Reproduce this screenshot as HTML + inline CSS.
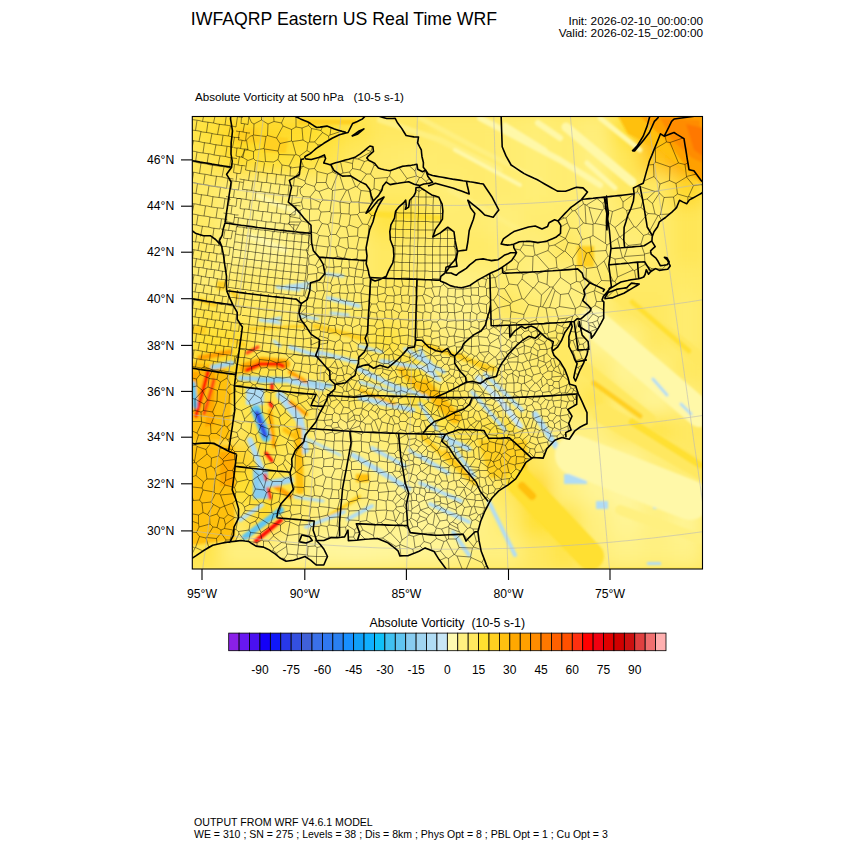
<!DOCTYPE html>
<html><head><meta charset="utf-8">
<style>
html,body{margin:0;padding:0;background:#fff;width:850px;height:850px;overflow:hidden}
svg{display:block}
text{font-family:"Liberation Sans",sans-serif;fill:#000}
</style></head><body>
<svg width="850" height="850" viewBox="0 0 850 850">
<defs><clipPath id="mc"><rect x="192.3" y="116.5" width="510.2" height="452.5"/></clipPath><filter id="blur" x="-5%" y="-5%" width="110%" height="110%"><feGaussianBlur stdDeviation="1.3"/></filter><filter id="gblur" x="0" y="0" width="100%" height="100%"><feGaussianBlur stdDeviation="9" edgeMode="duplicate"/></filter></defs>

<text x="190.8" y="25.3" font-size="17.7">IWFAQRP Eastern US Real Time WRF</text>
<text x="703" y="24.5" font-size="11.75" text-anchor="end">Init: 2026-02-10_00:00:00</text>
<text x="703" y="37.2" font-size="11.75" text-anchor="end">Valid: 2026-02-15_02:00:00</text>
<text x="195" y="101.2" font-size="11.65" xml:space="preserve">Absolute Vorticity at 500 hPa   (10-5 s-1)</text>
<text x="194" y="826" font-size="10.6">OUTPUT FROM WRF V4.6.1 MODEL</text>
<text x="194" y="837.5" font-size="10.52">WE = 310 ; SN = 275 ; Levels = 38 ; Dis = 8km ; Phys Opt = 8 ; PBL Opt = 1 ; Cu Opt = 3</text>

<g clip-path="url(#mc)">
<rect x="192.3" y="116.5" width="510.2" height="452.5" fill="#FFE860"/>
<g filter="url(#gblur)"><rect x="191" y="115" width="32" height="32" fill="#FFE23A"/><rect x="221" y="115" width="32" height="32" fill="#FFD828"/><rect x="251" y="115" width="32" height="32" fill="#FFD828"/><rect x="281" y="115" width="32" height="32" fill="#FFDB2B"/><rect x="311" y="115" width="32" height="32" fill="#FFE030"/><rect x="341" y="115" width="32" height="32" fill="#FFE448"/><rect x="371" y="115" width="32" height="32" fill="#FFE860"/><rect x="401" y="115" width="32" height="32" fill="#FFE860"/><rect x="431" y="115" width="32" height="32" fill="#FFEB6D"/><rect x="461" y="115" width="32" height="32" fill="#FFEB6D"/><rect x="491" y="115" width="32" height="32" fill="#FFEC70"/><rect x="521" y="115" width="32" height="32" fill="#FFEE76"/><rect x="551" y="115" width="32" height="32" fill="#FFEC70"/><rect x="581" y="115" width="32" height="32" fill="#FFEE7A"/><rect x="611" y="115" width="32" height="32" fill="#FFE030"/><rect x="641" y="115" width="32" height="32" fill="#FFA400"/><rect x="671" y="115" width="32" height="32" fill="#FF8C00"/><rect x="191" y="145" width="32" height="32" fill="#FFE652"/><rect x="221" y="145" width="32" height="32" fill="#FFDD2D"/><rect x="251" y="145" width="32" height="32" fill="#FFE030"/><rect x="281" y="145" width="32" height="32" fill="#FFE23A"/><rect x="311" y="145" width="32" height="32" fill="#FFE448"/><rect x="341" y="145" width="32" height="32" fill="#FFE860"/><rect x="371" y="145" width="32" height="32" fill="#FFEA6A"/><rect x="401" y="145" width="32" height="32" fill="#FFEC70"/><rect x="431" y="145" width="32" height="32" fill="#FFEB6D"/><rect x="461" y="145" width="32" height="32" fill="#FFEB6D"/><rect x="491" y="145" width="32" height="32" fill="#FFEC70"/><rect x="521" y="145" width="32" height="32" fill="#FFEE76"/><rect x="551" y="145" width="32" height="32" fill="#FFEC70"/><rect x="581" y="145" width="32" height="32" fill="#FFF080"/><rect x="611" y="145" width="32" height="32" fill="#FFE656"/><rect x="641" y="145" width="32" height="32" fill="#FFC818"/><rect x="671" y="145" width="32" height="32" fill="#FFA400"/><rect x="191" y="175" width="32" height="32" fill="#FFEA66"/><rect x="221" y="175" width="32" height="32" fill="#FFEE7A"/><rect x="251" y="175" width="32" height="32" fill="#FFF080"/><rect x="281" y="175" width="32" height="32" fill="#FFEE76"/><rect x="311" y="175" width="32" height="32" fill="#FFEE76"/><rect x="341" y="175" width="32" height="32" fill="#FFEC70"/><rect x="371" y="175" width="32" height="32" fill="#FFEA66"/><rect x="401" y="175" width="32" height="32" fill="#FFEA66"/><rect x="431" y="175" width="32" height="32" fill="#FFEE76"/><rect x="461" y="175" width="32" height="32" fill="#FFEB6D"/><rect x="491" y="175" width="32" height="32" fill="#FFEC70"/><rect x="521" y="175" width="32" height="32" fill="#FFEE76"/><rect x="551" y="175" width="32" height="32" fill="#FFEC70"/><rect x="581" y="175" width="32" height="32" fill="#FFF080"/><rect x="611" y="175" width="32" height="32" fill="#FFE860"/><rect x="641" y="175" width="32" height="32" fill="#FFEA66"/><rect x="671" y="175" width="32" height="32" fill="#FFD828"/><rect x="191" y="205" width="32" height="32" fill="#FFEA66"/><rect x="221" y="205" width="32" height="32" fill="#FFF080"/><rect x="251" y="205" width="32" height="32" fill="#FFF288"/><rect x="281" y="205" width="32" height="32" fill="#FFF080"/><rect x="311" y="205" width="32" height="32" fill="#FFEE76"/><rect x="341" y="205" width="32" height="32" fill="#FFEB6D"/><rect x="371" y="205" width="32" height="32" fill="#FFE343"/><rect x="401" y="205" width="32" height="32" fill="#FFE448"/><rect x="431" y="205" width="32" height="32" fill="#FFEC70"/><rect x="461" y="205" width="32" height="32" fill="#FFEC70"/><rect x="491" y="205" width="32" height="32" fill="#FFEE7A"/><rect x="521" y="205" width="32" height="32" fill="#FFEC70"/><rect x="551" y="205" width="32" height="32" fill="#FFEC70"/><rect x="581" y="205" width="32" height="32" fill="#FFF080"/><rect x="611" y="205" width="32" height="32" fill="#FFEC70"/><rect x="641" y="205" width="32" height="32" fill="#FFEC70"/><rect x="671" y="205" width="32" height="32" fill="#FFE656"/><rect x="191" y="235" width="32" height="32" fill="#FFEA66"/><rect x="221" y="235" width="32" height="32" fill="#FFF288"/><rect x="251" y="235" width="32" height="32" fill="#FFF494"/><rect x="281" y="235" width="32" height="32" fill="#FFF288"/><rect x="311" y="235" width="32" height="32" fill="#FFEE76"/><rect x="341" y="235" width="32" height="32" fill="#FFEC70"/><rect x="371" y="235" width="32" height="32" fill="#FFE860"/><rect x="401" y="235" width="32" height="32" fill="#FFEC70"/><rect x="431" y="235" width="32" height="32" fill="#FFEC70"/><rect x="461" y="235" width="32" height="32" fill="#FFEA66"/><rect x="491" y="235" width="32" height="32" fill="#FFEC70"/><rect x="521" y="235" width="32" height="32" fill="#FFEE7A"/><rect x="551" y="235" width="32" height="32" fill="#FFE860"/><rect x="581" y="235" width="32" height="32" fill="#FFEE7A"/><rect x="611" y="235" width="32" height="32" fill="#FFEE7A"/><rect x="641" y="235" width="32" height="32" fill="#FFEC70"/><rect x="671" y="235" width="32" height="32" fill="#FFE656"/><rect x="191" y="265" width="32" height="32" fill="#FFEE76"/><rect x="221" y="265" width="32" height="32" fill="#FFEC70"/><rect x="251" y="265" width="32" height="32" fill="#FFEC70"/><rect x="281" y="265" width="32" height="32" fill="#FFEE7A"/><rect x="311" y="265" width="32" height="32" fill="#FFEC70"/><rect x="341" y="265" width="32" height="32" fill="#FFEC70"/><rect x="371" y="265" width="32" height="32" fill="#FFE860"/><rect x="401" y="265" width="32" height="32" fill="#FFEA66"/><rect x="431" y="265" width="32" height="32" fill="#FFF288"/><rect x="461" y="265" width="32" height="32" fill="#FFF080"/><rect x="491" y="265" width="32" height="32" fill="#FFEC70"/><rect x="521" y="265" width="32" height="32" fill="#FFF080"/><rect x="551" y="265" width="32" height="32" fill="#FFF080"/><rect x="581" y="265" width="32" height="32" fill="#FFEC70"/><rect x="611" y="265" width="32" height="32" fill="#FFEA66"/><rect x="641" y="265" width="32" height="32" fill="#FFEA66"/><rect x="671" y="265" width="32" height="32" fill="#FFEA66"/><rect x="191" y="295" width="32" height="32" fill="#FFE448"/><rect x="221" y="295" width="32" height="32" fill="#FFE860"/><rect x="251" y="295" width="32" height="32" fill="#FFEA66"/><rect x="281" y="295" width="32" height="32" fill="#FFEC70"/><rect x="311" y="295" width="32" height="32" fill="#FFEA66"/><rect x="341" y="295" width="32" height="32" fill="#FFEA66"/><rect x="371" y="295" width="32" height="32" fill="#FFE860"/><rect x="401" y="295" width="32" height="32" fill="#FFEB6D"/><rect x="431" y="295" width="32" height="32" fill="#FFF288"/><rect x="461" y="295" width="32" height="32" fill="#FFF288"/><rect x="491" y="295" width="32" height="32" fill="#FFE860"/><rect x="521" y="295" width="32" height="32" fill="#FFEC70"/><rect x="551" y="295" width="32" height="32" fill="#FFF080"/><rect x="581" y="295" width="32" height="32" fill="#FFF080"/><rect x="611" y="295" width="32" height="32" fill="#FFE860"/><rect x="641" y="295" width="32" height="32" fill="#FFE860"/><rect x="671" y="295" width="32" height="32" fill="#FFEC70"/><rect x="191" y="325" width="32" height="32" fill="#FFE030"/><rect x="221" y="325" width="32" height="32" fill="#FFE030"/><rect x="251" y="325" width="32" height="32" fill="#FFE860"/><rect x="281" y="325" width="32" height="32" fill="#FFE860"/><rect x="311" y="325" width="32" height="32" fill="#FFE860"/><rect x="341" y="325" width="32" height="32" fill="#FFE860"/><rect x="371" y="325" width="32" height="32" fill="#FFE23A"/><rect x="401" y="325" width="32" height="32" fill="#FFE860"/><rect x="431" y="325" width="32" height="32" fill="#FFEE7A"/><rect x="461" y="325" width="32" height="32" fill="#FFF080"/><rect x="491" y="325" width="32" height="32" fill="#FFF288"/><rect x="521" y="325" width="32" height="32" fill="#FFEC70"/><rect x="551" y="325" width="32" height="32" fill="#FFE860"/><rect x="581" y="325" width="32" height="32" fill="#FFF494"/><rect x="611" y="325" width="32" height="32" fill="#FFF288"/><rect x="641" y="325" width="32" height="32" fill="#FFE860"/><rect x="671" y="325" width="32" height="32" fill="#FFEC70"/><rect x="191" y="355" width="32" height="32" fill="#FFD020"/><rect x="221" y="355" width="32" height="32" fill="#FFD828"/><rect x="251" y="355" width="32" height="32" fill="#FFE448"/><rect x="281" y="355" width="32" height="32" fill="#FFE860"/><rect x="311" y="355" width="32" height="32" fill="#FFE860"/><rect x="341" y="355" width="32" height="32" fill="#FFE860"/><rect x="371" y="355" width="32" height="32" fill="#FFE860"/><rect x="401" y="355" width="32" height="32" fill="#FFE030"/><rect x="431" y="355" width="32" height="32" fill="#FFEC70"/><rect x="461" y="355" width="32" height="32" fill="#FFEC70"/><rect x="491" y="355" width="32" height="32" fill="#FFEE7A"/><rect x="521" y="355" width="32" height="32" fill="#FFEC70"/><rect x="551" y="355" width="32" height="32" fill="#FFE860"/><rect x="581" y="355" width="32" height="32" fill="#FFEC70"/><rect x="611" y="355" width="32" height="32" fill="#FFF494"/><rect x="641" y="355" width="32" height="32" fill="#FFF080"/><rect x="671" y="355" width="32" height="32" fill="#FFE860"/><rect x="191" y="385" width="32" height="32" fill="#FFC818"/><rect x="221" y="385" width="32" height="32" fill="#FFE448"/><rect x="251" y="385" width="32" height="32" fill="#FFE448"/><rect x="281" y="385" width="32" height="32" fill="#FFE448"/><rect x="311" y="385" width="32" height="32" fill="#FFE860"/><rect x="341" y="385" width="32" height="32" fill="#FFE860"/><rect x="371" y="385" width="32" height="32" fill="#FFEA66"/><rect x="401" y="385" width="32" height="32" fill="#FFE23A"/><rect x="431" y="385" width="32" height="32" fill="#FFE448"/><rect x="461" y="385" width="32" height="32" fill="#FFEC70"/><rect x="491" y="385" width="32" height="32" fill="#FFEE7A"/><rect x="521" y="385" width="32" height="32" fill="#FFEE7A"/><rect x="551" y="385" width="32" height="32" fill="#FFEC70"/><rect x="581" y="385" width="32" height="32" fill="#FFE448"/><rect x="611" y="385" width="32" height="32" fill="#FFF080"/><rect x="641" y="385" width="32" height="32" fill="#FFF494"/><rect x="671" y="385" width="32" height="32" fill="#FFEE7A"/><rect x="191" y="415" width="32" height="32" fill="#FFC818"/><rect x="221" y="415" width="32" height="32" fill="#FFE860"/><rect x="251" y="415" width="32" height="32" fill="#FFE030"/><rect x="281" y="415" width="32" height="32" fill="#FFE448"/><rect x="311" y="415" width="32" height="32" fill="#FFF080"/><rect x="341" y="415" width="32" height="32" fill="#FFF080"/><rect x="371" y="415" width="32" height="32" fill="#FFEC70"/><rect x="401" y="415" width="32" height="32" fill="#FFEC70"/><rect x="431" y="415" width="32" height="32" fill="#FFE448"/><rect x="461" y="415" width="32" height="32" fill="#FFE448"/><rect x="491" y="415" width="32" height="32" fill="#FFE030"/><rect x="521" y="415" width="32" height="32" fill="#FFEC70"/><rect x="551" y="415" width="32" height="32" fill="#FFF080"/><rect x="581" y="415" width="32" height="32" fill="#FFF080"/><rect x="611" y="415" width="32" height="32" fill="#FFE860"/><rect x="641" y="415" width="32" height="32" fill="#FFE448"/><rect x="671" y="415" width="32" height="32" fill="#FFE860"/><rect x="191" y="445" width="32" height="32" fill="#FFC818"/><rect x="221" y="445" width="32" height="32" fill="#FFD020"/><rect x="251" y="445" width="32" height="32" fill="#FFE448"/><rect x="281" y="445" width="32" height="32" fill="#FFE860"/><rect x="311" y="445" width="32" height="32" fill="#FFF288"/><rect x="341" y="445" width="32" height="32" fill="#FFF080"/><rect x="371" y="445" width="32" height="32" fill="#FFF080"/><rect x="401" y="445" width="32" height="32" fill="#FFF080"/><rect x="431" y="445" width="32" height="32" fill="#FFEC70"/><rect x="461" y="445" width="32" height="32" fill="#FFE860"/><rect x="491" y="445" width="32" height="32" fill="#FFD828"/><rect x="521" y="445" width="32" height="32" fill="#FFE860"/><rect x="551" y="445" width="32" height="32" fill="#FFF288"/><rect x="581" y="445" width="32" height="32" fill="#FFF494"/><rect x="611" y="445" width="32" height="32" fill="#FFF494"/><rect x="641" y="445" width="32" height="32" fill="#FFEE7A"/><rect x="671" y="445" width="32" height="32" fill="#FFEA66"/><rect x="191" y="475" width="32" height="32" fill="#FFD020"/><rect x="221" y="475" width="32" height="32" fill="#FFE030"/><rect x="251" y="475" width="32" height="32" fill="#FFE030"/><rect x="281" y="475" width="32" height="32" fill="#FFE448"/><rect x="311" y="475" width="32" height="32" fill="#FFF288"/><rect x="341" y="475" width="32" height="32" fill="#FFEC70"/><rect x="371" y="475" width="32" height="32" fill="#FFF288"/><rect x="401" y="475" width="32" height="32" fill="#FFF494"/><rect x="431" y="475" width="32" height="32" fill="#FFF288"/><rect x="461" y="475" width="32" height="32" fill="#FFF080"/><rect x="491" y="475" width="32" height="32" fill="#FFE860"/><rect x="521" y="475" width="32" height="32" fill="#FFD828"/><rect x="551" y="475" width="32" height="32" fill="#FFF080"/><rect x="581" y="475" width="32" height="32" fill="#FFF494"/><rect x="611" y="475" width="32" height="32" fill="#FFF6A0"/><rect x="641" y="475" width="32" height="32" fill="#FFF288"/><rect x="671" y="475" width="32" height="32" fill="#FFF080"/><rect x="191" y="505" width="32" height="32" fill="#FFD828"/><rect x="221" y="505" width="32" height="32" fill="#FFE860"/><rect x="251" y="505" width="32" height="32" fill="#FFD828"/><rect x="281" y="505" width="32" height="32" fill="#FFEC70"/><rect x="311" y="505" width="32" height="32" fill="#FFF080"/><rect x="341" y="505" width="32" height="32" fill="#FFF288"/><rect x="371" y="505" width="32" height="32" fill="#FFF288"/><rect x="401" y="505" width="32" height="32" fill="#FFF494"/><rect x="431" y="505" width="32" height="32" fill="#FFF494"/><rect x="461" y="505" width="32" height="32" fill="#FFF288"/><rect x="491" y="505" width="32" height="32" fill="#FFEC70"/><rect x="521" y="505" width="32" height="32" fill="#FFE030"/><rect x="551" y="505" width="32" height="32" fill="#FFE448"/><rect x="581" y="505" width="32" height="32" fill="#FFF080"/><rect x="611" y="505" width="32" height="32" fill="#FFF494"/><rect x="641" y="505" width="32" height="32" fill="#FFF080"/><rect x="671" y="505" width="32" height="32" fill="#FFF494"/><rect x="191" y="535" width="32" height="32" fill="#FFE448"/><rect x="221" y="535" width="32" height="32" fill="#FFF080"/><rect x="251" y="535" width="32" height="32" fill="#FFF080"/><rect x="281" y="535" width="32" height="32" fill="#FFF494"/><rect x="311" y="535" width="32" height="32" fill="#FFF69C"/><rect x="341" y="535" width="32" height="32" fill="#FFF6A0"/><rect x="371" y="535" width="32" height="32" fill="#FFF69C"/><rect x="401" y="535" width="32" height="32" fill="#FFF494"/><rect x="431" y="535" width="32" height="32" fill="#FFF494"/><rect x="461" y="535" width="32" height="32" fill="#FFF080"/><rect x="491" y="535" width="32" height="32" fill="#FFF080"/><rect x="521" y="535" width="32" height="32" fill="#FFE860"/><rect x="551" y="535" width="32" height="32" fill="#FFE448"/><rect x="581" y="535" width="32" height="32" fill="#FFEE7A"/><rect x="611" y="535" width="32" height="32" fill="#FFF288"/><rect x="641" y="535" width="32" height="32" fill="#FFF080"/><rect x="671" y="535" width="32" height="32" fill="#FFF288"/></g>
<g filter="url(#blur)">
<polygon fill="#FFD020" points="236,129 258,129 260,143 236,143"/>
<polygon fill="#FFD020" points="262,135 288,138 286,153 264,152"/>
<polygon fill="#FFC010" points="618,116 703,116 703,185 684,170 660,150 628,134"/>
<polygon fill="#FFA000" points="640,116 703,116 703,182 690,172 666,140 650,126"/>
<polygon fill="#FF8C00" points="660,118 700,120 703,163 692,158 672,140"/>
<polygon fill="#FF7800" points="686,124 703,128 703,156 694,150"/>
<polygon fill="#FFD020" points="577,246 594,246 594,267 577,267"/>
<polygon fill="#FFC010" points="190,362 225,366 232,390 230,440 190,440"/>
<polygon fill="#FFA800" points="192,372 215,372 214,425 192,430"/>
<polygon fill="#FFC010" points="192,446 234,446 235,540 192,545"/>
<polygon fill="#FFA800" points="220,452 235,452 235,486 220,486"/>
<polygon fill="#FFD020" points="217,281 226,281 226,290 217,290"/>
<polygon fill="#FFD020" points="192,326 206,326 206,334 192,334"/>
<polygon fill="#B0DCF4" points="246,388 264,388 264,405 246,405"/>
<polygon fill="#88CCF0" points="253,469 268,469 268,499 253,499"/>
<polygon fill="#FFC010" points="356,474 369,474 369,482 356,482"/>
<polygon fill="#FFD020" points="478,440 527,440 527,478 490,478"/>
<polygon fill="#B0DCF4" points="564,474 587,474 587,484 564,484"/>
<polygon fill="#B0DCF4" points="596,501 608,501 608,509 596,509"/>
<polygon fill="#B0DCF4" points="653,505 657,505 657,509 653,509"/>
<polygon fill="#B0DCF4" points="615,345 623,345 623,349 615,349"/>
<polygon fill="#B0DCF4" points="647,562 661,562 661,565 647,565"/>
<polyline fill="none" stroke="#FFD020" stroke-width="5" stroke-linecap="round" stroke-linejoin="round" points="300,122 355,122"/>
<polyline fill="none" stroke="#FFF8A8" stroke-width="6" stroke-linecap="round" stroke-linejoin="round" points="250,236 285,250"/>
<polyline fill="none" stroke="#FFF8A8" stroke-width="5" stroke-linecap="round" stroke-linejoin="round" points="258,196 300,214"/>
<polyline fill="none" stroke="#FFF080" stroke-width="6" stroke-linecap="round" stroke-linejoin="round" points="380,120 440,140 500,170"/>
<polyline fill="none" stroke="#FFF080" stroke-width="5" stroke-linecap="round" stroke-linejoin="round" points="420,118 480,150 540,180"/>
<polyline fill="none" stroke="#FFF080" stroke-width="5" stroke-linecap="round" stroke-linejoin="round" points="450,190 520,230"/>
<polyline fill="none" stroke="#FFE030" stroke-width="6" stroke-linecap="round" stroke-linejoin="round" points="372,214 440,218"/>
<polyline fill="none" stroke="#FFF8A8" stroke-width="9" stroke-linecap="round" stroke-linejoin="round" points="566,127 632,182"/>
<polyline fill="none" stroke="#FFF8A8" stroke-width="6" stroke-linecap="round" stroke-linejoin="round" points="480,118 560,160 600,185"/>
<polyline fill="none" stroke="#FFF8A8" stroke-width="5" stroke-linecap="round" stroke-linejoin="round" points="600,118 640,150"/>
<polyline fill="none" stroke="#FFF8A8" stroke-width="4" stroke-linecap="round" stroke-linejoin="round" points="455,150 520,185"/>
<polyline fill="none" stroke="#FFF8A8" stroke-width="6" stroke-linecap="round" stroke-linejoin="round" points="538,123 560,138"/>
<polyline fill="none" stroke="#FFF8A8" stroke-width="5" stroke-linecap="round" stroke-linejoin="round" points="587,163 615,188"/>
<polyline fill="none" stroke="#FFF8A8" stroke-width="5" stroke-linecap="round" stroke-linejoin="round" points="505,125 545,150"/>
<polyline fill="none" stroke="#FFC010" stroke-width="14" stroke-linecap="round" stroke-linejoin="round" points="204,380 198,425"/>
<polyline fill="none" stroke="#FF0000" stroke-width="4" stroke-linecap="round" stroke-linejoin="round" points="208,372 196,416"/>
<polyline fill="none" stroke="#FF3010" stroke-width="3" stroke-linecap="round" stroke-linejoin="round" points="214,380 204,414"/>
<polyline fill="none" stroke="#60C4F0" stroke-width="5" stroke-linecap="round" stroke-linejoin="round" points="193,384 195,406"/>
<polyline fill="none" stroke="#FFA000" stroke-width="5" stroke-linecap="round" stroke-linejoin="round" points="200,358 230,352"/>
<polyline fill="none" stroke="#FFA800" stroke-width="10" stroke-linecap="round" stroke-linejoin="round" points="245,368 262,362 285,364"/>
<polyline fill="none" stroke="#FF0000" stroke-width="4" stroke-linecap="round" stroke-linejoin="round" points="247,370 260,364 279,364 283,366"/>
<polyline fill="none" stroke="#FF3010" stroke-width="3" stroke-linecap="round" stroke-linejoin="round" points="247,353 258,347"/>
<polyline fill="none" stroke="#A0D4F0" stroke-width="5" stroke-linecap="round" stroke-linejoin="round" points="213,367 232,363"/>
<polyline fill="none" stroke="#A0D4F0" stroke-width="5" stroke-linecap="round" stroke-linejoin="round" points="240,378 300,381 330,386"/>
<polyline fill="none" stroke="#B0DCF4" stroke-width="3" stroke-linecap="round" stroke-linejoin="round" points="260,320 280,323"/>
<polyline fill="none" stroke="#B0DCF4" stroke-width="3" stroke-linecap="round" stroke-linejoin="round" points="279,288 309,283"/>
<polyline fill="none" stroke="#FFD020" stroke-width="4" stroke-linecap="round" stroke-linejoin="round" points="232,292 238,298"/>
<polyline fill="none" stroke="#FFD020" stroke-width="3" stroke-linecap="round" stroke-linejoin="round" points="249,329 305,326"/>
<polyline fill="none" stroke="#B0DCF4" stroke-width="3" stroke-linecap="round" stroke-linejoin="round" points="268,321 280,318"/>
<polyline fill="none" stroke="#B0DCF4" stroke-width="3" stroke-linecap="round" stroke-linejoin="round" points="277,287 299,290"/>
<polyline fill="none" stroke="#B0DCF4" stroke-width="3" stroke-linecap="round" stroke-linejoin="round" points="274,341 280,346"/>
<polyline fill="none" stroke="#FFD020" stroke-width="4" stroke-linecap="round" stroke-linejoin="round" points="200,300 215,305"/>
<polyline fill="none" stroke="#FFD020" stroke-width="3" stroke-linecap="round" stroke-linejoin="round" points="230,340 245,345"/>
<polyline fill="none" stroke="#88CCF0" stroke-width="6" stroke-linecap="round" stroke-linejoin="round" points="260,380 281,380"/>
<polyline fill="none" stroke="#60C4F0" stroke-width="10" stroke-linecap="round" stroke-linejoin="round" points="256,410 266,437"/>
<polyline fill="none" stroke="#3050E5" stroke-width="5" stroke-linecap="round" stroke-linejoin="round" points="257,413 265,435"/>
<polyline fill="none" stroke="#B0DCF4" stroke-width="8" stroke-linecap="round" stroke-linejoin="round" points="280,395 300,420 305,450"/>
<polyline fill="none" stroke="#B0DCF4" stroke-width="6" stroke-linecap="round" stroke-linejoin="round" points="250,440 262,470"/>
<polyline fill="none" stroke="#FF0000" stroke-width="3" stroke-linecap="round" stroke-linejoin="round" points="272,384 272,389"/>
<polyline fill="none" stroke="#FF0000" stroke-width="3" stroke-linecap="round" stroke-linejoin="round" points="270,403 272,407"/>
<polyline fill="none" stroke="#FFA000" stroke-width="4" stroke-linecap="round" stroke-linejoin="round" points="290,402 306,414"/>
<polyline fill="none" stroke="#FFA800" stroke-width="4" stroke-linecap="round" stroke-linejoin="round" points="270,411 274,446"/>
<polyline fill="none" stroke="#FF0000" stroke-width="3" stroke-linecap="round" stroke-linejoin="round" points="266,453 272,461"/>
<polyline fill="none" stroke="#FFC010" stroke-width="5" stroke-linecap="round" stroke-linejoin="round" points="285,430 300,440"/>
<polyline fill="none" stroke="#FF0000" stroke-width="3" stroke-linecap="round" stroke-linejoin="round" points="265,475 270,498"/>
<polyline fill="none" stroke="#FFA000" stroke-width="5" stroke-linecap="round" stroke-linejoin="round" points="272,484 290,496"/>
<polyline fill="none" stroke="#A0D4F0" stroke-width="7" stroke-linecap="round" stroke-linejoin="round" points="262,485 290,480"/>
<polyline fill="none" stroke="#60C4F0" stroke-width="6" stroke-linecap="round" stroke-linejoin="round" points="245,537 281,510"/>
<polyline fill="none" stroke="#FF0000" stroke-width="4" stroke-linecap="round" stroke-linejoin="round" points="256,541 281,520"/>
<polyline fill="none" stroke="#B0DCF4" stroke-width="4" stroke-linecap="round" stroke-linejoin="round" points="240,520 262,505"/>
<polyline fill="none" stroke="#B0DCF4" stroke-width="4" stroke-linecap="round" stroke-linejoin="round" points="328,298 359,306"/>
<polyline fill="none" stroke="#B0DCF4" stroke-width="3" stroke-linecap="round" stroke-linejoin="round" points="290,286 310,288"/>
<polyline fill="none" stroke="#B0DCF4" stroke-width="3" stroke-linecap="round" stroke-linejoin="round" points="326,274 343,276"/>
<polyline fill="none" stroke="#B0DCF4" stroke-width="3" stroke-linecap="round" stroke-linejoin="round" points="300,316 318,319"/>
<polyline fill="none" stroke="#B0DCF4" stroke-width="3" stroke-linecap="round" stroke-linejoin="round" points="331,313 348,315"/>
<polyline fill="none" stroke="#B0DCF4" stroke-width="3" stroke-linecap="round" stroke-linejoin="round" points="333,331 348,336"/>
<polyline fill="none" stroke="#B0DCF4" stroke-width="4" stroke-linecap="round" stroke-linejoin="round" points="290,347 318,356"/>
<polyline fill="none" stroke="#B0DCF4" stroke-width="4" stroke-linecap="round" stroke-linejoin="round" points="318,352 356,362"/>
<polyline fill="none" stroke="#B0DCF4" stroke-width="3" stroke-linecap="round" stroke-linejoin="round" points="359,346 382,352"/>
<polyline fill="none" stroke="#FFD020" stroke-width="5" stroke-linecap="round" stroke-linejoin="round" points="315,326 364,339"/>
<polyline fill="none" stroke="#FFA000" stroke-width="4" stroke-linecap="round" stroke-linejoin="round" points="290,372 306,382"/>
<polyline fill="none" stroke="#B0DCF4" stroke-width="5" stroke-linecap="round" stroke-linejoin="round" points="359,369 405,392"/>
<polyline fill="none" stroke="#B0DCF4" stroke-width="4" stroke-linecap="round" stroke-linejoin="round" points="381,361 430,369"/>
<polyline fill="none" stroke="#B0DCF4" stroke-width="4" stroke-linecap="round" stroke-linejoin="round" points="405,349 430,362"/>
<polyline fill="none" stroke="#B0DCF4" stroke-width="4" stroke-linecap="round" stroke-linejoin="round" points="290,382 323,389"/>
<polyline fill="none" stroke="#B0DCF4" stroke-width="4" stroke-linecap="round" stroke-linejoin="round" points="389,384 430,398"/>
<polyline fill="none" stroke="#B0DCF4" stroke-width="4" stroke-linecap="round" stroke-linejoin="round" points="415,356 444,372"/>
<polyline fill="none" stroke="#C8E6F6" stroke-width="4" stroke-linecap="round" stroke-linejoin="round" points="420,366 440,380"/>
<polyline fill="none" stroke="#FFC010" stroke-width="7" stroke-linecap="round" stroke-linejoin="round" points="402,370 423,391"/>
<polyline fill="none" stroke="#FFA800" stroke-width="3" stroke-linecap="round" stroke-linejoin="round" points="409,375 420,386"/>
<polyline fill="none" stroke="#FFD020" stroke-width="4" stroke-linecap="round" stroke-linejoin="round" points="405,372 422,385"/>
<polyline fill="none" stroke="#B0DCF4" stroke-width="5" stroke-linecap="round" stroke-linejoin="round" points="360,398 413,410"/>
<polyline fill="none" stroke="#B0DCF4" stroke-width="3" stroke-linecap="round" stroke-linejoin="round" points="360,382 400,394"/>
<polyline fill="none" stroke="#FFC010" stroke-width="3" stroke-linecap="round" stroke-linejoin="round" points="360,390 395,404"/>
<polyline fill="none" stroke="#B0DCF4" stroke-width="4" stroke-linecap="round" stroke-linejoin="round" points="420,350 437,379"/>
<polyline fill="none" stroke="#B0DCF4" stroke-width="4" stroke-linecap="round" stroke-linejoin="round" points="420,404 437,429"/>
<polyline fill="none" stroke="#FFD020" stroke-width="5" stroke-linecap="round" stroke-linejoin="round" points="425,345 494,369"/>
<polyline fill="none" stroke="#C8E6F6" stroke-width="6" stroke-linecap="round" stroke-linejoin="round" points="478,378 500,400 520,426"/>
<polyline fill="none" stroke="#B0DCF4" stroke-width="4" stroke-linecap="round" stroke-linejoin="round" points="485,374 522,410"/>
<polyline fill="none" stroke="#B0DCF4" stroke-width="4" stroke-linecap="round" stroke-linejoin="round" points="472,392 505,430"/>
<polyline fill="none" stroke="#B0DCF4" stroke-width="6" stroke-linecap="round" stroke-linejoin="round" points="535,414 556,446"/>
<polyline fill="none" stroke="#FFC010" stroke-width="12" stroke-linecap="round" stroke-linejoin="round" points="425,385 455,418"/>
<polyline fill="none" stroke="#B0DCF4" stroke-width="5" stroke-linecap="round" stroke-linejoin="round" points="441,435 469,449"/>
<polyline fill="none" stroke="#FFD020" stroke-width="4" stroke-linecap="round" stroke-linejoin="round" points="460,355 487,370"/>
<polyline fill="none" stroke="#B0DCF4" stroke-width="5" stroke-linecap="round" stroke-linejoin="round" points="353,455 409,489"/>
<polyline fill="none" stroke="#B0DCF4" stroke-width="4" stroke-linecap="round" stroke-linejoin="round" points="372,448 405,466"/>
<polyline fill="none" stroke="#B0DCF4" stroke-width="3" stroke-linecap="round" stroke-linejoin="round" points="295,497 323,501"/>
<polyline fill="none" stroke="#B0DCF4" stroke-width="4" stroke-linecap="round" stroke-linejoin="round" points="348,519 372,506"/>
<polyline fill="none" stroke="#FFD020" stroke-width="4" stroke-linecap="round" stroke-linejoin="round" points="315,525 359,497"/>
<polyline fill="none" stroke="#B0DCF4" stroke-width="4" stroke-linecap="round" stroke-linejoin="round" points="306,527 344,512"/>
<polyline fill="none" stroke="#FFC010" stroke-width="8" stroke-linecap="round" stroke-linejoin="round" points="298,430 300,490"/>
<polyline fill="none" stroke="#B0DCF4" stroke-width="3" stroke-linecap="round" stroke-linejoin="round" points="309,440 340,455"/>
<polyline fill="none" stroke="#B0DCF4" stroke-width="3" stroke-linecap="round" stroke-linejoin="round" points="409,450 430,463"/>
<polyline fill="none" stroke="#FFD020" stroke-width="5" stroke-linecap="round" stroke-linejoin="round" points="423,437 474,483"/>
<polyline fill="none" stroke="#FFC010" stroke-width="3" stroke-linecap="round" stroke-linejoin="round" points="445,451 469,477"/>
<polyline fill="none" stroke="#B0DCF4" stroke-width="4" stroke-linecap="round" stroke-linejoin="round" points="450,443 474,476"/>
<polyline fill="none" stroke="#B0DCF4" stroke-width="4" stroke-linecap="round" stroke-linejoin="round" points="420,456 448,473"/>
<polyline fill="none" stroke="#B0DCF4" stroke-width="4" stroke-linecap="round" stroke-linejoin="round" points="420,483 461,501"/>
<polyline fill="none" stroke="#B0DCF4" stroke-width="4" stroke-linecap="round" stroke-linejoin="round" points="430,504 469,522"/>
<polyline fill="none" stroke="#B0DCF4" stroke-width="4" stroke-linecap="round" stroke-linejoin="round" points="453,532 469,555"/>
<polyline fill="none" stroke="#B0DCF4" stroke-width="4" stroke-linecap="round" stroke-linejoin="round" points="489,502 515,555"/>
<polyline fill="none" stroke="#FFE860" stroke-width="14" stroke-linecap="round" stroke-linejoin="round" points="615,292 704,362"/>
<polyline fill="none" stroke="#FFE030" stroke-width="5" stroke-linecap="round" stroke-linejoin="round" points="632,302 689,351"/>
<polyline fill="none" stroke="#FFF8A8" stroke-width="28" stroke-linecap="round" stroke-linejoin="round" points="593,322 700,413"/>
<polyline fill="none" stroke="#FFE860" stroke-width="14" stroke-linecap="round" stroke-linejoin="round" points="579,364 649,420"/>
<polyline fill="none" stroke="#FFD020" stroke-width="5" stroke-linecap="round" stroke-linejoin="round" points="594,383 640,416"/>
<polyline fill="none" stroke="#FFE860" stroke-width="20" stroke-linecap="round" stroke-linejoin="round" points="603,414 703,470"/>
<polyline fill="none" stroke="#FFE030" stroke-width="7" stroke-linecap="round" stroke-linejoin="round" points="632,422 700,465"/>
<polyline fill="none" stroke="#FFF8A8" stroke-width="40" stroke-linecap="round" stroke-linejoin="round" points="575,455 690,500"/>
<polyline fill="none" stroke="#FFE030" stroke-width="28" stroke-linecap="round" stroke-linejoin="round" points="520,482 590,556"/>
<polyline fill="none" stroke="#FFC010" stroke-width="8" stroke-linecap="round" stroke-linejoin="round" points="522,486 532,496"/>
<polyline fill="none" stroke="#FFF080" stroke-width="10" stroke-linecap="round" stroke-linejoin="round" points="620,510 703,540"/>
<polyline fill="none" stroke="#B0DCF4" stroke-width="3" stroke-linecap="round" stroke-linejoin="round" points="653,379 667,395"/>
<polyline fill="none" stroke="#B0DCF4" stroke-width="3" stroke-linecap="round" stroke-linejoin="round" points="681,404 691,414"/>
</g>
<path transform="scale(0.5)" d="M380 238l3 1M380 259l3 1 8 1M380 280l3 1 8 1 7 1M380 301l3 1M380 322l3 1 8 1M380 343l3 1 8 1 8 2M380 364l4 1M380 385l4 1 8 1M380 406l4 1 8 1 8 2M380 427l4 1M380 448l5 1 8 1M380 454l1 -6M380 482l1 0 5 1 5 1M380 498l0 1M380 515l5 1M380 532l5 1 5 1M380 548l3 -16M380 549l5 0 5 1 6 1M380 565l5 1M380 582l5 1 5 1M380 597l2 -15M380 599l5 0 5 1 6 1M380 615l5 1M380 632l5 1 5 1M380 647l2 -15M380 649l5 1 5 0 6 1M380 665l5 1M380 682l5 1 6 1M380 698l3 -16M380 699l5 1 6 0 5 1M380 715l6 1M380 732l6 1 5 1M380 736l11 0 7 5M393 758l-13 -3M394 772l-14 3M380 796l10 2M384 823l-4 -2M380 835l4 -12M403 843l-23 0M380 843l3 18M383 861l-3 -1M384 862l-4 5M380 891l11 -1M380 912l9 11M380 928l9 -3M380 954l3 0M380 977l5 -3M387 1001l-7 -19M384 1003l-4 -1M384 1003l-4 16M397 1030l-17 -3M380 1041l17 6M393 1065l-13 -1M380 1091l10 5M380 1110l3 0M380 499l6 0 5 1 5 1M380 499l3 -17M384 862l-1 -1M385 1116l-2 -6M383 1110l7 -14M383 302l8 1 7 2 8 1M383 302l4 -21M383 239l8 1 7 1 7 2M383 239l2 -11M383 954l2 20M392 951l-9 3M384 365l7 1 8 2 8 1M384 365l3 -20M387 1001l-3 2M394 866l-10 -4M390 821l-6 2M384 428l8 1 8 2 8 1M384 428l4 -20M385 616l5 1 6 1 5 1M385 616l3 -16M385 566l5 1 6 1 5 1M385 566l3 -16M385 666l6 1 5 1 5 1M385 666l3 -16M385 974l19 2M385 516l6 1 5 1 5 1M385 516l3 -16M386 716l5 1 6 1 5 1M386 716l2 -16M387 1001l12 -1M389 925l0 -2M394 893l-5 30M392 926l-3 -1M391 1095l-1 1M402 824l-12 -3M390 821l0 -23M390 798l15 -16M390 798l18 10M390 584l6 1 5 0 5 1M390 584l3 -17M390 634l6 1 5 0 5 1M390 634l3 -17M390 534l6 1 5 0 5 1M390 534l3 -17M391 261l7 1 7 2 8 1M391 261l3 -20M391 684l5 1 6 0 5 1M391 684l2 -17M391 324l7 2 8 1 8 1M391 324l3 -20M391 484l5 0 5 1 5 1M391 484l3 -17M406 1102l-15 -7M399 1073l-8 22M391 890l3 3M397 870l-6 20M391 734l6 1 5 1 3 0M391 734l3 -16M392 387l7 2 8 1 8 1M392 387l3 -20M396 932l-4 -6M392 926l22 -18M392 951l15 13M396 932l-4 19M393 1065l6 8M398 1054l-5 11M393 450l8 2 8 1 8 1M393 450l3 -20M393 758l1 14M400 749l-7 9M405 781l-11 -9M394 893l18 6M397 870l-3 -4M404 844l-10 22M396 601l5 1 5 1 6 1M396 601l2 -16M396 551l5 1 5 1 5 1M396 551l2 -16M411 937l-15 -5M396 651l5 1 6 1 5 1M396 651l2 -16M396 501l5 1 5 1 5 1M396 501l3 -16M396 701l6 1 5 1 6 1M396 701l3 -16M397 1047l1 7M397 1030l0 17M406 1025l-9 5M397 870l21 2M398 283l8 2 7 1 7 1M398 283l4 -20M398 741l2 8M405 736l-7 5M420 1048l-22 6M399 1000l5 6M399 1000l7 -20M399 347l7 1 8 1 8 2M399 347l3 -21M412 1076l-13 -3M400 410l7 1 8 1 8 2M400 410l3 -21M400 749l17 7M401 569l5 1 5 0 6 1M401 569l2 -17M401 519l5 1 5 0 5 1M401 519l3 -17M401 619l5 1 6 0 5 1M401 619l3 -17M401 473l4 -21M401 669l6 1 5 0 6 1M401 669l3 -16M402 719l6 1 5 0 6 1M402 719l3 -16M402 824l1 19M407 821l-5 3M404 844l-1 -1M404 844l17 4M406 980l-2 -4M407 964l-3 12M406 1025l-2 -19M404 1006l18 -2M405 782l10 18M405 781l0 1M405 781l11 -7M405 736l3 0M408 733l-3 3M405 243l8 1 7 1 7 1M405 243l3 -15M428 984l-22 -4M406 1025l9 4M406 306l7 1 8 1 7 2M406 306l3 -21M406 536l5 1 5 1 6 1M406 536l3 -16M406 586l5 1 6 1 5 1M406 586l3 -16M406 486l5 1 5 1 6 1M406 486l3 -16M406 636l6 1 5 1 6 1M406 636l3 -16M407 369l7 1 8 2 8 1M407 369l3 -20M407 964l7 -6M407 821l18 3M407 821l1 -13M407 686l5 1 6 1 5 1M407 686l3 -16M408 736l5 1 6 1 4 1M408 736l0 -3M408 432l8 1 8 2 8 1M408 432l3 -20M408 808l7 -8M423 739l-15 -6M408 733l2 -13M411 554l6 1 5 0 5 1M411 554l3 -17M411 504l5 1 6 0 5 1M411 504l3 -17M411 937l3 21M411 937l11 -5M412 604l5 1 5 0 5 1M412 604l2 -17M412 654l5 1 6 0 5 1M412 654l3 -17M412 899l2 9M421 887l-9 12M412 1076l5 17M413 1075l-1 1M413 704l5 1 6 0 5 1M413 704l2 -16M413 265l7 1 8 2 7 1M413 265l3 -21M433 1077l-20 -2M413 1075l13 -21M414 328l7 2 8 1 7 1M414 328l3 -20M414 908l9 8M414 958l16 0M417 1093l-3 4M415 391l8 2 7 1 8 1M415 391l3 -20M419 1033l-4 -4M415 1029l12 -20M434 803l-19 -3M416 521l6 1 5 1 5 1M416 521l3 -16M416 774l19 7M416 774l2 -17M417 454l7 2 8 1 8 1 3 -20M417 454l3 -20M417 571l5 1 5 1 5 1M417 571l2 -16M417 621l5 1 6 1 5 1M417 621l2 -16M417 756l1 1M417 756l8 -15M421 1093l-4 0M418 671l5 1 6 1 5 1M418 671l2 -16M418 757l16 2M418 872l3 15M418 872l4 -5M419 721l5 1 6 1 5 1M419 721l2 -16M419 1033l1 15M419 1033l15 -5M420 1048l6 6M420 287l8 2 7 1 8 1M420 287l4 -20M421 848l1 19M421 848l2 -2M421 887l17 5M422 351l7 1 8 1 7 1M422 351l3 -21M422 867l11 0M422 489l5 0 5 1 5 1M422 489l2 -17M422 539l5 0 5 1 5 1M422 539l2 -17M422 589l5 0 6 1 5 1M422 589l2 -17M422 932l7 5M423 916l-1 16M427 1009l-5 -5M422 1004l9 -17M423 639l5 1 5 0 6 1M423 639l2 -17M437 912l-14 4M423 414l8 1 8 1 8 1 3 -20M423 414l3 -21M423 739l1 0M423 739l1 0 1 2M423 689l6 1 5 0 6 1M423 689l3 -17M423 846l23 6M429 831l-6 15M424 739l6 1 6 0 5 1M424 739l3 -16M425 477l3 -21M437 743l-12 -2M425 824l4 7M425 824l9 -21M434 1055l-8 -1M427 506l5 1 5 1 5 0M427 506l2 -16M427 1009l13 7M427 556l5 1 5 1 6 1M427 556l2 -16M427 246l8 2 7 1 8 1M427 246l4 -18M427 606l6 1 5 1 5 1M427 606l3 -16M428 656l6 1 5 1 5 1M428 656l3 -16M428 310l8 1 7 1 8 1M428 310l4 -21M431 987l-3 -3M430 958l-2 26M429 831l16 1M429 706l6 1 5 1 6 1M429 706l3 -16M433 951l-4 -14M429 937l17 -10M430 373l7 1 8 1 8 2 3 -21M430 373l3 -21M431 957l-1 1M439 988l-8 -1M431 957l17 10M431 957l2 -6M432 436l7 1 8 1 6 1M432 436l3 -20M432 524l5 0 5 1 5 1M432 524l2 -17M432 574l6 0 5 1 5 1 3 -16M432 574l3 -17M434 1089l-1 -12M442 1066l-9 11M433 624l5 0 6 1 5 1M433 624l2 -17M433 867l15 10M433 867l13 -15M433 951l19 -7M434 1028l5 7M440 1016l-6 12M442 1060l-8 -5M434 1055l5 -20M434 802l0 1M434 674l5 0 6 1 5 1M434 674l2 -17M452 808l-18 -6M434 802l1 -21M441 764l-7 -5M437 743l-3 16M437 779l-2 2M435 269l8 1 7 1 7 1M435 269l4 -21M435 724l6 0 5 1 6 1M435 724l2 -17M436 332l8 1 7 1 8 2 3 -21M436 332l4 -20M437 491l5 1 5 1 5 0M437 491l2 -16M452 780l-15 -1M437 779l4 -15M437 541l5 1 6 1 5 0 2 -16M437 541l3 -16M437 912l8 7M440 896l-3 16M437 743l4 -1 15 8M438 892l2 4M438 892l10 -15M438 591l5 1 5 1 6 0M438 591l2 -16M438 395l8 1 8 2 5 0M438 395l3 -20M439 641l5 1 5 1 6 0M439 641l2 -16M441 990l-2 -2M439 988l11 -18M448 1037l-9 -2M440 1016l9 -4M440 691l5 1 6 1 5 0M440 691l2 -16M465 899l-25 -3M454 756l-13 8M441 741l6 1 5 1 6 0M441 741l2 -16M441 990l8 22M471 987l-30 3M442 1066l10 14M442 1066l0 -6M442 1060l7 -3M442 458l5 1 5 1 5 1M442 508l5 1 5 1 6 1 2 -17M442 508l3 -16M443 559l5 0 5 1 5 1M443 559l2 -17M443 291l7 1 8 1 7 2 4 -21M443 291l3 -20M443 609l6 0 5 1 1 0M443 609l3 -17M444 228l5 1 8 1 7 1M444 659l6 0 5 1 6 1M444 659l3 -17M444 354l8 2 8 1 7 1M444 354l4 -20M445 832l2 2M452 808l-7 24M445 919l2 3M465 899l-20 20M446 709l5 0 6 1 5 1M446 709l2 -17M449 851l-3 1M456 941l-10 -14M447 922l-1 5M469 919l-22 3M447 426l5 1 5 0 5 1M447 834l2 17M465 831l-18 3M447 526l6 1 5 0 5 1M447 526l3 -16M448 877l3 -1M451 1049l-3 -12M448 1037l8 -8M450 970l-2 -3M451 961l-3 6M449 1057l17 3M449 1057l2 -8M452 1080l-3 5M449 626l5 1 6 0 5 1M449 626l2 -16M454 854l-5 -3M456 1029l-7 -17M465 1006l-16 6M450 460l-3 16 5 1 5 0 5 1 3 -16M450 250l7 1 7 1 8 2 3 -21M450 250l3 -21M450 970l19 5M450 676l6 1 5 0 6 1M450 676l3 -16M455 879l-4 -3M451 876l7 -15M451 1049l18 -14M451 313l7 2 8 1 8 1M451 313l3 -20M452 944l-1 17M451 961l18 -7M452 726l5 1 6 1 5 0 2 -16M452 726l2 -16M458 806l-6 2M452 393l5 1 5 1 5 0M459 789l-7 -9M461 769l-9 11M452 1080l8 0M452 493l5 1 6 1 4 1M452 493l3 -16M456 941l-4 3M453 439l2 1M453 439l-1 4 5 1 5 1 5 1 2 -11M453 439l1 -12M454 756l7 13M454 756l2 -6M458 861l-4 -7M468 842l-14 12M455 643l5 1 6 1 5 1M455 643l2 -16M455 610l4 1 6 1 5 0 1 0M455 610l2 -16M465 895l-10 -16M476 873l-21 6M456 750l1 -1 10 0M456 693l6 1 5 1 6 1 2 -17M456 693l2 -16M456 941l9 0M456 1029l13 6M457 360l5 1 5 1 5 1M457 461l5 0 5 1 5 1M457 461l3 -17M457 272l8 2 7 1 5 0M457 272l4 -20M457 594l6 1 5 0 5 1M457 594l3 -16M474 865l-16 -4M458 743l5 1 6 1 3 0M458 743l2 -16M458 806l10 5M458 806l1 -17M458 561l-2 14 5 0 5 1 5 1M458 561l0 -2M458 559l5 1 5 1 5 0M458 559l2 -15M459 398l2 1M459 398l-2 13 5 0 5 1 5 1 2 -17M459 398l0 -4M472 783l-13 6M460 1080l4 3M460 1080l6 -20M460 544l5 1 5 1 5 0M460 544l3 -15M461 661l5 1 5 0 6 1 2 -16M461 661l2 -16M461 769l7 2M462 328l5 0 5 1 4 1M462 428l5 1 5 1 5 0M462 428l2 -16M462 711l6 1 5 0 1 0M462 711l2 -16M463 529l4 1 5 0 5 1M463 529l0 -1M463 528l2 -14M464 231l7 1 8 2 4 0M464 231l0 -3M464 362l-2 16 5 1 5 0 5 1 2 -16M465 831l3 11M472 817l-7 14M465 514l5 1 5 0 5 1M465 514l2 -15M465 895l0 4M469 903l-4 -4M465 941l1 2M465 941l7 -15M465 628l5 1 6 1 5 0 2 -16M465 628l2 -16M479 878l-14 17M465 1006l12 30M471 1001l-6 5M490 944l-24 -1M466 943l3 11M466 1060l6 -1M467 678l5 1 5 1 4 0M467 678l2 -16M467 395l5 1 3 1M467 395l2 -16M467 499l5 0 5 1 5 1M467 499l0 -3M467 295l5 1 5 0 4 1M467 749l9 13M467 749l5 -3M467 496l1 0M467 496l2 -12M468 771l1 2M468 771l8 -9M468 435l1 0M468 842l15 6M472 817l-4 -6M485 791l-17 20M474 964l-5 -10M469 435l5 0 6 1 6 1M469 435l0 -6M469 919l3 7M469 903l0 16M472 984l-3 -9M469 975l5 -11M469 903l22 0M469 773l3 10M486 770l-17 3M469 484l5 0 5 1 5 1M469 484l2 -16M469 1035l7 1M469 329l-2 16 5 1 4 1 5 0 3 -16M471 987l0 14M471 987l1 -3M471 612l4 1 6 1 5 0M471 612l2 -16M484 1007l-13 -6M471 646l5 0 6 1 3 0M471 646l2 -17M471 577l5 0 5 1 5 1M471 577l2 -16M471 468l5 1 5 1 5 0M471 468l1 -5M471 1082l7 -15M472 363l5 0 4 1 5 1M472 363l2 -17M489 984l-17 0M472 745l0 1M472 746l13 -1M472 745l2 1M473 728l-1 17M472 262l5 1 4 0 5 1M472 463l1 -10 2 0M472 817l11 4M477 1063l-5 -4M472 1059l4 -23M485 788l-13 -5M486 926l-14 0M473 715l-1 1 -2 10 3 2M473 715l1 -3M488 715l-15 0M487 732l-14 -4M473 596l5 1 5 0 6 1M473 596l2 -16M473 561l5 1 5 1 5 1M473 561l2 -15M474 396l1 1M474 712l5 1M474 712l6 -14 11 2M495 959l-21 5M474 296l-2 16 4 1 5 1 3 0M476 873l-2 -8M482 856l-8 9M474 455l1 -2M475 453l3 1 5 0 5 1M475 453l2 -17M475 397l3 0M475 397l2 0 1 0M475 546l5 1 5 1 5 0M475 546l2 -15M476 762l8 1M476 696l5 1 5 0 6 1M479 878l-3 -5M477 1036l-1 0M476 330l5 1 5 0 5 1M476 330l3 -17M482 1034l-5 2M477 229l5 1 4 0 5 1M477 1063l1 4M498 1060l-21 3M477 275l3 1M477 275l0 5 4 0 5 1 5 1 2 -17M477 275l2 -12M477 531l5 1 5 0 5 1M477 531l3 -15M478 1067l12 15M478 680l3 0M478 397l2 0M478 397l2 0M479 878l10 4M479 358l6 1 6 1 6 1M480 516l4 1 5 0 5 1M480 516l2 -15M480 663l5 1 6 1 5 0M480 397l6 1 6 1M480 397l2 1M481 680l2 0 6 1 5 1M481 680l2 0M481 297l5 1 5 0 5 1M481 297l3 -16M482 501l5 0 4 1 5 1M482 501l2 -15M482 1034l18 13M482 1034l5 -8M498 867l-16 -11M483 848l-1 8M482 647l3 0M483 398l-3 19 6 1 6 0 6 1M483 821l6 17M501 812l-18 9M489 842l-6 6M483 234l3 1M483 234l-1 13 4 0 5 1 5 1 2 -17M483 234l1 -4M484 486l5 0 4 1 5 1M484 486l2 -16M484 1007l5 7M498 991l-14 16M484 314l2 1 2 -11M484 314l12 7 11 -4M484 314l-1 0 5 -10M484 631l6 0 5 1 5 1M487 765l-3 -2M484 763l2 -16M485 745l1 2M487 732l-2 13M485 647l2 1 6 0 5 1M485 647l2 1M485 791l0 -3M485 791l13 12M486 770l-1 18M492 785l-7 3M486 770l1 -5M500 749l-14 -2M486 470l5 1 5 1 4 0M486 470l2 -15M493 932l-7 -6M486 926l5 -23M486 264l5 1 5 1 4 0M486 264l3 -16M486 579l5 0 5 1 5 1M486 579l2 -15M486 437l6 1 7 1 6 1M486 437l3 -19M486 614l3 1M486 614l3 1M486 614l3 -16M487 1026l29 10M487 1026l3 -5M487 732l1 -17M487 765l13 -1M487 732l14 0M488 304l1 -6M488 304l1 -4 7 0M488 455l5 1M488 359l-3 20 6 0 6 1 6 1M489 715l-1 0M488 564l5 0 5 1 5 0M488 564l2 -16M489 598l5 1 5 1 5 0M489 598l2 -16M498 991l-9 -7M499 961l-10 23M489 838l0 4M506 821l-17 17M502 718l-13 -3M489 715l2 -15M489 882l8 13M489 882l9 -15M489 1014l1 7M499 1009l-10 5M489 615l3 0 5 1 5 0M489 615l2 0M504 844l-15 -2M490 1021l27 2M495 959l-5 -15M490 944l3 -12M490 548l5 1 5 1 5 0M490 548l2 -15M491 700l1 -1 16 3 5 6M491 903l4 -3M491 231l5 1 3 0M491 231l1 -3M492 399l6 1 6 1 6 0M492 399l2 -19M492 698l5 1 5 0 6 1M492 698l2 -16M509 788l-17 -3M506 769l-14 16M492 533l5 1 5 0 5 1M492 533l2 -15M493 457l0 -1M493 456l5 0 4 1M493 456l3 -18M493 932l3 -1M494 321l-3 19 6 1 6 1 6 1M494 682l5 0 5 1 6 1M494 682l2 -17M494 518l5 1 5 0 5 1M494 518l2 -15M499 961l-4 -2M508 911l-13 -11M495 900l2 -5M496 931l2 2M496 931l10 -10M496 665l5 1 5 1 6 0M496 665l2 -16M496 300l11 3M496 300l-3 -20 8 -8 5 -1M496 503l5 0 5 1 5 1M496 503l2 -15M514 884l-17 11M497 361l6 1 6 0 6 1M497 361l3 -19M501 1065l-4 18M514 1085l-17 -2M498 649l5 1 5 0 6 1M498 649l2 -16M501 812l-3 -9M509 789l-11 14M501 991l-3 0M498 419l6 1 6 1 6 1M498 419l3 -19M498 1060l3 5M500 1047l-2 13M501 866l-3 1M498 488l5 0 5 1 5 0M498 488l2 -16M498 933l21 0M518 951l-20 -18M504 961l-5 0M518 1010l-19 -1M501 991l-2 18M499 232l1 1 5 0M499 232l-1 2 5 11 5 3M503 228l-4 4M500 764l0 -15M504 745l-4 4M506 769l-6 -5M500 633l5 0 5 1 6 1M500 633l2 -17M511 1042l-11 5M500 472l5 1 5 1 5 0M500 472l2 -15M501 812l5 9M501 812l22 -9M505 990l-4 1M501 866l10 4M504 844l-3 22M501 732l2 1M502 718l-1 14M501 1065l20 2M501 581l5 0 5 1 5 1M501 581l2 -16M502 718l11 -8M502 616l5 1 6 1 5 0M502 616l2 -16M502 457l5 1 5 0M504 745l-1 -12M503 733l15 -4M503 565l5 1 5 1 5 0M503 565l2 -15M503 381l6 1 6 1 6 0M503 381l3 -19M511 978l-7 -17M504 961l11 -8M504 600l5 1 6 0 5 1M504 600l2 -16M504 844l6 -2M518 748l-14 -3M505 440l6 0 6 1 6 1M505 440l2 -19M505 550l5 1 5 1 5 0M505 550l2 -15M505 990l15 17M511 978l-6 12M506 921l13 12M506 921l2 -10M506 821l8 9M511 300l-5 -29M507 270l-1 1M506 769l4 1M507 317l4 4 18 3 2 -1M507 317l0 -14M507 270l25 3M507 270l1 -22M507 535l5 1 5 0 5 1M507 535l2 -15M507 303l4 -3M508 700l5 1 6 0 5 1M508 700l2 -16M508 911l6 0M523 240l-15 8M509 343l5 1 6 0 6 1M509 343l2 -19M509 789l0 -1M509 788l3 -14M509 520l5 1 5 0 5 1M509 520l2 -15M509 789l13 8M510 684l5 0 5 1 6 1M510 684l2 -17M510 401l6 1 6 1 6 1M510 401l2 -19M510 842l11 9M514 830l-4 12M512 774l-2 -4M514 767l-4 3M511 870l3 14M511 870l6 -6M511 505l5 0 5 1 5 1M511 505l2 -16M511 300l17 -3M511 1042l11 23M511 1042l5 -6M511 978l17 2M511 460l1 -2M512 458l5 1M512 458l2 -17M512 667l5 1 5 1 6 0M512 667l2 -16M528 785l-16 -11M519 719l-6 -9M513 710l0 -2M513 708l11 -6M513 489l5 1 5 1 5 0M513 489l2 -15M526 913l-12 -2M514 911l7 -25M514 1085l0 7M514 830l11 -5M514 651l5 1 5 0 6 1M514 651l2 -16M524 1080l-10 5M514 767l19 3M520 752l-6 15M514 884l7 2M515 363l6 1 6 1 6 0M515 363l2 -19M515 474l5 1 5 0 5 1M515 474l2 -15M515 953l13 23M515 953l3 -2M516 635l5 0 5 1 5 1M516 635l2 -17M516 1036l1 -1M516 422l6 1 7 0 6 1M516 422l3 -19M516 583l6 0 5 1 5 0M516 583l2 -16M517 1035l21 13M517 1035l1 -10M518 1025l-1 -2M518 1010l-1 13M517 459l5 1 5 0 3 1M534 874l-17 -10M522 852l-5 12M522 736l-4 -7M518 729l1 -10M518 748l2 4M518 748l4 -12M518 1025l26 0M518 618l5 1 5 1 5 0M518 618l2 -16M518 951l7 -4M518 567l5 1 5 1 5 0M518 567l2 -15M520 1007l-2 3M538 721l-19 -2M526 937l-7 -4M520 752l13 2M520 602l5 1 5 0 5 1M520 602l2 -16M520 1007l6 -3M520 552l5 1 5 0 5 1M520 552l2 -15M521 886l11 1M521 1067l3 13M522 1065l-1 2M521 383l6 1 6 1 6 1M521 383l3 -19M522 852l-1 -1M521 851l17 -19M538 858l-16 -6M523 803l-1 -6M522 797l6 -12M522 537l5 1 5 0 5 1M522 537l2 -15M522 1065l15 -10M522 736l12 -1M523 803l1 1M523 240l0 -12M523 442l6 1 6 1 7 0M523 442l3 -19M523 240l13 8M524 804l17 1M524 804l1 21M524 702l2 -16M524 522l5 0 5 1 5 1M524 522l2 -15M524 702l5 1 6 0 5 1M524 702l16 4 0 1M524 1080l3 2M525 825l14 4M533 956l-8 -9M525 947l1 -4M526 686l5 0 5 1 6 0M526 686l2 -17M526 507l5 0 5 1 5 0M526 507l2 -16M526 1004l16 6M526 1004l7 -19M530 929l-4 -16M530 909l-4 4M526 937l0 6M553 942l-27 1M530 929l-4 8M526 345l6 1 6 1 6 0M526 345l3 -19M527 1082l0 12M537 1082l-10 0M528 669l5 1 5 1 6 0M528 669l2 -16M528 491l5 1 5 1 4 0M528 491l2 -15M528 297l1 1M532 273l-4 24M528 980l5 5M528 980l0 -4M528 976l5 -20M528 404l6 1 6 0 6 1M528 404l2 -19M528 785l5 -2M556 302l-27 -4M531 323l-2 -25M530 653l5 1 5 0 5 1M530 653l1 -16M530 476l4 1 5 0 5 1M530 476l1 -15M552 910l-22 -1M530 909l2 -21M530 462l0 -1M530 461l1 0M530 461l2 -18M547 925l-17 4M556 319l-9 5 -16 -1M531 461l5 0 5 1 5 1M531 637l6 0 5 1 5 0M531 637l2 -17M532 584l5 1 5 1 5 0M532 584l1 -15M532 888l0 -1M534 874l-2 13M549 890l-17 -2M532 273l3 -2M533 365l6 1 6 1 6 1M533 365l2 -19M533 783l9 3M533 783l0 -13M533 985l5 -2M533 769l0 1M533 754l0 15M533 769l15 -1M533 956l8 4M533 620l6 1 5 0 5 1M533 620l2 -16M533 569l5 1 5 0 5 1M533 569l2 -15M535 753l-2 1M537 869l-3 5M534 735l4 5M534 735l4 -14M535 753l13 4M538 740l-3 13M553 276l-18 -5M536 248l-1 23M535 424l6 1 6 1 6 0M535 424l2 -19M535 554l5 1 5 0 5 1M535 554l2 -15M535 604l5 1 6 0 5 1M535 604l2 -16M536 248l12 -5M556 873l-19 -4M538 858l-1 11M547 1070l-10 -15M537 1055l1 -7M537 539l5 0 5 1 5 0M537 539l2 -15M547 1097l-10 -15M547 1072l-10 10M543 854l-5 4M538 983l8 3M545 963l-7 20M538 740l13 0M543 854l-5 -22M539 829l-1 3M538 721l1 -1M542 1045l-4 3M539 524l5 0 5 1 5 0M539 524l2 -16M554 726l-15 -6M539 720l1 -13M558 836l-19 -7M539 829l9 -18M539 386l6 0 6 1 6 1M539 386l3 -19M540 704l5 0 6 1 1 0M540 704l2 -17M540 707l12 -2M541 508l5 1 4 0 5 1M541 508l1 -15M545 963l-4 -3M541 960l12 -18M548 811l-7 -6M541 805l1 -19M542 444l6 1 6 1 6 0M542 444l2 -19M542 1010l4 -24M542 687l5 1 5 1 6 0M542 687l2 -16M561 1050l-19 -5M547 1028l-5 17M542 1010l2 15M542 1010l16 -7M542 786l15 -5M542 493l5 1 5 0 5 1M542 493l2 -15M546 1101l-3 2M558 854l-15 0M544 671l5 1 5 0 5 1M544 671l1 -16M544 347l6 1 6 1 6 1M544 347l3 -19M544 478l5 0 5 1 5 1M544 478l2 -15M544 1025l3 3M545 963l19 0M545 655l6 0 5 1 5 0M545 655l2 -17M560 988l-14 -2M553 1106l-7 -5M546 1101l1 -4M546 463l3 0M546 406l6 1 6 0 6 1M546 406l2 -19M547 228l1 15M563 1085l-16 12M547 586l5 1 5 0 5 1M547 586l1 -15M547 1028l11 -2M547 638l5 1 6 1 5 0M547 638l2 -16M563 1085l-16 -13M547 1072l0 -2M547 925l8 8M552 910l-5 15M561 1062l-14 8M548 768l9 12M548 757l0 11M548 811l2 -1M563 246l-15 -3M552 755l-4 2M548 465l1 -2M548 571l6 1 5 0 5 1M548 571l2 -15M549 463l2 0 5 1 5 0M549 463l2 -18M550 892l-1 -2M556 873l-7 17M549 622l5 1 5 0 6 1M549 622l2 -16M554 909l-4 -17M550 892l22 -3M550 556l5 0 5 1 5 0M550 556l2 -16M550 810l11 22M557 807l-7 3M551 368l6 0 6 1 6 1M551 368l2 -20M552 755l-1 -15M554 737l-3 3M551 606l5 0 5 1 5 0M551 606l2 -17M552 755l13 1M552 540l5 1 5 1 5 0M552 540l2 -15M554 909l-2 1M552 705l4 1M552 705l4 0M557 1114l-4 -8M553 1106l20 -13M553 942l2 0M553 426l6 1 6 1 6 0M553 426l2 -19M553 276l7 11M566 252l-13 24M554 525l5 1 5 0 5 1M554 525l1 -15M570 912l-16 -3M565 741l-11 -4M554 726l0 11M554 726l2 -1M555 942l15 15M555 942l0 -9M566 927l-11 6M555 510l5 1 5 0 5 1M555 510l2 -15M556 319l8 11 14 2M558 309l-2 10M560 870l-4 3M558 309l-2 -7M560 287l-4 15M556 706l1 0M556 706l0 -1M556 725l2 -19M556 725l16 -2M557 706l-1 -1M556 705l2 -16M558 788l-1 -7M557 781l0 -1M557 495l5 0 5 1 5 0M557 495l2 -15M561 808l-4 -1M557 807l1 -19M557 706l4 0 6 1 5 0M558 706l-1 0M577 790l-20 -10M564 772l-7 8M557 388l6 1 6 0 7 1M557 388l3 -19M574 799l-16 -11M558 706l14 2 6 7M558 689l5 1 5 0 6 1M558 689l1 -16M558 1003l5 7M561 988l-3 15M558 836l4 14M558 836l3 -4M558 854l2 16M558 854l4 -4M558 1026l1 1M558 1026l5 -16M589 310l-31 -1M559 480l5 0 5 1 4 0M559 480l2 -16M571 1043l-12 -16M559 1027l21 -6M559 673l6 0 5 1 5 1M559 673l2 -17M560 870l16 9M560 446l6 1 6 1 6 0M560 446l2 -19M583 282l-23 5M560 1116l9 1M560 988l1 0M560 988l4 -25M581 992l-20 -4M561 464l4 1 2 0M575 1071l-14 -9M561 1050l0 12M561 656l6 1 5 1 5 0M561 656l2 -16M561 1050l10 -7M570 825l-9 7M561 808l10 10M561 808l13 -9M562 850l6 0M562 588l5 0 5 1 5 0M562 588l2 -15M562 350l6 0 6 1 6 1M562 350l2 -20M566 252l-3 -6M563 246l8 -18M563 640l5 1 5 0 6 1M563 640l2 -16M563 1010l18 2M563 1085l8 1M564 573l5 0 5 1 5 0M564 573l1 -16M564 963l6 -6M564 408l6 1 6 1 6 0M564 408l2 -19M581 772l-17 0M564 772l1 -16M565 741l0 15M565 741l8 -4M565 624l5 0 5 1 5 0M565 624l1 -17M565 756l15 -2M565 557l5 1 5 0 5 1M565 557l2 -15M566 252l17 7M566 927l15 25M570 919l-4 8M566 607l6 1 5 1 5 0M566 607l2 -16M567 542l5 1 5 0 5 1M567 542l2 -15M567 467l0 -2M567 465l3 0 5 1M567 465l2 -18M568 850l15 11M568 850l15 -14M569 527l4 0 5 1 5 0M569 527l1 -15M569 370l6 0 6 1 6 1M569 370l2 -19M572 1122l-3 -5M575 1108l-6 9M570 825l13 11M571 818l-1 7M590 937l-20 -18M570 919l0 -7M570 912l6 -4M570 512l5 0 5 1 5 0M570 512l2 -16M570 957l8 -2M571 818l19 -6M571 1086l2 2M571 1086l4 -15M571 1043l8 0M571 428l6 1 4 0M571 428l2 -19M572 496l5 1 5 0 5 1M572 496l1 -15M572 707l5 1 6 0 5 1M572 707l2 -16M573 737l-1 -14M572 723l6 -8M576 908l-4 -19M572 889l3 -6M575 1108l-2 -15M573 1088l0 5M597 1090l-24 -2M573 481l5 1 5 0 5 1M573 481l2 -15M573 737l10 6M574 691l5 0 5 1 6 0M574 691l1 -16M590 812l-16 -13M574 799l3 -9M575 466l5 0 5 1 1 0M575 883l19 19M577 880l-2 3M594 1110l-19 -2M575 675l6 0 5 1 5 0M575 675l2 -17M580 1044l-5 27M598 1068l-23 3M576 390l6 1 6 0 6 1 2 -19M576 390l2 -19M576 908l15 1M576 879l1 1M576 879l7 -18M588 882l-11 -2M577 790l3 -2M577 589l5 1 5 0 5 1M577 589l2 -15M577 658l5 1 6 0 5 1M577 658l2 -16M581 336l-3 -4M578 332l11 -22M589 974l-11 -19M578 955l3 -3M580 715l-2 0M578 448l1 1M579 449l-1 -1M578 448l-1 -1 2 -3M578 448l1 -4M580 1044l-1 -1M583 1030l-4 13M579 574l5 1 5 0 5 1M579 574l1 -15M579 642l5 0 5 1 5 0M579 642l1 -17M579 444l1 -11M601 444l-22 0M579 449l5 0 7 1 6 0M587 458l-8 -9M598 1052l-18 -8M580 788l15 6M583 774l-3 14M580 352l6 0 5 1M580 352l1 -16M580 433l20 4M580 433l-1 -2 1 -1M580 433l0 -3M590 726l-10 -11M580 715l8 -6 16 2 2 1M583 1030l-3 -9M581 1012l-1 9M580 559l5 0 5 1 5 0M580 559l2 -15M584 760l-4 -6M583 743l-3 11M580 430l0 -1M580 430l1 -1M580 625l6 1 5 0 5 1M580 625l2 -16M583 1010l-2 2M592 944l-11 8M581 992l2 18M585 989l-4 3M581 429l2 1 7 0 1 -9M581 429l10 -8M581 772l2 2M581 772l3 -12M581 336l1 -4M605 333l-24 3M582 544l5 0 5 1 5 0M582 544l1 -16M582 609l5 1 5 0 6 1M582 609l2 -16M582 410l2 0M582 410l1 -2M583 861l10 -3M583 1010l19 1M583 774l15 3M585 741l-2 2M584 410l-1 -2M583 408l2 -17M603 404l-20 4M585 283l-2 -1M583 259l0 23M583 836l9 -1M601 1027l-18 3M583 528l5 1 5 0 5 1M583 528l2 -15M592 254l-9 5M584 760l14 -1M584 410l5 1 6 0 6 1M591 419l-7 -9M585 989l19 6M589 974l-4 15M585 283l7 26M585 283l21 -3M585 513l5 1 5 0 5 1M585 513l2 -15M585 741l16 2M590 726l-5 15M586 469l0 -2M586 467l4 0M586 467l1 -9M587 498l4 0 5 1 5 0M587 498l1 -15M587 372l6 0 6 1 5 1M587 372l2 -19M587 458l4 4M587 458l1 -9M588 882l9 15M598 876l-10 6M588 483l5 0 5 1 5 0M588 483l2 -16M588 709l6 0 5 1 5 0M588 709l2 -17M608 975l-19 -1M592 309l-3 1M590 726l13 1M590 937l2 7M590 937l1 -27M590 467l5 1 4 0 5 1M590 692l5 1 5 0 6 1M590 692l1 -16M591 812l-1 0M591 421l0 -2M591 421l1 -1M591 910l0 -1M594 902l-3 7M592 420l-1 -1M591 419l1 -8M591 910l14 5M592 835l-1 -23M597 807l-6 5M591 676l6 1 5 0 5 1 -1 16M591 676l2 -16M591 462l13 6 14 -4M591 462l10 -18M591 353l1 0 6 1 1 -12M591 353l0 1 19 8M591 353l8 -11M599 312l-7 -3M592 234l0 20M592 835l3 2M592 420l8 1M593 944l-1 0M592 254l12 2M592 591l5 0 5 1 5 0 2 -15M592 591l2 -15M593 944l17 9M593 944l13 -13M593 858l5 18M593 858l1 -2M593 660l5 0 5 1 2 0M593 660l1 -17M594 576l5 0 5 1 5 0M594 576l1 -16M594 1110l1 8M594 1110l1 -2M597 897l-3 5M615 860l-21 -4M595 837l-1 19M594 643l1 0M595 643l-1 0M608 647l-14 -4M594 643l1 0M595 643l5 1 5 0 5 1M608 836l-13 1M595 643l1 -16M613 633l-18 10M595 560l5 1 5 0 5 1M595 560l2 -15M597 807l-2 -13M595 794l2 -4M615 1110l-20 -2M597 1091l-2 17M596 627l5 0M596 627l2 -16M597 1090l0 1M598 1068l-1 22M597 545l5 1 5 0 5 1M597 545l1 -15M603 894l-6 3M613 1091l-16 0M600 807l-3 0M598 777l-1 13M614 788l-17 2M598 1067l0 1M598 1067l0 -15M598 1052l1 -2M598 776l0 1M598 611l5 0 5 1 5 0M598 611l1 -17M602 764l-4 -5M598 759l3 -16M598 876l10 2M598 530l5 0 5 1 5 0M598 530l2 -15M617 779l-19 -3M602 764l-4 12M616 1071l-18 -4M599 342l1 -8M599 342l6 -9M599 1050l5 -19M619 1049l-20 1M607 333l-8 -21M614 301l-15 11M600 515l5 0 5 1 5 0M600 515l1 -16M614 821l-14 -14M600 807l13 -6M600 437l0 -16M600 421l6 -4M603 442l-3 -5M601 627l6 1 5 0M601 627l12 5M601 627l12 -13M601 444l2 -2M601 743l1 0M601 1027l3 4M602 1011l-1 16M601 499l5 1 5 0 1 0M601 499l2 -15M602 764l13 -1M602 1011l1 -1M602 743l15 4M602 743l2 -15M603 442l13 3M603 484l5 1 5 0 4 1M603 484l1 -15M603 1010l18 3M604 995l-1 15M603 727l1 1M603 727l3 -15M603 404l3 13M606 393l-3 11M603 894l7 4M609 882l-6 12M609 990l-5 5M620 729l-16 -1M606 280l-2 -24M604 256l13 -5M619 1032l-15 -1M604 469l5 0 5 1 4 0M604 710l6 1 5 0 4 1M604 710l2 -16M604 374l1 0M606 393l-5 -6 -1 -9 4 -4M604 374l7 -7M606 931l-1 -16M605 915l6 -2M607 333l-2 0M605 661l4 0M605 661l2 17 14 -2M609 658l-4 3M606 712l12 0M619 419l-13 -2M606 393l14 1M623 929l-17 2M606 694l5 0 5 1 6 0M606 280l10 6M607 333l11 5M608 975l1 15M609 973l-1 2M609 882l-1 -4M617 862l-9 16M608 836l6 4M614 821l-6 15M609 658l-1 -11M614 642l-6 5M609 577l1 -15M609 973l18 1M609 973l1 -20M623 661l-14 -3M624 993l-15 -3M609 882l17 6M610 953l7 -2M610 898l1 15M626 898l-16 0M610 362l1 5M618 338l-8 24M610 562l2 -15M622 914l-11 -1M611 367l18 6M612 547l1 -16M612 500l4 1M612 500l3 6M617 494l-5 6M625 818l-12 -17M618 796l-5 5M614 642l-1 -9M613 633l0 -1M613 1091l3 2M614 1085l-1 6M613 614l0 18M627 628l-14 4M613 596l17 0M613 596l0 16 1 0M614 576l-1 2 -4 14 4 4M613 531l2 -15M614 612l-1 2M614 612l12 2M614 821l11 -3M614 576l17 9M616 568l-2 8M622 306l-8 -5M614 301l2 -15M624 646l-10 -4M618 796l-4 -8M617 779l-3 9M614 840l1 20M614 840l18 -2M615 516l0 -10M615 1110l1 2M616 1093l-1 17M616 1112l-1 4M617 778l-2 -15M615 763l2 -2M615 860l2 2M619 512l-4 -6M615 506l1 -5M616 1071l0 2M616 568l-3 -6 3 -13M616 549l-1 -2 0 -15 3 -4M633 547l-17 2M616 1071l2 -1M630 1092l-14 1M616 501l1 -7M616 568l17 -3M619 463l-3 -18M616 445l3 -3M616 1112l17 1M619 284l-3 2M628 863l-11 -1M617 779l0 -1M617 494l0 -8M620 489l-3 5M623 257l-6 -6M618 245l-1 6M617 761l0 -14M617 747l3 -3M632 763l-15 -2M618 470l-1 16M617 951l12 6M617 951l8 -19M617 778l12 1M617 486l3 3M617 486l2 -16 -1 0M629 337l-11 1M618 464l0 6M631 531l-13 -3M619 512l-2 4 1 12M618 796l5 1M618 1070l13 4M618 1070l4 -17M618 464l1 -1M618 712l2 17M619 712l-1 0M621 1035l-2 -3M622 1014l-3 18M619 419l0 23M619 442l19 -2M619 463l15 4M622 418l-3 1M622 1053l-3 -4M621 1035l-2 14M619 712l1 0M620 711l-1 1M619 512l12 -4M619 284l4 -27M629 284l-10 0M634 747l-14 -3M621 730l-1 14M620 729l1 1M633 491l-13 -2M620 394l1 2M620 394l11 -14M620 712l6 0 1 0M620 712l0 -1M620 711l7 1M620 711l2 -16M622 1014l-1 -1M624 993l-3 20M639 1034l-18 1M633 728l-12 2M621 676l1 14M621 676l1 -1M621 396l20 9M621 396l1 22M622 418l15 0M622 695l5 1 6 0 5 1M622 695l0 -5M636 1015l-14 -1M622 675l14 2M623 661l-1 14M622 690l1 -11M622 690l16 -7M624 917l-2 -3M626 898l-4 16M638 1053l-16 0M623 257l19 4M624 646l-1 15M639 659l-16 2M623 797l13 9M623 797l6 -14M625 932l-2 -3M624 917l-1 12M628 644l-4 2M645 915l-21 2M629 991l-5 2M625 932l19 5M625 818l8 0M628 895l-2 3M628 616l-2 -2M630 597l-4 17M628 895l-2 -7M632 878l-6 10M629 631l-2 -3M627 628l1 -12M627 712l4 1 6 0M627 712l9 2M629 991l-2 -17M627 974l3 -4M645 900l-17 -5M644 616l-16 0M642 648l-14 -4M629 631l-1 13M628 863l4 15M628 863l5 -4M629 337l5 6M638 316l-9 21M630 970l-1 -13M629 957l17 -8M640 993l-11 -2M631 380l-2 -7M629 373l4 -8M629 284l7 6M629 284l16 -19M629 783l0 -4M629 779l3 -2M644 632l-15 -1M629 783l10 14M630 597l0 -1M630 596l1 -11M630 970l16 3M630 1092l4 3M631 1074l-1 18M644 599l-14 -2M631 585l3 -3M637 1071l-6 3M638 383l-7 -3M631 531l4 5M640 515l-9 16M631 508l9 7M631 508l2 -17M632 838l2 2M632 838l1 -20M632 763l0 14M635 760l-3 3M650 880l-18 -2M646 780l-14 -3M633 728l3 3M636 714l-3 14M633 859l13 1M633 859l1 -19M634 1130l-1 0M633 1113l0 17M633 565l1 17M634 564l-1 1M634 564l-1 -17M633 547l3 -2M638 471l-5 20M633 491l23 3M634 343l-1 22M652 365l-19 0M633 818l1 -1M655 1113l-22 0M634 1095l-1 18M634 840l14 1M646 566l-12 -2M634 817l17 11M634 817l3 -7M648 581l-14 1M635 760l-1 -13M636 731l-2 16M648 745l-14 2M634 467l4 4M634 467l10 -20M643 1093l-9 2M655 348l-21 -5M636 545l-1 -9M650 528l-15 8M635 760l13 2M636 714l16 2M636 677l2 4M636 677l4 -5M648 547l-12 -2M651 732l-15 -1M639 1034l-3 -19M636 1015l3 -2M636 294l0 -4M636 806l1 1M639 797l-3 9M644 289l-8 1M637 713l5 1 5 0 6 0M637 713l1 -16M654 1077l-17 -6M637 1071l1 -18M637 810l0 -3M637 807l17 -10M642 424l-5 -6M641 405l-4 13M637 810l19 2M638 316l-1 -1M638 689l0 -6M638 681l0 2M638 471l19 2M639 681l-1 0M638 697l5 0 6 1 5 0M638 697l0 -8M644 447l-6 -7M642 424l-4 16M646 400l-8 -17M657 376l-19 7M638 316l10 -2M642 1051l-4 2M638 689l1 -8M655 686l-17 3M642 1051l-3 -17M655 1030l-16 4M639 797l6 -9M639 659l2 4M639 659l3 -11M658 1015l-19 -2M640 993l-1 20M639 681l0 -1M656 681l-17 0M640 672l16 5M641 663l-1 9M640 993l3 -1M651 516l-11 -1M646 400l-5 5M641 663l14 2M654 1053l-12 -2M642 648l1 -2M642 424l18 -1M642 261l3 4M645 253l-3 8M658 998l-15 -6M643 992l5 -15M656 649l-13 -3M643 646l1 -14M644 616l1 1M645 600l-1 16M644 447l12 2M645 600l-1 -1M650 582l-6 17M646 949l-2 -12M647 933l-3 4M644 632l17 1M644 632l1 -15M645 600l16 2M645 265l12 7M648 918l-3 -3M645 915l0 -15M647 899l-2 1M645 788l10 7M646 780l-1 8M645 617l16 -1M651 868l-5 -8M646 860l6 -9M652 954l-6 -5M646 400l17 1M646 566l2 15M648 564l-2 2M646 973l2 4M652 954l-6 19M649 777l-3 3M667 901l-20 -2M647 899l4 -18M648 918l-1 15M647 933l19 0M648 918l18 -3M648 841l4 -12M652 851l-4 -10M648 841l16 -2M664 978l-16 -1M648 762l3 3M648 745l0 17M648 745l2 -1M650 582l-2 -1M648 564l13 2M648 564l3 -15M651 315l-3 -1M649 311l-1 3M651 549l-3 -2M648 547l5 -13M665 785l-16 -8M649 777l2 -8M661 583l-11 -1M650 880l1 1M650 880l1 -12M658 752l-8 -8M650 744l4 -8M653 534l-3 -6M650 528l1 -12M668 883l-17 -2M651 516l2 -2M651 769l0 -4M651 765l8 -6M651 549l16 1M651 732l3 4M651 732l1 -16M671 771l-20 -2M651 868l14 -4M651 828l1 1M651 828l5 -16M652 716l1 0 15 0M652 954l11 1M657 376l-5 -11M652 365l3 -17M652 829l13 0M662 852l-10 -1M653 714l5 1 5 0 5 1M653 714l1 -16M653 1079l1 -2M668 535l-15 -1M653 514l13 3M653 514l3 -20M654 1077l4 -3M658 1074l-4 -21M654 1053l4 -3M654 736l2 0M654 698l5 0 6 1 2 0M654 698l1 -12M657 811l-3 -14M655 795l-1 2M655 1112l0 1M659 1035l-4 -5M658 1015l-3 15M655 686l0 -4M655 686l1 -5M665 344l-10 4M659 794l-4 1M655 665l3 2M658 651l-3 14M659 492l-3 2M661 469l-5 -20M656 449l4 -4M658 651l-2 -2M656 649l5 -16M657 680l-1 1M666 746l-10 -10M660 734l-4 2M656 677l1 3M658 667l-2 10M656 812l1 -1M658 280l-1 -8M660 270l-3 2M657 680l14 4M659 812l-2 -1M663 379l-6 -3M657 473l2 19M657 473l4 -4M658 651l12 0M658 667l14 -2M658 1074l12 1M674 1052l-16 -2M659 1035l-1 15M659 759l-1 -7M666 746l-8 6M658 1015l17 3M658 1015l0 -17M658 998l3 -1M668 818l-9 -6M662 803l-3 9M659 759l12 1M671 494l-12 -2M659 1035l17 -1M659 794l3 9M665 788l-6 6M660 734l16 3M660 734l10 -12M660 423l3 3M660 423l3 -22M660 445l18 3M663 426l-3 19M662 255l-2 15M684 262l-24 8M661 997l17 0M665 979l-4 18M661 469l11 0M661 602l0 14M663 599l-2 3M661 583l3 4M661 583l3 -12M662 616l-1 0M662 633l-1 0M664 571l-3 -5M667 551l-6 15M662 633l0 -17M662 616l14 0M665 857l-3 -5M662 852l4 -7M673 636l-11 -3M674 799l-12 4M663 426l18 0M663 401l1 -1M663 599l14 4M664 587l-1 12M665 344l-2 -16M664 957l-1 -2M670 938l-7 17M663 379l2 2M663 379l12 -30M665 979l-1 -1M664 978l0 -21M664 400l16 4M665 381l-1 19M666 845l-2 -6M665 829l-1 10M679 568l-15 3M664 587l15 -2M682 960l-18 -3M665 979l12 1M665 864l4 4M665 864l0 -7M675 349l-10 -5M665 381l23 -3M678 854l-13 3M665 788l9 11M665 788l0 -3M667 783l-2 2M669 825l-4 4M666 915l2 3M666 915l1 -14M675 845l-9 0M668 534l-2 -17M666 517l9 -4M666 933l4 5M666 933l2 -15M672 748l-6 -2M667 550l0 1M668 535l-1 15M667 901l0 -1M685 786l-18 -3M667 783l4 -12M667 699l3 0M667 699l2 2M667 699l4 -15M685 902l-18 -2M668 883l-1 17M667 551l9 2M668 918l18 2M668 535l0 -1M671 719l-3 -3M682 533l-14 1M668 716l1 0M668 716l1 -15M669 825l-1 -7M680 804l-12 14M668 883l1 -1M669 868l0 14M687 862l-18 6M669 882l16 0M669 701l16 -1M669 825l10 4M670 651l2 14M670 651l3 -3M682 937l-12 1M670 722l6 15M671 719l-1 3M673 766l-2 -6M671 760l3 -9M671 719l8 -1M680 679l-9 5M675 513l-4 -19M676 491l-5 3M671 771l2 -2M671 1075l2 -1M672 665l9 6M674 751l-2 -3M676 737l-4 11M680 476l-8 -7M672 469l9 -17M686 652l-13 -4M673 636l0 12M673 636l2 -1M673 1074l7 1M678 1055l-5 19M673 766l0 3M689 760l-16 6M685 775l-12 -6M674 799l6 4M686 751l-12 0M674 1052l4 3M676 1034l-2 18M685 516l-10 -3M675 635l14 1M675 635l2 -18M675 1018l5 -19M678 854l-3 -9M681 838l-6 7M696 1018l-21 0M676 1034l-1 -16M675 349l4 0M676 737l7 -2M676 1034l20 2M694 498l-18 -7M676 491l4 -15M676 553l3 15M682 550l-6 3M676 616l1 1M677 603l-1 13M678 997l-1 -17M681 977l-4 3M691 619l-14 -2M677 603l4 -3M678 1055l13 -1M687 861l-9 -7M678 997l2 2M681 452l-3 -4M678 448l4 -21M687 732l-8 -14M684 714l-5 4M679 585l0 1M679 585l2 -15M679 829l2 9M682 828l-3 1M679 568l2 2M695 587l-16 -1M681 600l-2 -14M679 349l9 29M679 349l7 -3M693 999l-13 0M680 476l15 -1M680 404l13 -24M687 814l-7 -10M680 803l0 1M683 801l-3 2M680 404l19 3M681 426l-1 -22M686 686l-6 -7M681 671l-1 8M686 346l-5 -23M682 427l-1 -1M681 600l10 3M696 982l-15 -5M682 960l-1 17M693 454l-12 -2M683 669l-2 2M681 838l13 8M681 570l11 -1M682 533l2 3M685 516l-3 17M686 941l-4 -4M686 920l-4 17M682 550l13 3M682 550l2 -14M687 814l-5 14M682 828l14 -1M686 941l-4 19M700 961l-18 -1M698 428l-16 -1M696 801l-13 0M685 786l-2 15M686 652l-3 17M705 667l-22 2M688 750l-5 -15M687 732l-4 3M705 327l-21 -5M684 714l15 5M684 714l1 -14M687 267l-3 -5M684 536l13 0M687 919l-2 -17M685 902l1 -1M686 901l-1 -19M685 786l3 -4M704 884l-19 -2M687 862l-2 20M688 782l-3 -7M693 763l-8 12M689 515l-4 1M685 700l1 -14M685 700l17 4M702 899l-16 2M687 919l-1 1M701 941l-15 0M699 344l-13 2M691 649l-5 3M689 760l-3 -9M686 751l2 -1M699 686l-13 0M699 920l-12 -1M695 732l-8 0M687 861l0 1M698 816l-11 -2M687 861l9 -4M693 747l-5 3M693 783l-5 -1M688 378l5 2M691 649l-2 -13M690 634l-1 2M698 520l-9 -5M689 515l5 -17M693 763l-4 -3M706 636l-16 -2M691 619l-1 15M702 652l-11 -3M691 603l0 16M693 602l-2 1M691 1054l2 11M695 1051l-4 3M705 618l-14 1M692 569l2 1M695 553l-3 16M695 764l-2 -1M696 380l-3 0M698 1004l-5 -5M693 999l3 -17M693 454l4 19M698 450l-5 4M702 749l-9 -2M695 732l-2 15M693 602l14 1M693 602l2 -15M693 783l3 0M693 783l2 -19M696 857l-2 -11M694 846l1 -2M697 586l-3 -16M708 569l-14 1M697 496l-3 2M695 1051l14 9M698 1040l-3 11M697 731l-2 1M696 841l-1 3M695 844l15 -5M695 587l2 -1M697 496l-2 -21M695 475l2 -2M698 552l-3 1M695 764l1 0M696 1018l2 4M698 1004l-2 14M696 857l4 2M696 827l0 14M708 830l-12 11M698 803l-2 -2M698 790l-2 11M696 764l9 14M696 764l7 -5M701 980l-5 2M696 380l7 24M711 373l-15 7M696 783l2 7M696 783l9 -5M703 822l-7 5M696 1036l2 4M698 1022l-2 14M707 1074l-11 0M715 472l-18 1M713 498l-16 -2M709 586l-12 0M697 731l12 9M697 731l3 -10M697 536l1 16M699 535l-2 1M709 554l-11 -2M714 1000l-16 4M718 1021l-20 1M698 520l1 15M698 520l16 -3M718 1041l-20 -1M701 430l-3 -2M698 428l1 -21M698 803l0 13M708 801l-10 2M703 822l-5 -6M716 456l-18 -6M701 430l-3 20M698 790l10 3M699 920l4 4M704 902l-5 18M705 703l-6 -17M699 686l5 -5M711 373l-12 -29M705 337l-6 7M699 535l13 2M703 404l-4 3M699 719l1 2M699 719l3 -15M700 721l17 0M700 859l13 -18M701 980l-1 -19M704 957l-4 4M700 859l1 2M719 852l-19 7M701 980l12 3M723 869l-22 -8M704 883l-3 -22M715 429l-14 1M701 941l3 16M703 939l-2 2M702 749l1 10M702 749l7 -7M704 902l-2 -3M702 899l2 -15M702 652l3 3M702 652l4 -16M702 704l3 -1M714 762l-11 -3M718 404l-15 0M703 924l0 15M703 924l14 -3M703 939l20 0M703 822l1 0M704 883l0 1M704 822l4 8M712 817l-8 5M704 681l13 8M704 681l2 -13M722 882l-18 1M704 902l15 3M716 960l-12 -3M705 655l0 12M705 655l14 -6M705 703l8 -1M705 667l1 1M705 618l3 3M705 618l4 -13M705 337l0 -10M707 317l-2 10M705 778l1 0M720 340l-15 -3M708 779l-2 -1M706 778l8 -16M706 668l15 2M706 636l1 -1M707 316l0 1M707 1074l5 7M710 1066l-3 8M707 317l9 1M707 635l13 3M707 635l1 -14M707 603l2 2M707 603l2 -17M708 621l16 0M708 569l3 16M709 568l-1 1M709 801l-1 -8M708 793l1 -1M719 831l-11 -1M708 830l2 9M718 781l-10 -2M709 792l-1 -13M708 801l4 16M708 801l1 0M709 554l0 14M710 553l-1 1M709 1060l1 6M720 1048l-11 12M709 605l14 0M709 586l2 -1M726 568l-17 0M709 792l12 -3M709 801l14 -1M718 752l-9 -10M709 740l0 2M709 740l10 -7M710 839l3 2M717 1065l-7 1M724 555l-14 -2M710 553l2 -15M721 586l-10 -1M711 373l3 1M712 538l0 -1M712 537l5 -16M712 817l12 -1M727 540l-15 -2M713 841l9 3M713 702l6 16M716 699l-3 3M716 997l-3 -14M713 983l7 -7M713 498l3 2M713 498l5 -23M714 517l3 4M714 517l2 -17M717 761l-3 1M714 1000l7 18M714 1000l2 -3M722 381l-8 -7M714 374l19 -26M725 448l-10 -19M719 425l-4 4M718 475l-3 -3M715 472l1 -16M716 500l16 0M716 699l18 3M716 699l1 -10M716 997l19 -1M725 448l-9 8M729 323l-13 -5M742 304l-26 14M716 960l4 3M724 941l-8 19M727 523l-10 -2M717 921l6 5M719 905l-2 16M717 689l4 -3M717 721l2 12M717 721l2 -3M730 1078l-13 -13M717 1065l9 -5M722 771l-5 -10M717 761l2 -2M719 759l-1 -7M725 745l-7 7M718 1041l2 2M718 1021l0 20M718 404l0 1M722 381l-4 23M721 1018l-3 3M718 405l24 2M718 405l1 20M722 785l-4 -4M722 771l-4 10M718 475l18 1M719 733l2 1M719 852l7 14M719 852l3 -8M719 831l3 12M722 827l-3 4M719 759l7 0M719 905l4 -2M719 425l15 -1M719 718l8 -1M719 649l4 3M719 649l1 -11M720 963l0 13M720 963l17 -3M720 638l3 -3M726 1060l-6 -12M720 1043l0 5M720 340l13 8M720 340l9 -17M720 976l17 5M720 1043l13 -2M726 739l-5 -5M721 734l15 -7M721 1018l11 0M736 687l-15 -1M721 686l0 -16M722 587l-1 -1M721 586l7 -15M723 652l-2 18M721 789l2 11M722 785l-1 4M735 670l-14 0M722 771l11 2M729 837l-7 -10M722 827l3 -9M722 843l0 1M723 883l-1 -1M722 882l1 -13M740 590l-18 -3M722 587l1 18M722 785l10 -2M724 843l-2 0M722 381l18 2M723 800l3 3M724 941l-1 -2M723 939l0 -13M725 620l-2 -15M723 903l14 4M723 903l0 -20M738 885l-15 -2M723 652l13 1M739 920l-16 6M723 635l13 4M724 621l-1 14M738 602l-15 3M726 866l-3 3M724 816l1 2M726 803l-2 13M724 621l1 -1M724 555l2 2M727 541l-3 14M724 941l12 2M724 843l7 5M724 843l5 -6M731 751l-6 -6M725 745l1 -6M735 449l-10 -1M738 620l-13 0M726 818l-1 0M726 739l11 2M726 557l0 11M740 555l-14 2M736 800l-10 3M726 866l3 -1M726 568l2 3M747 1071l-21 -11M737 823l-11 -5M740 805l-14 13M734 764l-8 -5M726 759l5 -8M727 717l9 10M727 717l8 -10M727 540l0 -17M727 523l6 -2M727 540l0 1M727 541l9 0M728 571l12 2M729 837l8 -7M729 865l13 0M731 848l-2 17M738 320l-9 3M740 746l-9 5M731 848l11 0M732 500l1 1M732 498l0 2M738 794l-6 -11M732 783l3 -6M742 303l-10 -4M732 1018l4 4M732 1018l6 -19M733 773l2 4M733 773l1 -9M750 1051l-17 -10M733 1041l3 -19M741 348l-8 0M734 764l5 -3M734 702l2 -15M734 702l1 5M734 702l15 -2M738 686l-3 -16M736 669l-1 1M741 712l-6 -5M735 777l13 -1M735 996l3 3M737 981l-2 15M738 452l-3 -3M735 449l8 -18M736 943l1 17M736 943l1 0M736 800l4 5M736 800l2 -6M736 476l2 -24M738 728l-2 -1M736 424l1 0M736 1022l15 0M736 653l0 16M737 651l-1 2M751 668l-15 1M736 687l2 -1M736 639l1 12M738 637l-2 2M737 823l0 7M737 823l5 -4M737 981l18 0M740 963l-3 18M740 746l-3 -5M737 741l2 -9M737 943l17 0M742 922l-5 21M740 963l-3 -3M749 652l-12 -1M737 830l10 10M743 431l-6 -7M737 424l1 -2M739 920l-2 -13M737 907l5 -4M738 686l14 0M738 999l15 2M743 608l-5 -6M740 590l-2 12M738 452l4 1M742 903l-4 -18M738 885l3 -2M738 620l3 4M738 620l5 -12M739 732l-1 -4M745 722l-7 6M738 794l4 -1M738 637l17 2M741 624l-3 13M752 737l-13 -5M739 920l3 2M739 761l12 7M739 761l4 -13M740 383l3 22M740 383l8 -6M741 589l-1 1M740 746l3 2M755 962l-15 1M741 574l-1 -1M744 559l-4 14M740 805l7 6M740 411l2 -4M741 883l16 2M741 883l1 -18M741 624l12 2M755 574l-14 0M741 589l0 -15M741 589l14 2M741 348l8 9M741 348l7 -17M745 722l-4 -10M752 707l-11 5M742 903l14 -2M742 922l12 3M742 407l1 -2M742 819l8 5M742 819l5 -8M742 303l0 1M742 303l3 -10M742 848l4 15M747 840l-5 8M748 794l-6 -1M742 793l6 -16M746 863l-4 2M743 305l-1 -1M743 305l0 1M743 305l2 -1M743 431l6 0M743 748l6 0M753 608l-10 0M743 405l1 0M748 331l-3 -7M753 723l-8 -1M746 863l12 2M746 1078l2 -2M748 1076l-1 -5M747 1071l3 -20M747 811l6 -2M747 840l2 0M748 776l0 1M751 768l-3 8M748 1076l3 1M756 784l-8 -7M748 377l11 4M749 357l-1 20M755 807l-7 -13M756 788l-8 6M748 331l5 0M758 863l-9 -23M749 840l8 -3M749 357l26 -2M752 707l-3 -7M752 694l-3 6M749 652l5 6M749 652l6 -13M749 748l4 3M752 738l-3 10M750 1051l6 -5M755 828l-5 -4M750 824l7 -9M753 767l-2 1M751 668l2 3M754 658l-3 10M751 1022l5 24M752 1021l-1 1M751 406l8 1M752 737l0 1M752 737l1 -14M758 710l-6 -3M752 694l0 -8M766 687l-14 -1M752 686l1 -15M752 738l13 -2M752 694l13 9M753 1001l-1 20M773 1020l-21 1M767 728l-14 -5M753 723l5 -13M753 626l2 13M758 621l-5 5M760 768l-7 -1M753 751l0 16M758 621l-5 -13M753 608l4 -5M757 999l-4 2M753 809l4 6M755 807l-2 2M767 672l-14 -1M760 750l-7 1M754 658l14 -3M754 925l0 18M759 922l-5 3M757 946l-3 -3M755 962l3 4M757 946l-2 16M755 807l10 -7M755 981l2 4M758 966l-3 15M755 591l2 12M755 591l0 -1M765 640l-10 -1M757 837l-2 -9M755 828l5 -10M755 590l0 -16M755 590l15 -4M755 574l2 -2M756 1077l9 -1M766 799l-10 -11M756 788l0 -4M765 779l-9 5M756 1046l6 -1M758 902l-2 -1M756 901l1 -16M757 999l15 3M757 985l0 14M757 885l3 -4M757 946l18 -3M777 983l-20 2M757 560l0 12M757 837l3 1M757 572l14 4M769 604l-12 -1M760 818l-3 -3M758 710l8 -4M758 863l0 2M758 621l11 2M764 844l-6 19M759 922l-1 -20M758 902l16 0M760 881l-2 -16M758 865l16 -2M758 966l14 0M759 381l2 4M759 381l5 -3M759 407l0 1M759 407l3 -10M759 922l15 2M760 750l10 11M760 750l5 -5M772 821l-12 -3M764 844l-4 -6M760 838l13 -11M776 884l-16 -3M760 768l5 11M770 761l-10 7M770 1051l-8 -6M762 1045l9 -7M764 557l8 0M764 844l11 3M792 1093l-27 -17M765 1076l14 -10M778 751l-13 -6M766 738l-1 7M774 782l-9 -3M765 703l1 3M768 688l-3 15M773 809l-8 -9M765 800l1 -1M765 640l3 15M765 640l5 -4M765 556l2 0 5 1M765 736l1 2M765 736l2 -8M774 790l-8 9M769 709l-3 -3M780 695l-14 11M766 687l2 1M766 687l3 -14M784 742l-18 -4M768 727l-1 1M769 673l-2 -1M768 655l-1 17M768 688l11 2M777 727l-9 0M768 727l1 -18M783 656l-15 -1M778 710l-9 -1M770 636l-1 -13M769 623l3 -3M769 604l2 2M774 591l-5 13M782 673l-13 0M779 1066l-9 -15M770 1051l22 0M784 638l-14 -2M774 591l-4 -5M770 586l1 -10M770 761l5 1M771 606l1 14M771 606l17 -1M771 1038l20 4M774 1021l-3 17M772 575l-1 1M772 966l5 17M775 964l-3 2M772 620l11 0M772 557l0 18M789 558l-1 -1 -16 0M772 1002l1 18M772 1002l3 -2M772 821l1 -12M773 827l-1 -6M786 818l-14 3M772 557l6 0 5 0 5 0M772 557l1 -4M785 574l-13 1M773 827l8 6M773 1020l1 1M775 355l-2 10M782 806l-9 3M774 863l6 4M774 863l1 -16M774 1021l12 1M774 790l3 3M775 783l-1 7M788 592l-14 -1M775 783l-1 -1M774 782l3 -18M774 902l3 4M774 902l5 -14M774 924l1 1M774 924l3 -18M777 945l-2 -2M775 925l0 18M792 965l-17 -1M775 964l2 -19M775 925l11 -1M779 352l-4 3M785 1002l-10 -2M777 983l-2 17M775 783l14 -1M777 764l-2 -2M776 760l-1 2M775 847l2 0M776 760l2 -9M794 753l-18 7M776 884l3 4M776 884l4 -17M777 847l10 3M781 833l-4 14M788 767l-11 -3M784 945l-7 0M789 907l-12 -1M777 983l14 -1M777 727l10 14M777 727l1 -1M787 795l-10 -2M782 804l-5 -11M784 742l-6 9M778 540l5 1 5 0M778 726l0 -16M778 726l10 -6M785 708l-7 2M794 367l-15 -15M779 352l3 -11M779 1066l2 0M779 888l16 -1M779 690l1 5M784 685l-5 5M786 705l-6 -10M785 865l-5 2M780 474l1 0 5 1 5 0M781 458l1 0 4 0 5 0M781 833l2 0M800 1086l-19 -20M781 1066l11 -15M784 675l-2 -2M782 673l1 -17M782 806l0 -2M787 795l-5 9M785 807l-3 -1M784 638l-1 -18M785 619l-2 1M783 833l7 15M788 831l-5 2M783 656l1 -1M784 675l0 10M784 675l15 -3M787 741l-3 1M784 655l13 3M784 655l3 -15M797 690l-13 -5M793 957l-9 -12M784 945l6 -3M784 638l3 2M791 1008l-6 -6M794 988l-9 14M788 720l-3 -12M786 707l-1 1M785 491l5 0M790 591l-5 -17M788 571l-3 3M799 626l-14 -7M789 607l-4 12M791 867l-6 -2M785 865l2 -15M785 807l1 11M785 807l12 -2M802 713l-16 -6M786 705l0 2M786 818l3 2M786 524l3 0M796 697l-10 8M786 442l1 0 5 0M786 924l6 5M793 915l-7 9M786 1022l5 20M786 1022l5 -4M787 640l9 -3M790 848l-3 2M789 741l-2 0M787 795l6 -1M788 508l2 0M788 605l1 2M788 592l0 13M788 557l5 0 5 1M788 557l0 -16M788 767l2 3M788 767l6 -14M788 831l10 4M789 820l-1 11M802 575l-14 -4M789 558l-1 13M788 592l2 -1M788 720l11 5M788 541l6 0 5 0 5 0M788 541l1 -17M789 782l3 3M790 770l-1 12M789 1096l3 -3M795 753l-6 -12M789 741l2 -2M801 609l-12 -2M798 558l-9 0M795 818l-6 2M789 524l5 0 5 1 5 0M789 524l1 -16M793 915l-4 -8M789 907l7 -7M797 847l-7 1M801 589l-11 2M790 508l5 0 5 0 5 0M790 508l0 -17M790 942l9 1M790 942l2 -13M790 491l5 1 5 0 5 0M790 491l1 -16M790 770l11 -2M791 1042l0 1M791 425l2 0M803 741l-12 -2M791 739l8 -14M791 475l5 0 5 0 5 0M791 475l0 -17M794 988l-3 -6M791 982l6 -10M791 1008l2 6M791 1008l12 -11M791 1018l9 7M793 1014l-2 4M796 1048l-5 -5M791 1043l9 -18M791 458l5 1 5 0 5 0M791 458l1 -16M791 867l5 12M791 867l10 -8M792 965l5 7M793 957l-1 8M792 1093l7 -3M792 442l5 0 5 0 5 0M792 442l1 -17M793 794l-1 -9M792 785l8 -3M798 929l-6 0M792 1051l4 -3M804 916l-11 -1M793 425l5 1 4 0 5 0M793 425l0 -5M793 957l11 -7M807 1012l-14 2M793 794l4 4M794 988l4 3M794 753l1 0M795 753l8 3M795 818l7 10M795 818l4 -10M795 887l1 13M795 887l1 0M797 1049l-1 -1M796 887l18 2M796 887l0 -8M807 907l-11 -7M805 706l-9 -9M797 690l-1 7M796 637l4 2M799 626l-3 11M796 879l18 -11M797 805l2 3M797 798l0 7M801 687l-4 3M797 335l2 1M802 796l-5 2M801 859l-4 -12M797 847l3 -4M797 972l10 -1M799 672l-2 -14M802 655l-5 3M804 1080l-7 -31M797 1049l5 -1M798 835l2 8M798 835l4 -7M803 997l-5 -6M798 991l13 -9M798 558l5 0M802 557l-4 1M803 933l-5 -4M804 917l-6 12M801 724l-2 1M802 1112l-3 -22M799 1090l1 -1M799 943l1 1M803 933l-4 10M799 672l1 0M799 626l5 -4M799 808l3 1M799 336l15 21M799 336l6 -3M800 843l12 0M801 687l-1 -15M800 672l17 -2M817 640l-17 -1M800 639l2 16M807 1027l-7 -2M804 950l-4 -6M812 938l-12 6M800 1089l26 10M800 1086l0 3M800 782l2 14M802 781l-2 1M804 1080l-4 6M801 724l5 2M802 713l-1 11M803 591l-2 -2M802 575l-1 14M801 609l3 13M804 605l-3 4M801 859l10 3M801 768l1 13M801 768l3 -3M815 689l-14 -2M802 1048l16 11M806 1043l-4 5M807 823l-5 -14M818 808l-16 1M802 575l4 -3M802 796l11 -6M802 655l13 1M802 828l4 -2M802 781l12 4M802 713l3 -3M803 558l-1 -1M803 556l-1 1M806 572l-3 -14M804 765l-1 -9M803 756l1 -2M804 754l-1 -13M803 741l8 -2M803 997l5 2M803 933l8 0M803 409l5 0M803 558l5 0 5 0 6 0M803 558l0 -2M803 556l16 0M803 556l1 -15M804 605l-1 -14M803 591l13 -1M808 952l-4 -2M804 917l0 -1M807 909l-3 7M804 541l5 0 5 1 5 0M804 541l0 -16M818 1070l-14 10M804 622l11 1M811 922l-7 -5M804 765l9 3M804 525l5 0 5 0 5 0M804 525l1 -17M814 750l-10 4M818 607l-14 -2M805 710l14 5M805 706l0 4M805 508l5 0 5 1 5 0M805 508l0 -16M814 699l-9 7M805 492l5 0 5 0 5 0M805 492l1 -17M806 726l5 13M821 721l-15 5M806 475l5 1 5 0 5 0M806 475l0 -16M807 1027l-1 16M819 1039l-13 4M806 572l12 1M811 828l-5 -2M807 823l-1 3M806 459l5 0 5 0 5 0M806 459l1 -17M814 1021l-7 6M809 974l-2 -3M810 965l-3 6M807 909l0 -2M815 890l-8 17M807 823l11 -15M807 442l5 1 5 0 5 0M807 442l0 -16M814 910l-7 -1M807 1012l7 9M807 1012l3 -10M807 426l5 0 5 0 5 0M807 426l1 -17M808 409l4 0M808 409l0 -4M810 1002l-2 -3M814 987l-6 12M810 965l-2 -13M816 946l-8 6M809 974l19 1M809 974l2 8M809 365l5 -8M810 965l9 -3M816 1002l-6 0M814 867l-3 -5M811 862l4 -15M811 922l0 11M811 828l6 8M811 828l12 -10M811 922l7 -2M811 933l1 5M828 928l-17 5M811 982l3 5M811 739l3 2M816 946l-4 -8M815 847l-3 -4M817 836l-5 7M813 768l3 11M815 767l-2 1M813 790l6 18M814 788l-1 2M814 1021l3 0M822 988l-8 -1M814 788l0 -3M816 779l-2 6M814 357l19 -5M814 750l0 -9M814 741l1 -1M819 753l-5 -3M814 910l4 10M814 910l13 -5M817 879l-3 -11M814 868l0 -1M814 788l18 0M814 867l13 -4M815 890l-1 -1M814 889l3 -10M814 699l7 9M816 691l-2 8M816 691l-1 -2M815 689l2 -18M815 847l12 4M815 623l2 2M820 609l-5 14M819 753l-4 14M829 767l-14 0M815 890l3 2M823 723l-8 17M830 740l-15 0M815 656l2 3M818 642l-3 14M816 779l12 -5M819 592l-3 -2M816 590l2 -17M823 947l-7 -1M816 691l12 1M817 1021l-1 -19M816 1002l6 0M825 834l-8 2M817 640l1 2M817 640l0 -15M817 671l0 -1M817 659l0 11M817 625l15 0M832 877l-15 2M833 657l-16 2M822 1022l-5 -1M833 675l-16 -4M818 573l0 -1M833 641l-15 1M818 920l8 2M818 607l2 2M818 607l1 -15M818 892l9 13M818 892l10 -4M818 1070l0 -11M818 1059l8 -5M819 808l-1 0M827 1073l-9 -3M818 410l4 0M818 331l12 11M818 572l13 2M819 558l-1 14M819 558l0 -2M819 556l0 1M819 556l0 -14M819 592l14 -1M819 715l0 1M821 708l-2 7M828 754l-9 -1M819 542l5 0 5 0 5 0M819 542l0 -17M823 810l-4 -2M819 716l2 5M833 708l-14 8M819 558l5 0 5 0 5 1M819 557l0 1M819 962l11 5M819 962l5 -14M819 557l15 0M819 1039l7 15M822 1036l-3 3M819 525l5 0 6 1 5 0M819 525l1 -16M820 609l13 0M820 509l5 0 5 0 5 0M820 509l0 -17M820 492l5 0 5 1 5 0M820 492l1 -16M821 708l10 -4M821 721l2 2M821 476l5 0 5 0 5 0M821 476l0 -17M821 459l5 0 5 1 5 0M821 459l1 -16M824 1026l-2 -4M822 1022l2 -4M822 443l5 0 4 0 5 0M822 443l0 -17M822 988l2 13M827 984l-5 4M822 426l5 0 5 1 5 0M822 426l0 -16M822 1036l12 7M824 1026l-2 10M824 1018l-2 -16M824 1001l-2 1M822 410l5 0 5 0 5 0M822 410l1 -13M823 947l1 1M823 947l5 -19M823 818l2 4M823 810l0 8M823 810l1 0M825 724l-2 -1M833 1001l-9 0M838 1009l-14 9M824 948l9 3M824 1026l13 1M841 810l-17 0M832 788l-8 22M825 822l16 6M825 822l0 12M825 834l7 5M825 724l8 7M836 712l-11 12M835 1053l-9 1M828 928l-2 -6M828 914l-2 8M827 1107l-1 -8M830 1095l-4 4M826 393l2 0 5 0 4 1M827 905l1 9M834 901l-7 4M827 853l0 -2M832 839l-5 12M827 1073l3 22M844 1067l-17 6M832 866l-5 -3M827 863l0 -10M833 989l-6 -5M827 984l1 -9M840 853l-13 0M828 888l10 6M828 888l5 -9M828 774l6 10M829 767l-1 7M828 928l11 3M842 916l-14 -2M828 754l5 9M828 975l2 -1M828 754l2 -14M828 754l14 -5M831 703l-3 -11M831 690l-3 2M833 763l-4 4M833 352l-3 -10M834 331l-4 11M830 1095l10 -3M830 967l0 7M830 967l5 -9M840 976l-10 -2M830 740l5 -5M831 704l2 4M831 703l0 1M831 703l14 -4M833 591l-2 -17M834 572l-3 2M831 690l14 3M833 675l-2 15M832 877l1 2M832 877l0 -11M832 625l1 16M832 625l2 -2M832 379l6 4M832 788l1 0M832 369l7 -14M832 866l11 -2M840 837l-8 2M842 765l-9 -2M833 657l1 1M834 642l-1 15M835 958l-2 -7M842 942l-9 9M839 355l-6 -3M839 794l-6 -6M834 784l-1 4M833 879l11 6M833 591l2 1M833 1001l5 4M833 1001l0 -12M833 989l6 -1M833 675l2 0M833 609l1 1M835 592l-2 17M833 641l1 1M836 712l-3 -4M835 735l-2 -4M844 721l-11 10M834 901l9 6M834 901l4 -7M834 658l14 1M835 675l-1 -17M834 559l1 0M834 559l0 -2M835 558l-1 -1M834 557l0 -15M834 572l15 2M835 559l-1 13M834 623l0 -13M834 610l15 0M834 542l5 0 5 0 6 0M834 542l1 -16M840 781l-6 3M845 641l-11 1M846 626l-12 -3M835 1046l-1 -3M840 1032l-6 11M835 592l10 -1M838 737l-3 -2M844 1061l-9 -8M835 1053l0 -7M835 526l5 0 5 0 5 0M835 526l0 -17M835 675l10 -1M835 559l4 0 5 0 5 0M835 558l0 1M849 558l-14 0M835 509l5 0 5 0 5 0M835 509l0 -16M835 958l8 3M853 1039l-18 7M835 493l5 0 5 0 5 0M835 493l1 -17M836 476l5 0 5 0 5 0M836 476l0 -16M836 460l5 0 5 0 5 0M836 460l0 -17M836 712l5 0M836 443l5 0 5 0 5 0M836 443l1 -16M837 427l5 0 5 0 4 0M837 427l0 -17M837 1027l3 5M841 1020l-4 7M837 410l5 0 5 0 5 0M837 410l0 -16M837 394l5 0 5 0 5 0M837 394l1 -11M841 1020l-3 -11M838 1009l0 -4M842 749l-4 -12M842 737l-4 0M838 383l0 -6M838 383l7 -5M838 894l7 -5M849 1000l-11 5M841 810l-2 -16M849 792l-10 2M839 355l4 0M839 931l3 11M839 931l4 -4M849 994l-10 -6M839 988l1 -12M848 784l-8 -3M843 766l-3 15M846 1098l-6 -6M848 1083l-8 9M840 976l2 0M844 841l-4 -4M841 829l-1 8M844 864l-4 -11M844 841l-4 12M853 1037l-13 -5M844 812l-3 -2M841 712l3 3M841 712l4 -13M841 828l0 1M841 828l3 -12M841 829l18 0M841 1020l17 10M857 1015l-16 5M846 752l-4 -3M842 942l2 1M853 745l-11 -8M842 737l12 -8M842 916l1 11M842 916l2 -3M842 976l7 1M843 961l-1 15M843 766l-1 -1M846 752l-4 13M852 363l-9 -8M843 355l8 -14M843 907l1 6M843 907l10 -10M849 927l-6 0M843 961l9 -2M853 768l-10 -2M845 882l-2 -18M844 864l-1 0M844 1067l0 -6M844 1061l12 -14M844 864l7 -1M845 889l-1 -4M844 885l1 -3M844 721l0 -6M844 715l17 -5M847 841l-3 0M844 1067l4 16M844 721l10 8M844 812l0 4M848 810l-4 2M844 816l15 13M869 1066l-25 1M844 943l11 7M844 943l14 -12M854 913l-10 0M853 894l-8 -5M845 591l6 16M848 588l-3 3M845 693l0 6M850 689l-5 4M856 876l-11 6M845 641l2 2M845 641l1 -15M850 689l-5 -15M848 671l-3 3M845 699l16 10M851 749l-5 3M846 626l4 -3M852 855l-5 -14M847 841l7 -1M847 643l1 16M847 643l14 -3M848 671l13 2M848 671l0 -12M861 1087l-13 -4M848 810l15 15M848 810l9 -6M865 596l-17 -8M848 588l3 -11M861 657l-13 2M848 784l1 8M857 778l-9 6M849 1000l0 -6M849 994l3 -9M849 792l7 7M850 623l-1 -13M851 607l-2 3M852 985l-3 -8M855 970l-6 7M849 574l2 3M849 574l2 -15M849 1000l2 1M849 927l9 4M849 927l7 -12M849 559l1 0M849 559l0 -1M849 558l1 1M849 558l1 -16M850 542l5 0 5 1 5 0M850 542l0 -16M850 689l11 0M850 526l5 0 5 0 5 0M850 526l0 -17M862 626l-12 -3M850 509l5 1 5 0 5 0M850 509l0 -16M850 493l5 0 5 0 5 0M850 493l1 -17M850 559l4 0 3 0M850 559l1 0M852 855l-1 8M851 476l5 1 5 0 5 0M851 476l0 -16M851 559l6 0M857 1015l-6 -14M851 1001l17 -5M851 460l5 0 5 0 5 0M851 460l0 -17M851 749l1 2M851 749l2 -4M862 606l-11 1M856 876l-5 -13M867 863l-16 0M851 443l5 0 5 1 5 0M851 443l0 -16M863 576l-12 1M851 427l5 0 5 0 5 0M851 427l1 -17M852 410l5 0 4 1 5 0M852 410l0 -16M854 367l-2 -4M852 363l7 -6M852 959l3 5M852 959l3 -9M852 394l5 0 5 0 5 0M852 394l0 -11M852 855l11 -6M858 985l-6 0M867 757l-15 -6M857 765l-5 -14M853 1039l0 -2M858 1030l-5 7M856 1047l-3 -8M853 894l0 3M853 894l8 -4M853 897l3 5M857 743l-4 2M853 768l4 10M853 768l4 -3M857 743l-3 -14M859 726l-5 3M856 915l-2 -2M854 913l2 -11M863 849l-9 -9M862 832l-8 8M855 367l-1 0M860 974l-5 -4M855 964l0 6M860 947l-5 3M869 964l-14 0M856 1047l10 3M866 905l-10 -3M858 877l-2 -1M864 917l-8 -2M857 804l-1 -5M856 799l4 -6M866 807l-9 -3M857 778l5 4M857 559l2 0 4 0M857 559l6 0M866 744l-9 -1M866 761l-9 4M865 1021l-8 -6M866 1023l-8 7M858 985l13 1M858 985l2 -11M858 931l3 1M858 877l7 6M858 877l9 -14M862 830l-3 -1M871 733l-12 -7M862 710l-3 16M860 974l9 3M866 793l-6 0M862 782l-2 11M872 951l-12 -4M860 947l1 -15M864 678l-3 -5M864 662l-3 11M861 657l3 5M865 644l-4 13M864 1101l-3 -14M873 1077l-12 10M861 709l0 1M861 689l0 20M861 890l12 11M861 890l4 -7M865 919l-4 13M861 640l4 4M862 626l-1 14M862 689l-1 0M861 932l19 3M862 710l-1 0M862 626l4 -4M862 832l10 15M862 830l0 2M866 612l-4 -6M862 606l3 -10M878 693l-16 -4M862 689l2 -11M868 781l-6 1M862 830l2 -1M867 712l-5 -2M878 696l-16 14M863 849l7 3M863 559l2 -2M863 559l2 0M866 574l-3 -15M869 593l-6 -17M863 576l3 -2M863 825l1 4M867 809l-4 16M864 917l1 2M866 905l-2 12M864 829l2 -1M879 674l-15 4M878 662l-14 0M865 559l5 0 5 0 5 0M865 559l0 -2M880 558l-15 -1M865 557l0 -14M865 543l5 0 5 0 5 0M865 543l0 -17M869 593l-4 3M865 526l5 0 5 0 5 0M865 526l0 -16M865 644l9 0M865 919l16 -1M865 510l5 0 5 0 5 0M865 510l0 -17M866 1023l-1 -2M865 1021l5 -8M865 493l5 0 5 0 5 0M865 493l1 -16M866 883l-1 0M869 753l-3 -9M872 734l-6 10M866 477l5 0 5 0 5 0M866 477l0 -3 0 -14M872 1055l-6 -5M870 1026l-4 24M866 905l7 -4M866 1023l4 3M873 796l-7 -3M879 784l-13 9M866 460l4 0M866 460l0 -16M866 622l0 -10M866 612l14 -4M866 444l5 0 5 0 5 0M866 444l0 -17M866 622l13 4M881 573l-15 1M866 883l14 5M871 873l-5 10M868 763l-2 -2M866 761l1 -4M866 807l1 2M873 796l-7 11M866 427l5 0 5 0 5 0M866 427l0 -16M880 833l-14 -5M875 819l-9 9M866 411l5 0 5 0 5 0M866 411l1 -17M867 394l4 0 5 0M867 394l0 -3M867 809l11 3M868 862l-1 1M869 753l-2 4M875 722l-8 -10M881 710l-14 2M868 763l14 7M868 763l0 18M868 996l1 8M868 996l5 -7M868 781l11 2M871 873l-3 -11M870 861l-2 1M869 964l3 5M872 951l-3 13M878 592l-9 1M881 1102l-12 2M870 1013l-1 -9M869 1004l12 -1M869 977l2 9M872 969l-3 8M883 752l-14 1M869 1066l4 11M869 1066l4 -10M879 863l-9 -2M870 861l0 -9M872 1027l-2 -1M871 851l-1 1M870 1013l9 -3M871 986l2 3M871 873l12 2M891 854l-20 -3M872 847l-1 4M872 734l-1 -1M875 722l-4 11M872 951l5 -2M882 736l-10 -2M872 969l7 -1M884 835l-12 12M873 1056l-1 -1M880 1042l-8 13M872 1027l8 15M874 1027l-2 0M873 1077l15 6M875 901l-2 0M873 1056l10 2M879 791l-6 5M880 994l-7 -5M873 989l14 -11M874 1027l9 -12M891 1024l-17 3M874 644l7 13M880 638l-6 6M882 720l-7 2M881 914l-6 -13M881 892l-6 9M880 833l-5 -14M878 812l-3 7M877 949l7 13M877 949l4 -5M878 592l3 2M878 592l3 -19M878 662l2 10M881 657l-3 5M878 696l5 8M878 693l0 3M878 693l3 -3M881 811l-3 1M881 690l-2 -16M879 674l1 -2M883 1015l-4 -5M882 1006l-3 4M882 770l-3 13M884 874l-5 -11M891 857l-12 6M879 784l0 7M879 783l0 1M879 791l5 8M893 784l-14 -1M879 1121l13 -6M887 978l-8 -10M884 962l-5 6M879 626l1 12M879 626l2 -1M895 675l-15 -3M880 638l13 3M892 994l-12 0M881 1003l-1 -9M880 888l1 4M883 881l-3 7M880 559l0 -1M881 559l-1 -1M880 558l0 -15M880 608l1 2M881 594l-1 14M880 543l5 0 5 0M880 543l0 -17M880 526l5 0 5 0 5 0M880 526l0 -16M881 936l-1 -1M883 922l-3 13M884 835l-4 -2M880 510l5 0 5 0 5 0M880 510l0 -17M880 493l5 0 5 0 5 0M880 493l1 -16M894 1040l-14 2M881 944l0 -8M898 935l-17 1M881 477l4 0 5 0 5 0M881 477l0 -11M881 594l12 0M881 690l12 0M881 445l0 -1M881 444l0 -17M881 918l2 4M881 914l0 4M888 834l-7 -23M881 811l2 -2M881 427l4 0M881 427l0 -16M892 655l-11 2M881 411l3 0M881 411l0 -9M881 944l11 3M881 610l0 15M895 624l-14 1M894 895l-13 -3M881 914l13 -10M884 715l-3 -5M881 710l2 -6M894 610l-13 0M881 1102l11 13M881 1102l7 -19M882 1006l-1 -3M881 573l6 -4M889 763l-7 7M882 736l3 8M889 729l-7 7M889 729l-7 -9M882 720l2 -5M895 1009l-13 -3M883 1015l9 6M894 1080l-11 -22M883 1058l14 -5M896 703l-13 1M886 757l-3 -5M883 752l2 -8M883 881l0 -6M884 874l-1 1M883 881l11 2M885 922l-2 0M897 814l-14 -5M883 809l1 -5M884 804l0 -5M893 794l-9 5M884 835l4 -1M895 962l-11 0M884 874l10 -5M899 715l-15 0M887 567l-3 -3M899 799l-15 5M885 922l14 10M903 917l-18 5M897 743l-12 1M886 757l3 6M886 757l13 -9M896 577l-9 -8M887 569l0 -2M887 567l2 -2M887 978l7 0M890 835l-2 -1M888 460l3 0 4 0M893 1081l-5 2M889 729l5 -1M889 763l2 0M895 842l-5 -7M899 822l-9 13M891 857l0 -3M896 844l-5 10M896 865l-5 -8M891 1024l4 6M891 1024l1 -3M891 763l2 2M891 763l13 -11M899 673l-7 -18M893 654l-1 1M892 1021l4 -7M896 1008l-4 -14M892 994l3 -3M892 1115l5 2M892 947l3 15M897 945l-5 2M893 765l14 2M893 765l5 17M912 657l-19 -3M895 643l-2 11M893 1081l15 28M894 1080l-1 1M893 784l0 10M893 784l5 -2M898 694l-5 -4M893 690l2 -15M896 607l-3 -13M893 594l2 -2M893 794l6 5M893 641l2 2M897 625l-4 16M894 1040l5 7M895 1030l-1 10M894 904l0 -9M896 894l-2 1M894 610l1 14M894 610l2 -3M894 728l3 3M894 728l5 -13M895 991l-1 -13M895 977l-1 1M894 869l4 8M896 865l-2 4M894 1141l4 -1M896 894l-2 -11M898 877l-4 6M894 904l3 1M894 1080l3 -2M895 1030l19 -3M897 965l-2 -3M911 994l-16 -3M897 625l-2 -1M911 641l-16 2M896 1014l-1 -5M895 1009l1 -1M899 673l-4 2M910 594l-15 -2M896 577l-1 15M909 981l-14 -4M895 977l2 -12M895 532l0 -6M895 526l5 0 3 0M895 526l0 -16M896 844l-1 -2M908 838l-13 4M895 510l5 0 5 0 6 0M895 510l0 -17M895 493l5 0 5 0 3 0M895 493l0 -16M895 477l5 0 5 0 5 0M895 477l0 -17M895 460l5 0 4 0M895 460l1 -6M911 855l-15 -11M906 864l-10 1M896 894l10 -3M896 1014l16 6M896 1008l13 -6M896 577l13 -1M896 703l5 10M898 694l-2 9M908 608l-12 -1M897 625l12 0M897 905l6 12M897 905l12 -2M897 743l2 5M897 743l3 -5M900 738l-3 -7M897 731l14 -4M898 1140l-1 -23M897 1117l11 -8M908 961l-11 4M898 1056l-1 -3M897 1053l2 -5M897 1078l1 -22M897 1078l15 0M897 945l10 2M897 945l1 -10M899 822l-2 -8M902 810l-5 4M898 782l9 1M899 932l-1 3M898 694l12 -3M909 881l-11 -4M901 1142l-3 -2M898 1056l21 8M908 672l-9 1M903 800l-4 -1M899 1048l17 9M899 1047l0 1M899 1047l6 -3M901 713l-2 2M908 824l-9 -2M899 748l5 4M905 930l-6 2M900 738l9 1M908 714l-7 -1M901 1142l1 0M915 813l-13 -3M903 800l-1 10M906 797l-3 3M906 918l-3 -1M904 752l2 0M905 930l5 5M905 930l1 -12M905 1044l10 5M905 1044l12 -14M906 891l3 4M909 881l-3 10M906 752l6 5M906 752l4 -12M906 864l6 14M906 864l3 -4M906 797l8 3M906 797l1 -14M906 918l6 -2M907 767l1 15M907 767l4 -4M907 783l1 -1M907 947l1 14M908 946l-1 1M910 496l-2 -3M908 493l2 -11M908 493l2 0M908 1109l1 0M908 946l14 1M910 935l-2 11M910 831l-2 -7M908 824l6 -3M908 672l2 14M908 782l8 0M914 723l-6 -9M908 714l5 -6M908 672l20 4M908 672l5 -14M909 625l-1 -17M908 608l3 -2M908 838l11 4M910 831l-2 7M912 962l-4 -1M909 1109l5 3M918 1095l-9 14M913 1016l-4 -14M909 1002l0 -1M923 869l-14 -9M911 855l-2 5M909 881l3 -3M909 739l1 1M909 739l2 -12M909 895l0 8M923 894l-14 1M909 903l2 3M909 625l0 1M911 641l-2 -15M923 622l-14 4M924 1009l-15 -8M911 994l-2 7M913 991l-4 -10M914 974l-5 7M911 578l-2 -2M909 576l1 -2M910 831l13 -1M913 694l-3 -3M910 691l0 -5M910 740l10 2M912 596l-2 -2M911 578l-1 16M910 935l14 -3M910 493l0 -11M928 681l-18 5M910 496l0 -3M911 497l-1 -1M911 510l-1 -14M911 518l0 -8M919 770l-8 -7M911 763l1 -6M915 853l-4 2M913 991l-2 3M926 612l-15 -6M912 596l-1 10M911 578l15 0M911 497l4 7M911 497l2 -2M912 642l-1 -1M914 723l-3 4M911 906l1 10M911 906l13 -6M914 1027l-2 -7M912 1020l1 -4M914 974l-2 -12M918 960l-6 2M913 658l-1 -1M912 657l0 -15M916 917l-4 -1M912 1078l6 17M912 1078l11 -10M912 757l7 -3M912 514l1 -4 0 -1M912 596l13 -3M912 642l15 -1M922 878l-10 0M913 708l0 -14M913 708l10 0M927 659l-14 -1M924 1009l-11 7M919 991l-6 0M913 694l13 0M914 974l15 1M914 1112l27 2M914 1112l12 30M914 1027l3 3M923 827l-9 -6M914 821l0 -1M915 813l-1 7M914 820l13 -3M914 800l3 11M914 800l9 -4M914 723l2 1M915 813l2 -2M928 860l-13 -7M919 842l-4 11M915 1049l1 8M915 1049l8 -6M924 932l-8 -15M924 913l-8 4M916 782l3 1M916 782l3 -12M919 1064l-3 -7M916 724l7 8M916 724l13 -8M917 811l9 0M917 1030l5 1M918 1095l27 1M931 973l-13 -13M922 956l-4 4M919 842l6 -3M919 783l4 13M929 781l-10 2M919 754l1 1M920 742l-1 12M919 991l10 6M919 991l9 -13M923 1068l-4 -4M919 770l7 -3M922 740l-2 2M926 767l-6 -12M931 753l-11 2M922 878l1 1M922 878l1 -9M923 1043l-1 -12M924 1030l-2 1M939 960l-17 -4M922 956l1 -8M923 948l-1 -1M925 932l-3 15M936 744l-14 -4M923 732l-1 8M923 796l8 5M923 830l0 -3M923 827l5 -6M923 830l2 9M923 879l2 11M923 879l18 -1M923 732l12 -3M929 716l-6 -8M923 708l4 -7M924 900l-1 -6M925 890l-2 4M938 949l-15 -1M923 869l5 -9M926 1068l-3 0M923 622l4 4M926 612l-3 10M935 1057l-12 -14M924 900l0 13M935 916l-11 -3M924 932l1 0M934 903l-10 -3M929 997l-5 12M929 1015l-5 -6M924 1030l14 2M929 1015l-5 15M925 593l5 15M925 593l1 -2M925 890l5 1M931 931l-6 1M926 839l-1 0M926 612l4 -4M926 1068l21 25M926 1068l9 -11M930 768l-4 -1M930 859l-4 -20M926 839l8 -1M927 817l-1 -6M926 811l5 -6M926 591l0 -13M926 578l1 0M926 694l1 7M926 694l3 -3M926 575l1 3M926 591l15 2M942 576l-15 2M927 659l1 1M927 659l0 -18M927 641l0 -1M938 709l-11 -8M928 821l-1 -4M927 640l0 -14M927 626l14 -1M927 640l13 3M928 681l1 10M928 676l0 5M928 821l9 2M933 993l-5 -15M928 978l1 -3M928 860l1 0M928 660l1 16M928 660l10 -2M928 676l1 0M929 716l2 1M929 691l14 2M929 676l14 0M931 997l-2 0M931 974l-2 1M941 875l-12 -15M930 859l-1 1M929 781l7 3M929 781l1 -13M929 1015l12 -2M930 768l6 -3M934 858l-4 1M930 891l6 2M941 878l-11 13M930 608l13 0M936 934l-5 -3M931 931l4 -15M931 974l11 7M931 974l0 -1M931 973l8 -12M934 723l-3 -6M938 709l-7 8M931 997l1 1M931 997l2 -4M931 801l0 4M937 793l-6 8M940 811l-9 -6M936 765l-5 -12M936 747l-5 6M942 1115l-11 27M932 998l18 2M932 998l9 15M933 993l11 -9M935 915l-1 -12M934 903l4 -4M941 850l-7 -12M934 838l2 -2M945 866l-11 -8M934 858l7 -8M934 723l1 6M945 719l-11 4M935 915l0 1M935 1057l5 -2M935 729l7 6M935 915l13 -1M936 744l0 3M942 735l-6 9M936 893l2 6M946 882l-10 11M936 765l11 2M944 752l-8 -5M936 836l1 -13M936 836l10 -2M936 784l1 9M936 784l10 -7M936 934l2 6M940 933l-4 1M937 823l10 -6M937 793l10 3M938 709l4 -2M944 1041l-6 -9M938 1032l1 -1M958 940l-20 0M939 948l-1 -8M938 949l1 11M938 949l1 -1M938 899l9 1M938 658l9 15M938 658l4 -5M939 1031l5 -17M939 1031l14 -6M939 960l0 1M944 962l-5 -1M944 948l-5 0M940 1055l6 3M940 1055l4 -14M940 643l2 1M940 643l1 -18M958 935l-18 -2M951 917l-11 16M947 817l-7 -6M940 811l7 -15M941 878l0 -3M941 875l4 -9M941 1013l3 1M943 623l-2 2M943 608l-2 -15M943 590l-2 3M946 882l-5 -4M941 570l1 6M942 1115l-1 -1M945 1096l-4 18M941 850l1 0M942 653l16 5M942 653l0 -9M942 850l7 6M942 850l11 -8M942 981l2 3M947 967l-5 14M942 644l11 -4M942 576l1 14M957 575l-15 1M942 1115l22 10M942 735l4 0M942 707l7 5M942 707l1 -14M943 676l0 17M943 693l14 -1M943 623l11 6M943 623l1 -14M944 609l-1 -1M947 673l-4 3M957 591l-14 -1M948 761l-4 -9M955 741l-11 11M944 1014l4 -2M944 609l12 -2M944 962l3 5M957 956l-13 6M944 1041l7 -2M944 984l2 1M957 956l-13 -8M958 940l-14 8M945 719l1 15M945 719l4 -7M945 866l8 -4M947 1094l-2 2M950 782l-4 -5M946 777l1 -10M948 883l-2 -1M946 735l9 6M946 734l0 1M953 1084l-7 -26M946 1058l11 0M946 734l13 -13M953 842l-7 -8M946 834l5 -13M950 990l-4 -5M956 974l-10 11M962 1099l-15 -5M947 1093l0 1M947 1093l6 -9M948 914l-1 -14M947 900l6 -7M949 796l-2 0M947 673l9 -1M947 967l9 7M947 767l1 -6M947 817l4 4M947 817l8 -12M947 767l8 1M948 914l3 3M959 748l-11 13M948 883l5 10M948 883l6 -5M948 1012l1 1M951 1001l-3 11M953 862l-4 -6M949 856l10 -14M969 1016l-20 -3M953 1025l-4 -12M949 712l4 0M949 796l4 2M949 796l1 -14M951 1001l-1 -1M950 1000l0 -10M960 988l-10 2M967 785l-17 -3M965 1001l-14 0M959 919l-8 -2M951 821l6 2M961 1045l-10 -6M951 1039l6 -9M959 721l-6 -9M953 712l6 -8M957 1030l-4 -5M955 862l-2 0M953 1084l5 -3M959 842l-6 0M957 894l-4 -1M958 644l-5 -4M954 629l-1 11M955 805l-2 -7M966 787l-13 11M954 878l1 -16M954 878l10 -1M954 629l7 -5M956 742l-1 -1M955 805l15 3M955 862l6 -2M955 560l4 13M967 784l-12 -16M964 763l-9 5M961 624l-5 -17M957 606l-1 1M956 672l1 1M959 661l-3 11M960 973l-4 1M956 742l3 6M956 742l5 -4M959 919l-2 -25M960 894l-3 0M957 606l16 3M957 606l3 -12M957 575l0 16M959 573l-2 2M957 823l6 16M963 820l-6 3M958 956l-1 0M957 1030l3 -1M959 704l-2 -12M959 690l-2 2M975 675l-18 -2M957 673l2 17M960 594l-3 -3M958 935l0 5M961 924l-3 11M959 661l-1 -3M958 658l0 -14M959 941l-1 -1M958 956l2 17M958 956l2 -2M972 641l-14 3M959 721l8 3M960 705l-1 -1M960 954l-1 -13M975 941l-16 0M959 842l2 0M970 574l-11 -1M960 919l-1 0M959 748l5 4M978 692l-19 -2M959 661l14 -4M970 715l-10 -10M960 705l17 -2M960 919l1 2M960 919l11 -16M964 975l-4 -2M960 1029l3 10M960 1029l5 -2M971 903l-11 -9M960 894l4 -5M973 591l-13 3M965 1000l-5 -12M960 988l6 -4M970 956l-10 -2M961 842l3 10M961 842l2 -3M961 921l0 3M961 921l20 -1M961 924l14 10M961 860l11 12M961 860l3 -8M961 738l12 6M961 738l2 -3M961 624l12 3M968 1139l-6 3M973 559l-10 -3M974 835l-11 4M963 820l12 8M963 820l7 -9M963 735l11 4M963 735l4 -11M964 1125l5 9M968 1117l-4 8M966 984l-2 -9M973 970l-9 5M964 889l0 -12M964 877l8 -5M964 852l3 0M964 763l0 -11M964 752l9 -3M976 887l-12 2M971 767l-7 -4M965 1001l4 15M965 1001l0 -1M965 1027l2 3M970 1016l-5 11M974 994l-9 6M975 989l-9 -5M972 803l-6 -16M967 786l-1 1M967 786l0 -1M967 785l0 -1M975 771l-8 13M980 789l-13 -3M974 726l-7 -2M970 715l-3 9M981 860l-14 -8M983 846l-16 6M972 1142l-4 -3M969 1134l-1 5M974 1132l-5 2M969 1016l1 0M971 1016l-1 0M970 811l8 11M970 811l0 -3M973 970l-3 -14M976 952l-6 4M978 705l-8 10M970 574l3 3M970 574l3 -15M986 811l-16 -3M972 803l-2 5M973 1017l-2 -1M976 1011l-5 5M975 771l-4 -4M971 767l7 -15M971 903l4 -1M972 641l1 16M972 641l4 -6M983 797l-11 6M974 872l-2 0M973 591l10 9M973 577l0 14M975 557l-2 -6M973 559l2 -2M977 971l-4 -1M973 627l0 -18M973 609l10 -9M973 744l0 5M973 744l1 -5M978 752l-5 -3M973 627l2 1M973 657l5 3M993 574l-20 3M974 835l9 11M974 835l1 -3M979 883l-5 -11M977 869l-3 3M980 733l-6 6M974 726l6 7M989 714l-15 12M974 994l6 6M975 989l-1 5M975 989l2 -1M975 832l0 -4M978 822l-3 6M988 771l-13 0M975 832l11 -1M989 555l-14 2M976 635l-1 -7M975 628l21 -13M975 934l1 2M975 934l7 -14M975 675l5 12M980 666l-5 9M984 906l-9 -4M976 887l-1 15M975 941l5 6M976 936l-1 5M976 936l13 -5M979 883l-3 4M986 965l-10 -13M980 947l-4 5M976 635l11 5M977 988l0 -17M988 985l-11 3M977 971l8 -1M978 705l-1 -2M977 703l1 -11M993 871l-16 -2M977 869l4 -9M989 714l-11 -9M978 822l10 -3M985 752l-7 0M979 691l-1 1M980 666l-2 -6M978 660l9 -6M1000 697l-21 -6M979 691l1 -4M991 886l-12 -3M980 1000l-1 4M987 946l-7 1M997 676l-17 11M987 735l-7 -2M980 1000l2 -1M983 797l-3 -8M980 789l10 -8M998 672l-18 -6M981 860l9 -9M981 920l1 0M984 906l-3 14M986 924l-4 -4M983 600l4 0M989 800l-6 -3M983 545l6 10M983 846l5 2M984 906l7 -3M985 970l6 8M985 970l1 -5M987 754l-2 -2M987 735l-2 17M986 811l2 8M991 802l-5 9M986 965l4 -4M986 924l1 0M986 924l13 -18M986 831l5 8M990 821l-4 10M996 615l-9 -15M995 589l-8 11M987 735l5 -2M987 654l4 2M987 640l0 14M987 754l3 13M987 754l13 -5M988 947l-1 -1M987 946l8 -8M987 924l2 7M987 924l13 -5M987 640l13 -2M988 947l15 12M988 947l2 14M988 771l2 9M988 771l2 -4M990 990l-2 -5M988 985l3 -7M988 848l2 3M988 848l3 -9M988 819l2 2M1002 810l-14 9M989 800l2 2M989 800l1 -19M990 556l-1 -1M991 714l-2 0M989 931l6 7M990 767l5 0M992 852l-2 -1M990 781l0 -1M990 556l3 18M990 556l18 -13M990 821l5 3M990 961l12 -1M995 783l-5 -3M991 802l7 -1M991 886l0 1M991 886l4 -8M1000 977l-9 1M991 714l3 6M1001 702l-10 12M991 903l8 3M991 887l0 16M991 887l14 2M1000 664l-9 -8M991 656l14 -12M991 839l7 -5M993 856l-1 -4M1003 850l-11 2M992 733l10 11M995 728l-3 5M993 574l5 4M995 878l-2 -7M993 871l3 -5M993 856l17 6M993 856l3 10M994 720l1 8M994 720l16 -3M1004 768l-9 -1M995 767l9 -14M995 878l12 0M995 728l14 2M995 783l6 12M995 783l4 -1M999 938l-4 0M1022 607l-27 -18M998 578l-3 11M995 824l3 10M1007 820l-12 4M996 615l2 0M996 866l11 1M997 676l5 16M998 672l-1 4M998 615l2 23M998 615l22 -5M1006 836l-8 -2M998 672l4 -3M998 801l4 5M1001 795l-3 6M1009 577l-11 1M999 938l6 8M999 938l4 -5M999 782l5 -14M999 782l12 -2M999 906l4 3M999 906l6 -17M1003 933l-3 -14M1004 911l-4 8M1001 702l-1 -5M1000 697l2 -5M1002 979l-2 -2M1000 977l5 -8M1002 669l-2 -5M1000 664l5 -20M1006 641l-6 -3M1004 753l-4 -4M1000 749l2 -5M1011 791l-10 4M1001 702l1 0M1008 543l-6 -7M1002 702l10 2M1002 702l8 15M1002 810l5 10M1002 806l0 4M1008 742l-6 2M1012 805l-10 1M1002 692l9 -3M1002 669l13 11M1002 669l6 -3M1005 969l-3 -9M1002 960l1 -1M1010 852l-7 -2M1003 850l3 -14M1005 946l-2 13M1019 957l-16 2M1003 933l11 -5M1003 909l1 2M1010 905l-7 4M1012 759l-8 -6M1016 925l-12 -14M1004 768l8 0M1005 644l1 -3M1007 878l-2 11M1012 971l-7 -2M1011 891l-6 -2M1005 946l13 -1M1006 836l5 -3M1020 642l-14 -1M1011 822l-4 -2M1007 878l3 -2M1010 876l-3 -9M1007 867l3 -5M1024 668l-16 -2M1021 647l-13 19M1016 750l-8 -8M1008 742l1 -2M1010 543l-2 0M1009 740l0 -10M1016 725l-7 5M1023 739l-14 1M1025 604l-16 -27M1018 568l-9 9M1010 905l12 9M1015 900l-5 5M1010 543l8 25M1010 543l3 -3M1010 876l3 1M1010 717l5 2M1012 861l-2 1M1010 852l2 9M1010 852l10 -6M1011 780l2 4M1011 780l1 -12M1011 833l5 4M1011 822l0 11M1011 791l4 6M1013 784l-2 7M1011 689l11 8M1011 689l4 -9M1015 900l-4 -9M1011 891l7 -11M1012 822l-1 0M1012 704l5 10M1012 704l10 -6M1019 863l-7 -2M1012 973l0 -2M1012 822l0 -17M1012 805l2 -1M1012 759l2 7M1016 750l-4 9M1012 971l3 0M1012 822l8 -3M1014 766l-2 2M1013 784l15 1M1018 880l-5 -3M1013 877l4 -8M1013 540l1 -13M1013 540l21 -2M1014 766l14 0M1020 807l-6 -3M1015 797l-1 7M1014 928l4 17M1016 926l-2 2M1015 900l12 -3M1015 680l3 -1M1025 796l-10 1M1015 719l1 5M1015 719l2 -2M1016 925l0 1M1022 914l-6 11M1016 750l9 -4M1016 970l3 -13M1030 930l-14 -4M1016 837l4 8M1029 828l-13 9M1023 739l-7 -14M1016 724l0 1M1016 724l20 0M1017 717l0 -3M1017 717l17 -4M1017 714l6 -8M1017 869l12 2M1017 869l2 -6M1018 945l4 3M1018 679l6 6M1025 670l-7 9M1018 880l7 1M1035 570l-17 -2M1026 862l-7 1M1023 954l-4 3M1021 644l-1 -2M1022 623l-2 19M1022 623l-2 -13M1022 607l-2 3M1020 819l7 2M1020 819l0 -12M1020 807l7 -3M1020 846l0 -1M1033 833l-13 12M1029 852l-9 -6M1021 647l3 21M1021 644l0 3M1021 644l12 2M1022 607l3 -3M1022 698l1 8M1022 697l0 1M1048 629l-26 -6M1022 948l1 6M1032 938l-10 10M1022 914l9 -3M1022 697l1 -1M1034 713l-11 -7M1023 954l6 5M1027 742l-4 -3M1023 696l8 0M1024 685l-1 11M1025 670l-1 -2M1024 685l8 -3M1025 746l0 1M1025 746l2 -4M1037 755l-12 -8M1025 747l3 19M1027 804l-2 -8M1025 796l4 -7M1025 670l7 1M1044 597l-19 7M1028 890l-3 -9M1025 881l5 -5M1026 862l2 6M1026 862l3 -10M1026 516l11 10M1027 742l5 -2M1027 804l10 5M1027 821l2 7M1035 815l-8 6M1027 897l3 4M1027 897l1 -7M1028 785l0 1M1028 785l0 -19M1028 890l19 -4M1028 868l1 3M1028 868l19 -8M1035 765l-7 1M1029 789l-1 -3M1042 781l-14 5M1029 828l4 5M1030 876l-1 -5M1029 789l10 6M1029 852l4 -1M1030 876l9 -1M1032 938l-2 -8M1030 930l2 -2M1031 911l-1 -10M1030 901l17 -3M1040 500l-9 -2M1031 911l2 2M1034 698l-3 -2M1031 696l4 -11M1032 928l1 -15M1032 928l16 -3M1032 740l6 3M1032 740l4 -16M1032 682l3 3M1032 671l0 11M1032 671l1 -1M1032 938l7 3M1033 646l0 24M1039 836l-6 -3M1033 913l15 1M1049 663l-16 -17M1047 637l-14 9M1033 851l15 8M1033 851l6 -15M1042 670l-9 0M1038 709l-4 -11M1034 698l15 -7M1046 549l-12 -11M1034 538l3 -12M1036 713l-2 0M1035 685l12 0M1035 570l9 27M1044 558l-9 12M1035 765l8 3M1037 755l-2 10M1042 822l-7 -7M1035 815l2 -6M1036 724l0 -11M1038 709l-2 4M1036 724l8 2M1039 941l-2 9M1051 512l-14 14M1039 795l-2 14M1049 808l-12 1M1039 751l-2 4M1038 743l1 8M1038 743l11 -3M1038 709l10 -2M1039 941l3 1M1045 880l-6 -5M1039 875l8 -15M1045 793l-6 2M1043 835l-4 1M1039 751l10 2M1051 512l-11 -12M1040 500l6 -10M1042 781l3 12M1042 780l0 1M1042 822l1 13M1053 819l-11 3M1042 780l15 3M1043 768l-1 12M1042 670l6 13M1049 663l-7 7M1043 768l6 -2M1045 836l-2 -1M1048 599l-4 -2M1044 726l5 14M1055 721l-11 5M1066 576l-22 -18M1044 558l2 -9M1047 886l-2 -6M1058 869l-13 11M1045 836l7 19M1045 836l7 -2M1045 793l8 1M1067 492l-21 -2M1047 483l-1 7M1046 549l19 -6M1048 859l-1 1M1058 645l-11 -8M1047 637l1 -8M1049 909l-2 -11M1047 898l4 -7M1047 886l4 4M1049 691l-2 -6M1048 683l-1 2M1048 859l5 -1M1057 609l-9 20M1064 675l-16 8M1057 609l-9 -10M1066 576l-18 23M1048 925l1 2M1050 917l-2 8M1048 707l1 1M1048 707l1 -16M1048 914l2 3M1048 914l1 -5M1049 931l0 -4M1050 927l-1 0M1049 753l0 13M1049 753l3 -4M1049 691l14 4M1049 767l0 -1M1057 661l-8 2M1049 909l10 -4M1054 812l-5 -4M1053 794l-4 14M1049 740l2 0M1049 767l10 11M1064 759l-15 8M1049 708l6 13M1061 704l-12 4M1062 918l-12 -1M1051 740l1 9M1051 740l10 -4M1051 512l15 1M1051 890l0 1M1051 890l8 -6M1051 891l9 6M1052 834l8 3M1055 822l-3 12M1052 749l12 5M1052 855l1 3M1060 837l-8 18M1054 858l-1 0M1057 783l-4 11M1065 799l-12 -5M1053 819l2 3M1053 819l1 -7M1058 869l-4 -11M1062 856l-8 2M1064 809l-10 3M1055 822l11 2M1055 721l3 1M1057 783l2 -3M1057 661l5 4M1058 645l-1 16M1078 614l-21 -5M1062 873l-4 -4M1072 640l-14 5M1058 722l4 11M1059 721l-1 1M1063 707l-4 14M1059 721l17 -5M1073 890l-14 -6M1059 884l3 -11M1068 914l-9 -9M1059 905l1 -8M1059 778l0 2M1070 766l-11 12M1070 784l-11 -4M1060 837l6 -1M1069 898l-9 -1M1061 736l6 14M1062 733l-1 3M1063 707l-2 -3M1061 704l2 -9M1070 856l-8 0M1062 856l5 -18M1062 665l2 10M1062 665l10 -4M1062 873l3 0M1062 733l13 -1M1063 707l12 5M1063 695l2 -1M1070 681l-6 -6M1070 766l-6 -7M1064 759l0 -5M1064 809l6 11M1067 803l-3 6M1064 754l3 -4M1067 803l-2 -4M1065 799l3 -6M1076 702l-11 -8M1070 685l-5 9M1065 543l9 5M1066 513l-1 30M1065 873l9 2M1065 873l6 -16M1066 576l2 -1M1066 836l1 1M1066 824l0 12M1070 820l-4 4M1066 513l4 -3M1068 914l-1 1M1067 803l8 1M1067 838l0 -1M1067 837l16 -6M1070 510l-3 -18M1067 492l1 -8M1081 746l-14 4M1074 844l-7 -6M1068 575l15 15M1068 575l9 -12M1072 915l-4 -1M1068 914l3 -9M1080 794l-12 -1M1070 784l-2 9M1071 905l-2 -7M1069 898l4 -8M1078 690l-8 -5M1070 681l0 4M1070 856l1 1M1070 856l4 -12M1082 819l-12 1M1070 681l7 -3M1081 780l-11 4M1070 766l3 0M1070 510l3 0M1071 857l8 4M1085 904l-14 1M1072 640l6 8M1078 614l-6 26M1072 661l2 1M1078 648l-6 13M1073 766l8 11M1073 766l9 -8M1098 538l-25 -28M1073 510l23 -9M1078 887l-5 3M1074 876l0 -1M1074 875l5 -14M1074 662l11 6M1077 678l-3 -16M1077 563l-3 -15M1096 539l-22 9M1078 887l-4 -11M1074 876l14 -3M1074 844l9 1M1081 810l-6 -6M1075 804l5 -10M1075 712l1 3M1075 712l1 -10M1079 736l-4 -4M1075 732l2 -12M1076 702l4 -3M1077 720l-1 -4M1076 715l0 1M1076 715l12 -5M1088 724l-11 -4M1090 685l-13 -7M1077 678l8 -10M1094 569l-17 -6M1078 614l3 -1M1079 887l-1 0M1078 690l2 9M1090 687l-12 3M1078 648l5 1M1086 903l-7 -16M1079 887l16 -3M1079 861l5 -2M1079 736l2 10M1079 736l12 -7M1085 791l-5 3M1094 699l-14 0M1085 785l-4 -5M1081 780l0 -3M1081 777l4 -4M1083 818l-2 -8M1091 799l-10 11M1081 613l4 1M1083 590l-2 23M1085 749l-4 -3M1082 758l3 15M1086 752l-4 6M1082 819l1 12M1083 818l-1 1M1083 818l9 -1M1083 649l7 18M1097 644l-14 5M1083 845l0 1M1083 845l2 -13M1100 574l-17 16M1083 846l1 13M1083 846l12 -1M1083 831l2 1M1084 859l1 1M1085 614l7 2M1106 575l-21 39M1085 785l0 6M1098 783l-13 2M1085 749l1 3M1085 749l11 -7M1091 799l-6 -8M1095 833l-10 -1M1088 873l-3 -13M1087 860l-2 0M1090 667l-5 1M1094 766l-9 7M1085 904l4 6M1086 903l-1 1M1086 903l11 -10M1086 752l8 8M1087 860l14 8M1097 853l-10 7M1088 724l4 2M1088 710l0 14M1094 707l-6 3M1088 873l9 7M1090 687l0 -2M1090 685l7 -10M1094 699l-4 -12M1094 668l-4 -1M1095 737l-4 -8M1091 729l1 -3M1098 801l-7 -2M1101 721l-9 5M1092 616l5 28M1092 616l7 -1M1092 817l5 3M1098 801l-6 16M1098 771l-4 -5M1094 760l0 6M1094 699l0 8M1103 695l-9 4M1094 707l9 10M1100 574l-6 -5M1094 569l2 -30M1094 760l8 -2M1097 675l-3 -7M1097 665l-3 3M1096 742l-1 -5M1103 730l-8 7M1098 492l-3 -11M1095 884l2 9M1095 884l2 -3M1095 833l4 8M1100 826l-5 7M1095 845l2 8M1099 841l-4 4M1104 743l-8 -1M1098 538l-2 1M1112 516l-16 -15M1096 501l2 -9M1097 893l0 1M1106 857l-9 -4M1099 676l-2 -1M1097 820l3 6M1108 812l-11 8M1097 881l9 3M1097 881l0 -1M1097 880l4 -8M1098 645l-1 20M1097 665l14 -4M1097 644l1 1M1098 645l15 2M1105 771l-7 0M1098 783l0 -12M1114 535l-16 3M1100 784l-2 -1M1098 492l11 -2M1098 801l6 -1M1105 842l-6 -1M1099 615l12 2M1110 581l-11 34M1099 676l7 16M1099 676l14 0M1100 826l9 1M1100 784l5 7M1100 784l9 -8M1100 574l6 0M1101 872l0 -4M1106 857l-5 11M1101 721l2 9M1103 717l-2 4M1114 872l-13 0M1108 763l-6 -5M1102 758l2 -4M1107 717l-4 0M1103 695l5 5M1103 695l3 -3M1108 737l-5 -7M1104 743l0 11M1107 741l-3 2M1104 800l2 2M1105 791l-1 9M1125 752l-21 2M1109 848l-4 -6M1105 842l8 -11M1105 771l4 5M1105 771l3 -8M1120 784l-15 7M1108 812l-2 -10M1122 800l-16 2M1106 574l0 1M1106 574l15 -19M1113 690l-7 2M1109 855l-3 2M1106 575l4 6M1112 734l-5 -17M1111 716l-4 1M1107 741l15 7M1107 741l1 -4M1112 734l-4 3M1118 763l-10 0M1111 814l-3 -2M1113 831l-4 -4M1111 814l-2 13M1128 503l-19 -13M1109 490l22 -13M1120 860l-11 -5M1109 855l0 -7M1120 841l-11 7M1109 776l10 1M1110 581l11 8M1111 617l6 21M1119 613l-8 4M1111 716l6 4M1111 716l1 -2M1121 815l-10 -1M1111 661l3 5M1111 661l3 -12M1114 535l-2 -19M1112 516l16 -13M1112 734l4 -2M1118 682l-5 -6M1113 676l1 -10M1113 690l2 3M1113 690l5 -8M1113 647l1 2M1113 647l4 -9M1120 832l-7 -1M1114 535l6 6M1114 872l1 6M1121 866l-7 6M1125 667l-11 -1M1114 649l10 4M1116 442l12 -6M1116 732l6 16M1116 732l3 -4M1135 636l-18 2M1117 470l14 7M1118 682l5 0M1119 776l-1 -13M1118 763l7 -11M1119 777l1 7M1119 776l0 1M1151 618l-32 -5M1121 589l-2 24M1134 770l-15 6M1119 728l9 9M1120 723l-1 5M1122 839l-2 -7M1121 866l-1 -6M1120 860l2 -2M1120 841l2 17M1122 839l-2 2M1121 555l-1 -14M1120 541l27 -11M1123 786l-3 -2M1120 832l3 -15M1120 832l16 -3M1121 866l5 5M1121 589l16 -2M1123 817l-2 -2M1121 815l2 -14M1135 446l-14 8M1121 555l20 14M1137 847l-15 -8M1122 748l4 3M1123 801l-1 -1M1122 800l1 -14M1136 852l-14 6M1136 804l-13 -3M1123 817l9 -1M1130 786l-7 0M1128 656l-4 -3M1124 653l11 -17M1124 433l4 3M1127 671l-2 -4M1128 656l-3 11M1126 752l-1 0M1138 762l-12 -10M1126 752l0 -1M1127 750l-1 1M1128 875l-2 -4M1131 868l-5 3M1128 737l-1 13M1133 747l-6 3M1128 503l2 -1M1132 436l-4 0M1137 655l-9 1M1130 502l15 15M1136 485l-6 17M1132 786l-2 0M1130 786l4 -16M1136 485l-5 -8M1140 456l-9 21M1139 802l-7 -16M1132 786l2 0M1132 436l3 10M1145 422l-13 14M1137 821l-5 -5M1136 804l-4 12M1143 788l-9 -2M1142 776l-8 10M1137 767l-3 3M1140 456l-5 -10M1146 632l-11 4M1137 862l-1 -10M1137 850l-1 2M1158 489l-22 -4M1139 802l-3 2M1141 840l-5 -11M1138 826l-2 3M1142 776l-5 -9M1137 767l1 -5M1137 587l14 30M1137 587l5 -11M1137 821l1 5M1137 850l0 -3M1137 847l1 -1M1139 851l-2 -1M1140 826l-2 0M1138 692l0 -1M1138 654l8 -22M1138 678l4 3M1138 692l0 1M1142 681l-4 11M1139 802l7 0M1154 457l-14 -1M1142 663l-1 2M1145 422l-4 -6M1146 702l-5 -2M1142 576l-1 -7M1141 569l12 -6M1142 662l0 1M1169 590l-27 -14M1147 778l-5 -2M1146 681l-4 0M1142 663l8 1M1143 788l6 11M1147 780l-4 8M1146 702l-2 3M1145 422l5 -1M1145 517l2 13M1160 495l-15 22M1153 699l-7 -18M1154 675l-8 6M1146 632l4 -4M1152 720l-6 -18M1152 700l-6 2M1149 811l-3 -9M1146 802l3 -3M1147 778l0 2M1147 778l5 -5M1154 784l-7 -4M1147 530l4 1M1150 799l-1 0M1154 749l-4 -4M1154 784l-4 15M1154 799l-4 0M1150 664l2 2M1150 664l8 -27M1152 720l-2 0M1150 421l17 25M1150 421l17 -13M1150 628l8 9M1150 628l1 -10M1151 618l0 -1M1153 563l-2 -32M1165 531l-14 0M1160 612l-9 5M1153 721l-1 -1M1154 675l-2 -9M1152 666l10 -5M1153 721l-1 3M1156 735l-4 -1M1159 703l-7 -3M1153 699l-1 1M1160 564l-7 -1M1159 689l-6 10M1164 717l-11 4M1165 479l-11 -22M1154 457l13 -11M1155 752l-1 -3M1154 749l4 -3M1155 784l-1 0M1154 675l1 1M1155 676l14 0M1159 689l-4 -13M1160 740l-4 -5M1156 735l10 -6M1158 489l2 6M1165 479l-7 10M1158 637l4 3M1159 689l7 -1M1159 703l5 14M1159 703l10 -4M1181 617l-21 -5M1160 612l9 -22M1173 506l-13 -11M1171 588l-11 -24M1172 556l-12 8M1162 640l12 3M1164 656l-2 -16M1165 401l-2 -2M1164 717l3 2M1173 537l-8 -6M1165 531l8 -25M1165 479l15 -5M1165 401l2 7M1166 398l-1 3M1166 688l3 11M1166 688l8 -7M1170 409l-3 -1M1172 447l-5 -1M1168 725l-1 -6M1167 719l4 -2M1171 588l-2 2M1172 700l-3 -1M1169 676l5 5M1169 676l0 -1M1173 410l-3 -1M1172 447l-2 -38M1188 582l-17 6M1172 700l3 4M1177 692l-5 8M1192 572l-20 -16M1173 537l-1 19M1186 449l-14 -2M1178 505l-5 1M1173 410l5 5M1173 410l21 -13M1173 662l5 -2M1194 534l-21 3M1177 646l-3 -3M1186 628l-12 15M1177 646l1 4M1185 645l-8 1M1195 533l-17 -28M1178 505l5 -2M1178 660l3 3M1178 650l0 10M1178 415l27 5M1178 415l9 33M1178 650l14 6M1183 503l-3 -29M1186 471l-6 3M1181 617l5 11M1181 617l9 -6M1184 672l-3 -9M1181 663l13 -5M1182 674l2 -2M1183 503l29 -2M1185 674l-1 -2M1187 671l-3 1M1185 645l7 11M1195 641l-10 4M1186 471l25 16M1186 449l0 22M1186 628l11 6M1186 449l1 -1M1187 448l3 -1M1188 582l5 21M1188 582l1 -1M1189 581l20 9M1189 581l3 -9M1212 451l-22 -4M1205 420l-15 27M1190 611l17 9M1190 611l3 -8M1192 572l11 -11M1192 656l2 2M1193 603l14 0M1196 658l-2 0M1203 561l-9 -27M1195 533l-1 1M1194 397l0 -1M1206 407l-12 -10M1195 533l13 -11M1199 652l-4 -11M1195 641l2 -7M1207 631l-10 3M1203 561l23 1M1208 417l-3 3M1206 407l2 10M1206 407l9 -13M1226 562l-18 -40M1208 522l8 -10M1208 417l17 6M1211 487l3 3M1211 487l1 -36M1212 451l8 -4M1216 512l-4 -11M1212 501l2 -11M1213 591l3 2M1235 477l-21 13M1230 518l-14 -6M1216 593l0 4M1229 580l-13 13M1230 455l-10 -8M1225 423l-5 24M1246 415l-21 8M1230 563l-4 -1M1235 554l-5 -36M1230 518l15 -2M1230 455l9 19M1256 434l-26 21M1233 569l-3 -6M1230 563l5 -9M1236 591l-4 -12M1266 540l-31 14M1245 516l-10 -39M1239 474l-4 3M1236 391l5 4M1240 474l-1 0M1256 491l-16 -17M1268 453l-28 21M1241 395l5 9M1243 390l-2 5M1247 516l-2 0M1246 404l0 11M1275 383l-29 21M1246 415l7 6M1266 540l-19 -24M1249 513l-2 3M1259 580l-11 -4M1256 491l-7 22M1289 510l-40 3M1253 421l3 13M1282 415l-29 6M1282 488l-26 3M1268 453l-12 -19M1269 541l-3 -1M1268 453l4 2M1269 541l3 17M1269 541l21 -12M1272 455l15 16M1296 427l-24 28M1274 568l0 3M1286 400l-11 -17M1275 383l2 -11M1277 372l0 -1M1310 383l-33 -11M1282 488l7 20M1287 471l-5 17M1282 415l14 12M1286 400l-4 15M1286 400l8 -2M1287 471l9 -3M1308 353l-20 9M1290 529l-1 -19M1289 508l0 2M1302 505l-13 3M1290 529l8 5M1294 398l11 9M1294 398l16 -15M1295 544l3 -10M1296 427l14 1M1296 468l9 4M1316 431l-20 37M1297 330l10 -1M1303 537l-5 -3M1302 543l1 -6M1325 538l-22 -1M1305 407l5 21M1305 407l14 -21M1307 329l1 24M1307 329l4 -5M1320 368l-12 -15M1309 296l2 1M1310 428l6 3M1310 383l7 -1M1340 334l-29 -10M1311 324l0 -27M1311 297l22 -13M1318 431l-2 0M1319 386l-2 -4M1320 368l-3 14M1318 431l5 10M1321 429l-3 2M1328 395l-9 -9M1339 361l-19 7M1321 429l7 -34M1339 428l-18 1M1325 538l1 2M1331 531l-6 7M1347 394l-19 1M1330 272l3 12M1331 531l-1 -1M1332 530l-1 1M1333 284l7 1M1338 526l-2 1M1339 361l13 6M1339 361l1 -27M1357 326l-17 8M1357 326l-17 -41M1366 276l-26 9M1347 394l4 24M1347 394l8 -6M1355 388l-3 -21M1352 367l21 -13M1355 388l21 6M1370 329l-13 -3M1370 329l3 24M1376 325l-6 4M1373 354l14 17M1373 353l0 1M1393 348l-20 5M1375 406l1 -12M1376 394l1 -1M1386 396l-9 -3M1387 371l-10 22M1404 369l-17 2M1407 382l-3 -13M1408 366l-4 3" fill="none" stroke="#000" stroke-width="0.95"/>
<path d="M10.9,495.3L15.7,496.5 20.6,497.7 25.5,498.9 30.3,500.1 35.2,501.2 40.1,502.4 45.0,503.5 49.8,504.6 54.7,505.7 59.6,506.8 64.5,507.8 69.4,508.9 74.3,509.9 79.2,511.0 84.1,512.0 89.0,513.0 93.9,514.0 98.8,514.9 103.7,515.9 108.7,516.8 113.6,517.8 118.5,518.7 123.4,519.6 128.4,520.5 133.3,521.4 138.2,522.2 143.2,523.1 148.1,523.9 153.0,524.8 158.0,525.6 162.9,526.4 167.9,527.2 172.8,527.9 177.8,528.7 182.7,529.4 187.7,530.2 192.6,530.9 197.6,531.6 202.5,532.3 207.5,532.9 212.5,533.6 217.4,534.3 222.4,534.9 227.4,535.5 232.3,536.1 237.3,536.7 242.3,537.3 247.3,537.9 252.2,538.4 257.2,538.9 262.2,539.5 267.2,540.0 272.2,540.5 277.1,541.0 282.1,541.4 287.1,541.9 292.1,542.3 297.1,542.8 302.1,543.2 307.1,543.6 312.1,544.0 317.1,544.3 322.1,544.7 327.1,545.1 332.1,545.4 337.1,545.7 342.1,546.0 347.0,546.3 352.0,546.6 357.1,546.8 362.1,547.1 367.1,547.3 372.1,547.6 377.1,547.8 382.1,548.0 387.1,548.1 392.1,548.3 397.1,548.5 402.1,548.6 407.1,548.7 412.1,548.8 417.1,548.9 422.1,549.0 427.1,549.1 432.1,549.2 437.1,549.2 442.1,549.2 447.1,549.2 452.2,549.2 457.2,549.2 462.2,549.2 467.2,549.2 472.2,549.1 477.2,549.1 482.2,549.0 487.2,548.9 492.2,548.8 497.2,548.6 502.2,548.5 507.2,548.4 512.2,548.2 517.2,548.0 522.2,547.8 527.2,547.6 532.3,547.4 537.3,547.2 542.3,546.9 547.3,546.7 552.3,546.4 557.3,546.1 562.3,545.8 567.3,545.5 572.3,545.2 577.2,544.8 582.2,544.5 587.2,544.1 592.2,543.7 597.2,543.3 602.2,542.9 607.2,542.5 612.2,542.1 617.2,541.6 622.2,541.1 627.1,540.7 632.1,540.2 637.1,539.7 642.1,539.1 647.1,538.6 652.1,538.1 657.0,537.5 662.0,536.9 667.0,536.3 671.9,535.7 676.9,535.1 681.9,534.5 686.9,533.8 691.8,533.2 696.8,532.5 701.7,531.8 706.7,531.1 711.7,530.4 716.6,529.7 721.6,529.0 726.5,528.2 731.5,527.4 736.4,526.7 741.4,525.9 746.3,525.1 751.2,524.2 756.2,523.4 761.1,522.6 766.0,521.7 771.0,520.8 775.9,519.9 780.8,519.0 785.8,518.1 790.7,517.2 795.6,516.2 800.5,515.3 805.4,514.3 810.3,513.3 815.2,512.3 820.1,511.3 825.0,510.3 829.9,509.3 834.8,508.2 839.7,507.2 844.6,506.1 849.5,505.0 854.4,503.9 859.3,502.8 864.2,501.6 869.0,500.5 873.9,499.3 878.8,498.2 883.6,497.0 888.5,495.8 893.4,494.6M38.6,383.7L43.2,384.8 47.8,386.0 52.3,387.1 56.9,388.2 61.4,389.2 66.0,390.3 70.6,391.3 75.2,392.4 79.7,393.4 84.3,394.4 88.9,395.4 93.5,396.4 98.1,397.4 102.7,398.4 107.3,399.3 111.9,400.2 116.5,401.2 121.1,402.1 125.7,403.0 130.3,403.9 134.9,404.7 139.5,405.6 144.1,406.5 148.7,407.3 153.3,408.1 158.0,408.9 162.6,409.7 167.2,410.5 171.8,411.3 176.5,412.0 181.1,412.8 185.7,413.5 190.4,414.3 195.0,415.0 199.6,415.7 204.3,416.3 208.9,417.0 213.6,417.7 218.2,418.3 222.9,419.0 227.5,419.6 232.2,420.2 236.8,420.8 241.5,421.4 246.1,421.9 250.8,422.5 255.4,423.0 260.1,423.6 264.8,424.1 269.4,424.6 274.1,425.1 278.8,425.5 283.4,426.0 288.1,426.5 292.8,426.9 297.4,427.3 302.1,427.7 306.8,428.1 311.5,428.5 316.1,428.9 320.8,429.3 325.5,429.6 330.2,430.0 334.9,430.3 339.5,430.6 344.2,430.9 348.9,431.2 353.6,431.5 358.3,431.7 363.0,432.0 367.6,432.2 372.3,432.4 377.0,432.6 381.7,432.8 386.4,433.0 391.1,433.2 395.8,433.3 400.5,433.5 405.1,433.6 409.8,433.7 414.5,433.8 419.2,433.9 423.9,434.0 428.6,434.1 433.3,434.1 438.0,434.2 442.7,434.2 447.4,434.2 452.1,434.2 456.7,434.2 461.4,434.2 466.1,434.1 470.8,434.1 475.5,434.0 480.2,434.0 484.9,433.9 489.6,433.8 494.3,433.7 499.0,433.5 503.7,433.4 508.3,433.2 513.0,433.1 517.7,432.9 522.4,432.7 527.1,432.5 531.8,432.3 536.5,432.1 541.1,431.8 545.8,431.6 550.5,431.3 555.2,431.0 559.9,430.7 564.6,430.4 569.2,430.1 573.9,429.8 578.6,429.4 583.3,429.0 588.0,428.7 592.6,428.3 597.3,427.9 602.0,427.5 606.6,427.1 611.3,426.6 616.0,426.2 620.7,425.7 625.3,425.2 630.0,424.8 634.7,424.3 639.3,423.7 644.0,423.2 648.6,422.7 653.3,422.1 658.0,421.6 662.6,421.0 667.3,420.4 671.9,419.8 676.6,419.2 681.2,418.5 685.9,417.9 690.5,417.3 695.2,416.6 699.8,415.9 704.4,415.2 709.1,414.5 713.7,413.8 718.3,413.1 723.0,412.3 727.6,411.6 732.2,410.8 736.9,410.0 741.5,409.2 746.1,408.4 750.7,407.6 755.3,406.8 760.0,405.9 764.6,405.1 769.2,404.2 773.8,403.3 778.4,402.4 783.0,401.5 787.6,400.6 792.2,399.7 796.8,398.7 801.4,397.7 806.0,396.8 810.6,395.8 815.1,394.8 819.7,393.8 824.3,392.8 828.9,391.7 833.5,390.7 838.0,389.6 842.6,388.5 847.2,387.5 851.7,386.4 856.3,385.3 860.8,384.1 865.4,383.0M66.3,272.8L70.5,273.8 74.8,274.9 79.0,275.9 83.3,276.9 87.5,277.9 91.8,278.9 96.1,279.9 100.3,280.9 104.6,281.8 108.9,282.8 113.1,283.7 117.4,284.6 121.7,285.5 126.0,286.4 130.3,287.3 134.6,288.2 138.9,289.1 143.2,289.9 147.4,290.7 151.7,291.6 156.0,292.4 160.3,293.2 164.7,294.0 169.0,294.8 173.3,295.5 177.6,296.3 181.9,297.0 186.2,297.8 190.5,298.5 194.8,299.2 199.2,299.9 203.5,300.6 207.8,301.3 212.1,301.9 216.5,302.6 220.8,303.2 225.1,303.8 229.5,304.4 233.8,305.0 238.1,305.6 242.5,306.2 246.8,306.8 251.2,307.3 255.5,307.9 259.8,308.4 264.2,308.9 268.5,309.4 272.9,309.9 277.2,310.4 281.6,310.9 285.9,311.3 290.3,311.8 294.6,312.2 299.0,312.7 303.4,313.1 307.7,313.5 312.1,313.8 316.4,314.2 320.8,314.6 325.2,314.9 329.5,315.3 333.9,315.6 338.3,315.9 342.6,316.2 347.0,316.5 351.4,316.8 355.7,317.1 360.1,317.3 364.5,317.6 368.8,317.8 373.2,318.0 377.6,318.2 381.9,318.4 386.3,318.6 390.7,318.8 395.1,318.9 399.4,319.1 403.8,319.2 408.2,319.3 412.6,319.4 416.9,319.5 421.3,319.6 425.7,319.7 430.1,319.8 434.4,319.8 438.8,319.8 443.2,319.9 447.6,319.9 452.0,319.9 456.3,319.9 460.7,319.9 465.1,319.8 469.5,319.8 473.8,319.7 478.2,319.6 482.6,319.6 487.0,319.5 491.3,319.4 495.7,319.2 500.1,319.1 504.5,319.0 508.8,318.8 513.2,318.7 517.6,318.5 522.0,318.3 526.3,318.1 530.7,317.9 535.1,317.6 539.4,317.4 543.8,317.2 548.2,316.9 552.6,316.6 556.9,316.3 561.3,316.0 565.7,315.7 570.0,315.4 574.4,315.1 578.7,314.7 583.1,314.4 587.5,314.0 591.8,313.6 596.2,313.2 600.5,312.8 604.9,312.4 609.3,312.0 613.6,311.5 618.0,311.1 622.3,310.6 626.7,310.1 631.0,309.6 635.4,309.1 639.7,308.6 644.1,308.1 648.4,307.5 652.7,307.0 657.1,306.4 661.4,305.9 665.8,305.3 670.1,304.7 674.4,304.1 678.8,303.4 683.1,302.8 687.4,302.2 691.7,301.5 696.1,300.8 700.4,300.1 704.7,299.5 709.0,298.8 713.4,298.0 717.7,297.3 722.0,296.6 726.3,295.8 730.6,295.0 734.9,294.3 739.2,293.5 743.5,292.7 747.8,291.9 752.1,291.0 756.4,290.2 760.7,289.4 765.0,288.5 769.3,287.6 773.6,286.8 777.9,285.9 782.1,285.0 786.4,284.0 790.7,283.1 795.0,282.2 799.2,281.2 803.5,280.2 807.8,279.3 812.0,278.3 816.3,277.3 820.6,276.3 824.8,275.2 829.1,274.2 833.3,273.2 837.6,272.1M93.9,161.7L97.9,162.6 101.8,163.6 105.8,164.6 109.7,165.5 113.7,166.4 117.6,167.4 121.6,168.3 125.5,169.2 129.5,170.1 133.5,170.9 137.4,171.8 141.4,172.7 145.4,173.5 149.4,174.3 153.3,175.2 157.3,176.0 161.3,176.8 165.3,177.6 169.3,178.3 173.2,179.1 177.2,179.9 181.2,180.6 185.2,181.3 189.2,182.1 193.2,182.8 197.2,183.5 201.2,184.2 205.2,184.9 209.2,185.5 213.2,186.2 217.3,186.8 221.3,187.5 225.3,188.1 229.3,188.7 233.3,189.3 237.3,189.9 241.3,190.5 245.4,191.1 249.4,191.6 253.4,192.2 257.4,192.7 261.5,193.2 265.5,193.7 269.5,194.2 273.6,194.7 277.6,195.2 281.6,195.7 285.7,196.1 289.7,196.6 293.7,197.0 297.8,197.5 301.8,197.9 305.9,198.3 309.9,198.7 314.0,199.1 318.0,199.4 322.0,199.8 326.1,200.1 330.1,200.5 334.2,200.8 338.2,201.1 342.3,201.4 346.3,201.7 350.4,202.0 354.4,202.3 358.5,202.5 362.5,202.8 366.6,203.0 370.7,203.2 374.7,203.4 378.8,203.6 382.8,203.8 386.9,204.0 390.9,204.2 395.0,204.3 399.1,204.5 403.1,204.6 407.2,204.7 411.2,204.9 415.3,205.0 419.4,205.1 423.4,205.1 427.5,205.2 431.5,205.3 435.6,205.3 439.7,205.3 443.7,205.4 447.8,205.4 451.9,205.4 455.9,205.4 460.0,205.4 464.0,205.3 468.1,205.3 472.2,205.2 476.2,205.2 480.3,205.1 484.3,205.0 488.4,204.9 492.5,204.8 496.5,204.7 500.6,204.5 504.6,204.4 508.7,204.2 512.8,204.1 516.8,203.9 520.9,203.7 524.9,203.5 529.0,203.3 533.0,203.1 537.1,202.8 541.2,202.6 545.2,202.3 549.3,202.1 553.3,201.8 557.4,201.5 561.4,201.2 565.5,200.9 569.5,200.6 573.6,200.3 577.6,199.9 581.7,199.6 585.7,199.2 589.7,198.8 593.8,198.4 597.8,198.0 601.9,197.6 605.9,197.2 610.0,196.8 614.0,196.3 618.0,195.9 622.1,195.4 626.1,194.9 630.1,194.4 634.2,193.9 638.2,193.4 642.2,192.9 646.2,192.4 650.3,191.8 654.3,191.3 658.3,190.7 662.3,190.1 666.4,189.5 670.4,188.9 674.4,188.3 678.4,187.7 682.4,187.1 686.4,186.4 690.4,185.8 694.4,185.1 698.4,184.4 702.4,183.7 706.4,183.0 710.4,182.3 714.4,181.6 718.4,180.9 722.4,180.1 726.4,179.4 730.4,178.6 734.4,177.8 738.4,177.1 742.4,176.3 746.4,175.5 750.3,174.6 754.3,173.8 758.3,173.0 762.3,172.1 766.2,171.3 770.2,170.4 774.2,169.5 778.1,168.6 782.1,167.7 786.0,166.8 790.0,165.8 793.9,164.9 797.9,164.0 801.8,163.0 805.8,162.0 809.7,161.0M86.8,631.3L87.9,625.6 89.0,619.8 90.1,614.0 91.2,608.3 92.3,602.5 93.4,596.8 94.5,591.0 95.6,585.3 96.7,579.6 97.8,573.8 98.9,568.1 100.0,562.4 101.0,556.7 102.1,551.0 103.2,545.3 104.3,539.6 105.4,533.9 106.5,528.2 107.6,522.5 108.7,516.8 109.8,511.2 110.8,505.5 111.9,499.8 113.0,494.2 114.1,488.5 115.2,482.8 116.3,477.2 117.3,471.5 118.4,465.9 119.5,460.2 120.6,454.6 121.7,448.9 122.7,443.3 123.8,437.7 124.9,432.0 126.0,426.4 127.0,420.8 128.1,415.1 129.2,409.5 130.3,403.9 131.3,398.2 132.4,392.6 133.5,387.0 134.6,381.4 135.6,375.8 136.7,370.1 137.8,364.5 138.9,358.9 139.9,353.3 141.0,347.7 142.1,342.1 143.2,336.5 144.2,330.9 145.3,325.2 146.4,319.6 147.5,314.0 148.5,308.4 149.6,302.8 150.7,297.2 151.7,291.6 152.8,286.0 153.9,280.3 155.0,274.7 156.0,269.1 157.1,263.5 158.2,257.9 159.3,252.3 160.3,246.7 161.4,241.0 162.5,235.4 163.6,229.8 164.6,224.2 165.7,218.5 166.8,212.9 167.9,207.3 168.9,201.7 170.0,196.0 171.1,190.4 172.2,184.8 173.2,179.1 174.3,173.5 175.4,167.8 176.5,162.2 177.6,156.5 178.7,150.9 179.7,145.2 180.8,139.5 181.9,133.9 183.0,128.2 184.1,122.5 185.2,116.9 186.2,111.2 187.3,105.5 188.4,99.8 189.5,94.1 190.6,88.4 191.7,82.7 192.8,77.0 193.9,71.3 195.0,65.6 196.1,59.8 197.2,54.1 198.2,48.4 199.3,42.6 200.4,36.9 201.5,31.1M191.9,648.4L192.7,642.6 193.5,636.8 194.3,631.0 195.1,625.2 195.9,619.4 196.6,613.6 197.4,607.8 198.2,602.0 199.0,596.2 199.8,590.5 200.5,584.7 201.3,578.9 202.1,573.2 202.9,567.4 203.6,561.6 204.4,555.9 205.2,550.2 206.0,544.4 206.7,538.7 207.5,532.9 208.3,527.2 209.0,521.5 209.8,515.8 210.6,510.1 211.4,504.3 212.1,498.6 212.9,492.9 213.7,487.2 214.4,481.5 215.2,475.8 216.0,470.1 216.7,464.4 217.5,458.7 218.3,453.0 219.0,447.4 219.8,441.7 220.6,436.0 221.3,430.3 222.1,424.6 222.9,419.0 223.6,413.3 224.4,407.6 225.2,401.9 225.9,396.3 226.7,390.6 227.4,384.9 228.2,379.3 229.0,373.6 229.7,367.9 230.5,362.3 231.3,356.6 232.0,350.9 232.8,345.3 233.6,339.6 234.3,333.9 235.1,328.3 235.8,322.6 236.6,317.0 237.4,311.3 238.1,305.6 238.9,300.0 239.7,294.3 240.4,288.7 241.2,283.0 241.9,277.3 242.7,271.7 243.5,266.0 244.2,260.3 245.0,254.6 245.8,249.0 246.5,243.3 247.3,237.6 248.1,232.0 248.8,226.3 249.6,220.6 250.4,214.9 251.1,209.2 251.9,203.5 252.7,197.9 253.4,192.2 254.2,186.5 255.0,180.8 255.7,175.1 256.5,169.4 257.3,163.7 258.0,158.0 258.8,152.2 259.6,146.5 260.3,140.8 261.1,135.1 261.9,129.4 262.7,123.6 263.4,117.9 264.2,112.1 265.0,106.4 265.7,100.7 266.5,94.9 267.3,89.1 268.1,83.4 268.9,77.6 269.6,71.8 270.4,66.0 271.2,60.3 272.0,54.5 272.8,48.7 273.5,42.9M297.9,659.8L298.4,653.9 298.8,648.1 299.3,642.2 299.7,636.4 300.2,630.5 300.7,624.7 301.1,618.9 301.6,613.1 302.0,607.2 302.5,601.4 303.0,595.6 303.4,589.8 303.9,584.0 304.3,578.2 304.8,572.5 305.3,566.7 305.7,560.9 306.2,555.1 306.6,549.3 307.1,543.6 307.5,537.8 308.0,532.1 308.4,526.3 308.9,520.6 309.4,514.8 309.8,509.1 310.3,503.3 310.7,497.6 311.2,491.8 311.6,486.1 312.1,480.4 312.5,474.7 313.0,468.9 313.4,463.2 313.9,457.5 314.3,451.8 314.8,446.1 315.2,440.3 315.7,434.6 316.1,428.9 316.6,423.2 317.0,417.5 317.5,411.8 318.0,406.1 318.4,400.4 318.9,394.7 319.3,389.0 319.8,383.3 320.2,377.6 320.7,371.9 321.1,366.2 321.6,360.5 322.0,354.8 322.5,349.1 322.9,343.4 323.4,337.7 323.8,332.0 324.3,326.3 324.7,320.6 325.2,314.9 325.6,309.2 326.1,303.5 326.5,297.8 327.0,292.1 327.4,286.5 327.9,280.8 328.3,275.1 328.8,269.3 329.2,263.6 329.7,257.9 330.1,252.2 330.6,246.5 331.0,240.8 331.5,235.1 331.9,229.4 332.4,223.7 332.8,218.0 333.3,212.2 333.7,206.5 334.2,200.8 334.6,195.1 335.1,189.3 335.5,183.6 336.0,177.9 336.5,172.1 336.9,166.4 337.4,160.6 337.8,154.9 338.3,149.1 338.7,143.4 339.2,137.6 339.6,131.8 340.1,126.1 340.5,120.3 341.0,114.5 341.5,108.7 341.9,103.0 342.4,97.2 342.8,91.4 343.3,85.6 343.8,79.7 344.2,73.9 344.7,68.1 345.1,62.3 345.6,56.5 346.1,50.6M404.3,665.2L404.4,659.4 404.6,653.5 404.7,647.6 404.9,641.8 405.0,635.9 405.1,630.1 405.3,624.2 405.4,618.4 405.6,612.6 405.7,606.7 405.8,600.9 406.0,595.1 406.1,589.3 406.3,583.5 406.4,577.7 406.5,571.9 406.7,566.1 406.8,560.3 407.0,554.5 407.1,548.7 407.2,542.9 407.4,537.2 407.5,531.4 407.6,525.6 407.8,519.9 407.9,514.1 408.1,508.3 408.2,502.6 408.3,496.8 408.5,491.1 408.6,485.3 408.7,479.6 408.9,473.9 409.0,468.1 409.2,462.4 409.3,456.7 409.4,450.9 409.6,445.2 409.7,439.5 409.8,433.7 410.0,428.0 410.1,422.3 410.2,416.6 410.4,410.8 410.5,405.1 410.7,399.4 410.8,393.7 410.9,388.0 411.1,382.3 411.2,376.5 411.3,370.8 411.5,365.1 411.6,359.4 411.7,353.7 411.9,348.0 412.0,342.3 412.2,336.6 412.3,330.9 412.4,325.1 412.6,319.4 412.7,313.7 412.8,308.0 413.0,302.3 413.1,296.6 413.3,290.9 413.4,285.2 413.5,279.4 413.7,273.7 413.8,268.0 413.9,262.3 414.1,256.6 414.2,250.8 414.3,245.1 414.5,239.4 414.6,233.6 414.8,227.9 414.9,222.2 415.0,216.4 415.2,210.7 415.3,205.0 415.4,199.2 415.6,193.5 415.7,187.7 415.9,182.0 416.0,176.2 416.1,170.5 416.3,164.7 416.4,158.9 416.5,153.2 416.7,147.4 416.8,141.6 417.0,135.8 417.1,130.0 417.2,124.2 417.4,118.5 417.5,112.7 417.6,106.8 417.8,101.0 417.9,95.2 418.1,89.4 418.2,83.6 418.3,77.7 418.5,71.9 418.6,66.1 418.8,60.2 418.9,54.4M510.9,664.9L510.7,659.0 510.5,653.1 510.3,647.3 510.1,641.4 509.9,635.5 509.8,629.7 509.6,623.9 509.4,618.0 509.2,612.2 509.0,606.4 508.9,600.5 508.7,594.7 508.5,588.9 508.3,583.1 508.1,577.3 508.0,571.5 507.8,565.7 507.6,559.9 507.4,554.1 507.2,548.4 507.1,542.6 506.9,536.8 506.7,531.0 506.5,525.3 506.3,519.5 506.2,513.8 506.0,508.0 505.8,502.2 505.6,496.5 505.4,490.7 505.3,485.0 505.1,479.3 504.9,473.5 504.7,467.8 504.5,462.0 504.4,456.3 504.2,450.6 504.0,444.8 503.8,439.1 503.7,433.4 503.5,427.7 503.3,421.9 503.1,416.2 502.9,410.5 502.8,404.8 502.6,399.1 502.4,393.4 502.2,387.6 502.0,381.9 501.9,376.2 501.7,370.5 501.5,364.8 501.3,359.1 501.2,353.4 501.0,347.7 500.8,342.0 500.6,336.2 500.4,330.5 500.3,324.8 500.1,319.1 499.9,313.4 499.7,307.7 499.6,302.0 499.4,296.3 499.2,290.6 499.0,284.8 498.8,279.1 498.7,273.4 498.5,267.7 498.3,262.0 498.1,256.2 498.0,250.5 497.8,244.8 497.6,239.1 497.4,233.3 497.2,227.6 497.1,221.9 496.9,216.1 496.7,210.4 496.5,204.7 496.3,198.9 496.2,193.2 496.0,187.4 495.8,181.7 495.6,175.9 495.5,170.2 495.3,164.4 495.1,158.6 494.9,152.9 494.7,147.1 494.6,141.3 494.4,135.5 494.2,129.8 494.0,124.0 493.8,118.2 493.7,112.4 493.5,106.6 493.3,100.8 493.1,94.9 492.9,89.1 492.7,83.3 492.6,77.5 492.4,71.6 492.2,65.8 492.0,60.0 491.8,54.1M617.2,658.6L616.7,652.8 616.2,646.9 615.7,641.1 615.2,635.2 614.7,629.4 614.2,623.6 613.7,617.7 613.2,611.9 612.7,606.1 612.2,600.3 611.7,594.5 611.2,588.7 610.7,582.9 610.2,577.1 609.7,571.3 609.2,565.6 608.7,559.8 608.2,554.0 607.7,548.3 607.2,542.5 606.7,536.7 606.2,531.0 605.7,525.2 605.2,519.5 604.7,513.7 604.2,508.0 603.7,502.3 603.2,496.5 602.7,490.8 602.2,485.1 601.7,479.3 601.3,473.6 600.8,467.9 600.3,462.2 599.8,456.4 599.3,450.7 598.8,445.0 598.3,439.3 597.8,433.6 597.3,427.9 596.8,422.2 596.3,416.5 595.8,410.8 595.3,405.1 594.8,399.4 594.4,393.7 593.9,388.0 593.4,382.3 592.9,376.6 592.4,370.9 591.9,365.2 591.4,359.5 590.9,353.8 590.4,348.1 589.9,342.4 589.4,336.8 588.9,331.1 588.4,325.4 588.0,319.7 587.5,314.0 587.0,308.3 586.5,302.6 586.0,296.9 585.5,291.2 585.0,285.5 584.5,279.8 584.0,274.1 583.5,268.4 583.0,262.7 582.5,257.0 582.1,251.3 581.6,245.6 581.1,239.9 580.6,234.2 580.1,228.5 579.6,222.8 579.1,217.1 578.6,211.4 578.1,205.6 577.6,199.9 577.1,194.2 576.6,188.5 576.1,182.7 575.6,177.0 575.1,171.3 574.6,165.5 574.1,159.8 573.7,154.0 573.2,148.3 572.7,142.5 572.2,136.8 571.7,131.0 571.2,125.2 570.7,119.5 570.2,113.7 569.7,107.9 569.2,102.1 568.7,96.3 568.2,90.5 567.7,84.7 567.2,78.9 566.7,73.1 566.2,67.3 565.7,61.5 565.2,55.7 564.7,49.8M723.1,646.5L722.3,640.7 721.4,634.9 720.6,629.1 719.8,623.3 719.0,617.5 718.1,611.7 717.3,605.9 716.5,600.1 715.7,594.4 714.9,588.6 714.0,582.8 713.2,577.1 712.4,571.3 711.6,565.6 710.8,559.8 710.0,554.1 709.1,548.3 708.3,542.6 707.5,536.9 706.7,531.1 705.9,525.4 705.1,519.7 704.3,514.0 703.4,508.3 702.6,502.6 701.8,496.9 701.0,491.1 700.2,485.4 699.4,479.8 698.6,474.1 697.8,468.4 697.0,462.7 696.2,457.0 695.4,451.3 694.5,445.6 693.7,440.0 692.9,434.3 692.1,428.6 691.3,422.9 690.5,417.3 689.7,411.6 688.9,405.9 688.1,400.3 687.3,394.6 686.5,388.9 685.7,383.3 684.9,377.6 684.1,371.9 683.3,366.3 682.5,360.6 681.7,355.0 680.9,349.3 680.1,343.7 679.2,338.0 678.4,332.3 677.6,326.7 676.8,321.0 676.0,315.4 675.2,309.7 674.4,304.1 673.6,298.4 672.8,292.7 672.0,287.1 671.2,281.4 670.4,275.8 669.6,270.1 668.8,264.4 668.0,258.8 667.2,253.1 666.4,247.5 665.6,241.8 664.8,236.1 664.0,230.4 663.2,224.8 662.4,219.1 661.5,213.4 660.7,207.7 659.9,202.1 659.1,196.4 658.3,190.7 657.5,185.0 656.7,179.3 655.9,173.6 655.1,167.9 654.3,162.2 653.5,156.5 652.6,150.8 651.8,145.1 651.0,139.4 650.2,133.7 649.4,127.9 648.6,122.2 647.8,116.5 647.0,110.8 646.1,105.0 645.3,99.3 644.5,93.5 643.7,87.8 642.9,82.0 642.1,76.3 641.2,70.5 640.4,64.7 639.6,58.9 638.8,53.1 637.9,47.3 637.1,41.6" fill="none" stroke="#B8B8B8" stroke-width="0.6"/>
<path d="M304.4,156.9L307.3,155.3 310.3,153.6 313.3,151.0 316.3,148.4 320.1,145.8 323.8,143.3 328.0,140.7 332.1,138.2 335.8,136.5 339.4,134.8 342.2,134.0 345.0,133.2 348.1,132.5 350.9,126.9 352.6,123.5 355.0,122.5 357.4,121.5 359.8,120.3 362.2,119.1 365.4,116.0 368.7,112.9 372.4,115.5 375.8,115.9 379.2,116.3 383.0,117.4 386.7,118.5 389.6,118.5 392.4,118.5 395.2,118.4 397.3,122.5 399.5,125.4 401.7,128.4 403.9,132.0 406.1,135.5 410.0,136.2 413.8,136.9 416.2,137.0 418.5,137.0 417.6,142.8 419.4,146.3 421.3,149.8 421.6,153.3 422.0,156.7 423.4,162.5 423.3,167.2 425.7,170.2 422.5,171.7 420.1,170.5 417.7,169.3 416.9,164.2 414.2,164.8 411.5,165.3 408.3,165.6 405.2,166.0 402.0,166.4 398.8,167.5 395.6,168.7 392.7,169.7 389.9,170.7 387.2,170.3 384.4,169.8 381.4,168.9 378.4,167.9 376.4,165.5 374.4,163.1 371.7,161.8 369.0,160.5 366.8,158.0 368.5,155.8 371.0,153.7 373.5,151.5 372.9,146.8 369.9,146.0 367.0,148.4 364.1,150.9 359.9,154.1 357.5,155.7 355.0,157.3 351.8,158.2 348.6,159.2 345.3,160.1 342.1,161.0 338.8,161.9 335.6,162.8 332.7,163.7 329.9,164.7 326.8,163.8 323.7,163.0 325.6,158.5 324.4,154.9 321.5,156.2 318.6,157.4 314.9,158.5 311.3,159.5 308.5,159.2 305.8,158.9 304.4,156.9M351.7,136.2L355.4,133.6 359.1,130.9 361.5,129.9 363.9,128.9 360.6,131.6 357.3,134.3 354.5,135.3 351.7,136.2M369.0,274.8L370.5,279.0 372.7,280.0 375.0,281.0 377.6,280.2 380.2,279.4 383.3,277.8 386.3,276.3 388.6,270.6 390.7,266.7 392.8,262.8 393.4,259.4 393.9,255.9 393.6,251.9 393.4,247.9 391.8,243.8 390.3,239.8 390.1,235.7 389.8,231.7 390.4,228.3 390.9,224.9 392.7,221.5 394.5,218.1 395.0,214.7 395.6,211.3 399.0,206.8 401.5,204.6 404.0,202.4 405.7,200.1 406.3,205.9 405.4,209.3 408.7,207.1 409.2,203.7 409.7,200.2 413.9,195.7 415.6,192.3 416.0,187.7 419.7,187.1 419.8,185.5 417.0,184.9 414.2,184.2 411.4,183.0 408.7,181.8 405.0,182.2 401.4,182.7 398.2,183.2 395.0,183.6 392.6,184.1 390.1,184.6 386.2,182.1 382.9,185.9 381.9,190.0 378.4,195.6 375.8,198.3 373.2,201.1 369.7,206.6 367.8,210.0 366.0,213.3 370.3,210.1 374.7,204.6 378.1,200.2 381.0,198.6 384.0,197.0 380.4,202.6 377.8,207.0 376.4,210.4 375.0,213.8 374.0,217.8 373.0,221.7 371.3,225.7 369.7,229.6 368.8,234.2 367.9,238.7 367.0,243.2 366.1,247.8 366.5,251.8 367.0,255.8 366.6,259.8 366.2,263.8 367.3,267.3 368.4,270.8 369.0,274.8M419.7,187.1L422.1,188.7 424.5,190.2 428.1,192.6 431.7,194.9 435.3,196.1 438.9,197.3 440.5,200.8 442.1,204.2 442.5,207.7 442.9,211.1 442.6,215.1 442.4,219.1 439.5,223.7 435.4,229.4 434.1,233.2 432.8,237.0 436.6,234.9 440.3,232.9 444.0,230.0 447.8,227.2 450.9,229.5 454.0,231.8 454.6,236.4 455.2,240.9 456.3,246.1 457.4,251.2 460.4,250.8 463.4,250.4 466.4,250.0 467.1,246.0 467.8,242.0 468.5,236.3 469.2,230.6 471.3,224.9 473.4,219.3 474.8,213.6 472.7,210.8 470.6,208.0 469.2,204.1 467.8,200.2 471.5,203.3 475.3,206.4 479.0,209.4 481.9,212.2 484.7,215.0 487.5,215.7 490.4,216.5 493.2,217.2 496.0,213.6 498.8,210.0 496.5,205.6 494.1,201.1 491.8,196.7 489.0,192.5 486.1,188.2 483.3,184.0 479.9,183.5 476.5,182.9 473.2,182.3 469.8,181.8 466.4,181.2 462.9,180.7 459.4,180.1 455.9,179.6 452.5,179.1 449.0,178.5 445.7,177.9 442.4,177.3 439.1,176.7 435.8,176.1 432.5,175.5 430.3,174.7 428.2,174.0 425.7,170.2M425.7,170.2L426.8,173.3 427.9,176.5 430.3,179.4 432.6,182.3 428.6,183.4 426.2,183.7 423.8,184.0 419.8,185.5M466.4,181.2L467.3,185.5 468.3,189.7 469.2,194.0 465.3,192.6 461.4,191.1 457.5,189.7 453.6,188.2 449.9,187.2 446.3,186.3 442.6,185.3 439.0,184.3 435.3,183.3 431.7,184.7 428.0,186.0M457.4,251.2L456.4,257.0 454.4,260.4 451.9,263.3 449.4,266.1 446.0,267.3 445.1,273.0 440.8,276.4 440.0,281.0M457.8,251.2L456.9,255.8 456.1,260.4 457.0,266.1 453.2,266.7 449.4,267.3 446.0,271.9M440.0,281.0L442.9,282.1 445.9,283.3 450.2,285.6 454.5,286.7 457.9,287.3 461.4,287.8 465.6,286.7 469.9,285.5 473.3,283.1 476.7,280.8 480.9,278.4 485.1,276.1 488.5,274.3 491.8,272.5 494.8,271.2 497.7,270.0 501.5,267.6 505.2,265.2 508.5,262.8 511.8,260.3 514.9,255.6 516.5,252.6 513.6,252.7 510.6,252.8 507.7,253.9 504.8,254.9 501.5,257.3 498.2,259.7 494.9,260.1 491.5,260.6 487.3,259.8 483.1,258.9 479.7,259.3 476.3,259.7 473.0,262.3 469.7,264.9 466.3,268.4 462.5,270.7 458.7,273.0 456.2,275.3 453.6,274.2 451.1,273.0 448.5,273.0 446.0,273.0M516.5,252.6L513.8,247.7 513.6,244.2M513.6,244.2L510.7,244.7 507.8,245.1 504.4,244.6 501.1,244.0 503.4,238.9 505.8,237.1 508.3,235.3 511.1,233.4 513.9,231.6 518.0,230.3 522.1,228.9 525.3,228.0 528.6,227.0 531.9,226.5 535.2,226.0 538.6,227.5 542.0,229.0 544.8,227.7 547.6,226.4 549.0,222.8 551.8,221.2 554.6,219.7 558.0,221.0 560.8,225.4 560.6,229.5 560.5,233.5 558.2,235.4 555.8,237.3 552.5,238.7 549.3,240.0 546.0,241.4 541.9,242.0 537.8,242.6 533.5,241.9 529.3,241.2 526.0,241.4 522.7,241.5 519.4,241.7 516.5,243.0 513.6,244.2M558.0,221.0L561.4,217.3 564.8,213.6 567.9,210.5 570.9,207.4 574.5,204.8 578.1,202.2 581.7,199.6M632.1,151.0L634.6,148.6 637.0,146.1 640.1,141.2 643.2,136.2 645.1,131.3 647.0,126.4 648.2,122.1 649.4,117.7 651.0,112.0 654.0,112.0 657.0,112.0 660.0,112.0 658.0,117.7 656.2,119.6 654.4,121.4 651.9,127.0 649.4,132.5 646.5,136.2 643.7,139.9 640.8,143.6 637.7,147.3 634.6,151.0 632.1,151.0M606.9,230.5L606.7,226.5 606.4,222.5 606.6,217.9 606.8,213.3 606.0,209.9 605.3,206.5 605.9,201.2 606.6,196.0 607.0,201.1 607.4,206.3 607.9,209.7 608.4,213.1 607.8,217.8 607.3,222.4 607.1,226.5 606.9,230.5M706.3,181.9L706.4,187.7 704.0,190.5 701.6,193.2 698.6,194.9 695.5,196.6 692.5,198.2 689.4,199.9 686.7,203.8 683.1,202.1 679.5,200.3 678.0,204.0 676.5,207.7 674.3,209.8 672.2,211.9 668.8,214.7 665.5,217.5 662.4,219.7 659.4,221.8 657.6,226.7 654.0,231.8 652.2,236.7 651.9,241.4 655.2,246.7 652.9,248.7 650.6,250.8 651.1,254.2 655.9,258.1 658.0,261.3 660.3,265.6 663.7,265.2 667.1,264.7 669.3,262.1 667.0,257.8 664.4,257.4 667.3,260.0 668.8,263.0 670.2,265.9 667.7,269.2 663.5,269.8 659.3,270.4 655.6,268.6 653.2,270.0 650.8,271.5 648.5,274.1 646.3,269.8 645.1,274.5 643.7,277.0 641.2,277.9 638.7,278.8 634.9,279.2 631.1,279.7 627.7,280.5 624.3,281.2 620.9,282.0 618.5,283.4 616.1,284.8 612.8,286.9 609.6,288.9 606.5,292.7 603.3,296.5 602.0,300.0 603.9,302.1 603.8,305.6 603.7,309.1 603.7,313.6 603.7,318.2 601.1,323.1 598.4,327.9 596.1,331.6 593.8,335.2 591.3,338.2 590.9,333.2 588.1,331.7 585.3,330.2 582.0,328.2 578.8,326.2 579.3,321.5 580.0,324.9 580.7,328.3 581.4,331.7 582.2,335.1 585.1,338.3 588.1,341.5 588.4,344.3 588.7,347.2 587.8,350.9 587.0,354.6 585.3,358.7 583.7,362.8 581.7,366.9 579.6,371.0 577.6,376.0 575.5,381.0 573.8,377.7 574.6,373.5 575.5,369.4 577.1,363.7 574.7,359.5 573.0,354.6 570.9,350.5 568.9,346.4 568.9,341.4 568.9,336.5 570.6,331.5 572.2,326.6 571.0,322.0 569.7,325.8 567.3,329.1 564.8,332.4 563.2,336.5 561.5,340.6 559.5,343.9 557.4,347.2 554.9,349.2 552.4,351.3 554.0,355.4 556.9,358.3 559.8,361.2 562.3,365.3 564.8,369.4 566.4,373.5 568.0,377.7 568.8,380.9 569.7,384.2 572.7,385.1 575.7,386.0 577.0,389.9 578.3,393.8 580.2,397.7 582.1,401.6 584.5,407.1 587.0,412.7 587.0,418.2 587.0,423.7 583.6,425.3 580.3,427.0 577.6,428.9 574.9,430.8 572.1,435.0 569.3,439.3 565.8,438.4 562.2,437.5 558.5,438.8 554.8,440.2 550.8,444.5 546.8,448.7 545.0,453.4 543.1,458.1 539.7,457.9 536.4,457.7 533.0,457.5 529.5,459.9 525.9,462.4 523.5,466.5 521.1,470.6 518.4,474.8 515.7,478.9 511.9,481.9 508.2,484.9 503.4,487.9 498.7,490.9 495.3,494.5 492.0,498.0 489.2,502.7 486.9,507.3 484.5,512.0 482.6,516.6 480.7,521.3 479.3,526.5 477.9,531.7 478.5,536.3 479.1,540.9 480.2,546.1 481.2,551.3 483.0,555.9 484.8,560.5 486.5,565.1 489.2,570.8 491.8,576.6 494.5,580.6 497.1,584.6 497.8,589.8 498.4,595.0M604.4,298.6L608.3,298.3 612.2,297.9 616.1,296.3 620.0,294.7 623.9,293.2 627.2,291.3 630.4,289.4 633.7,287.4 636.5,285.7 639.2,284.0 635.3,283.6 631.5,283.1 629.1,285.3 626.8,287.6 623.4,288.2 619.9,288.8 616.5,289.4 612.4,291.0 608.2,292.5 604.4,298.6M576.9,395.1L576.8,399.7 576.7,404.3 572.3,406.9 567.8,409.5 569.9,412.8 572.0,416.1 570.4,419.7 568.8,423.2 569.9,426.6 571.1,430.0 568.4,431.3 565.7,432.6 566.0,437.2M174.2,565.7L178.7,563.9 183.1,562.1 187.6,560.2 192.0,558.4 195.8,555.9 199.5,553.3 203.3,550.8 208.0,548.0 212.7,545.2 217.1,544.3 221.5,543.3 225.9,542.4 230.9,541.8 236.0,541.1 241.0,540.5 244.8,541.0 248.5,541.4 252.2,543.8 256.0,546.1 259.7,546.6 263.5,547.1 266.3,548.5 269.2,549.9 272.0,551.8 274.8,553.6 277.6,556.0 280.5,558.4 283.3,559.8 286.1,561.2 289.8,560.7 293.6,560.2 296.5,559.3 299.3,558.4 302.2,557.4 305.0,556.5 307.8,558.3 310.6,560.2 313.4,562.6 316.2,565.0 320.0,565.0 323.8,565.0 325.6,560.7 327.5,556.5 325.6,552.7 323.8,549.0 320.0,544.2 316.2,540.5 320.0,540.5 323.8,540.5 327.6,539.0 331.3,537.6 334.4,537.6 337.6,537.6 341.1,537.3 344.6,536.9 346.3,533.5 348.0,530.2 348.2,535.4 348.4,540.6 352.4,540.5 356.4,540.3 360.9,539.7 365.4,539.2 369.4,539.0 373.4,538.7 377.4,538.5 382.3,540.4 387.3,542.4 392.1,546.0 395.1,548.4 398.0,550.8 399.9,555.9 403.9,555.8 407.9,555.7 411.6,554.2 415.4,552.8 419.1,551.3 422.1,549.6 425.1,547.9 429.6,549.7 434.1,551.5 436.6,555.6 439.1,559.6 442.6,564.3 446.1,568.9 449.6,574.1 453.2,579.4 452.7,585.2 452.2,591.0M299.2,541.8L300.5,538.4 301.8,535.0 305.7,535.9 309.6,536.8 312.3,540.5 309.2,541.8 306.1,543.0 302.7,542.4 299.2,541.8M282.8,112.2L286.5,113.2 290.2,114.2 293.7,115.8 297.1,117.3 300.5,118.9 304.2,120.4 308.0,122.0 310.9,123.8 313.8,125.7 316.7,127.5 320.1,127.1 323.5,126.6 326.9,126.1 330.7,127.6 334.4,129.1 338.2,130.2 342.0,131.3 345.8,132.3M581.6,199.3L585.4,199.0 589.2,198.6 593.0,198.3 596.7,197.9 600.5,197.5 604.3,197.1 607.7,196.8 611.1,196.4 614.6,196.0 618.0,195.6 622.0,195.2 626.1,194.7 630.1,194.2 634.1,193.7 633.4,188.0 636.7,186.4 639.9,184.8 643.2,183.2 644.8,177.6 646.3,172.1 647.9,166.6 649.4,161.0 651.7,155.6 653.9,150.1 656.1,144.7 658.3,139.3 660.5,133.8 664.2,136.2 667.5,135.0 670.7,133.7 674.0,132.5 677.3,134.6 680.7,136.6 684.0,138.7 684.8,143.9 685.7,149.0 686.5,154.2 687.3,159.3 688.2,164.5 689.0,169.6 691.4,170.2 693.9,170.8 697.6,175.8 701.3,180.7 706.0,185.0M664.2,136.2L666.7,131.3 669.2,126.3 671.6,121.4 674.1,119.0 677.8,118.5 681.5,118.0 685.2,117.5 688.9,117.0 692.6,116.5 695.7,115.9 698.8,115.3 701.9,114.6 705.0,114.0M500.5,100.5L500.7,106.3 501.0,112.1 501.2,117.9 501.4,123.7 501.6,129.5 501.8,135.3 502.0,141.1 502.2,146.8 504.1,151.4 506.0,155.9 508.6,160.5 511.1,165.0 514.4,167.1 517.7,169.3 520.9,171.5 524.2,173.6 527.5,175.2 530.8,176.7 534.1,178.3 537.4,179.8 541.0,181.9 544.6,184.0 548.2,186.0 551.3,187.7 554.3,189.4 557.4,191.1 561.5,191.2 565.5,191.2 569.2,189.9 572.9,188.6 576.5,187.3 579.8,187.6 583.0,187.9 587.5,192.1 584.6,195.7 581.6,199.3M114.7,144.5L118.6,145.4 122.4,146.3 126.3,147.2 130.2,148.0 134.0,148.9 137.9,149.8 141.8,150.6 145.7,151.5 149.6,152.3 153.4,153.1 157.3,153.9 161.2,154.7 165.1,155.5 169.0,156.3 172.9,157.0 176.8,157.8 180.7,158.5 184.6,159.3 188.5,160.0 192.4,160.7 196.3,161.4 200.2,162.1 204.2,162.7 208.1,163.4 212.0,164.1 215.9,164.7 219.8,165.4 223.7,166.0 227.7,166.6 231.6,167.2M232.1,95.7L231.8,101.5 231.5,107.3 231.0,113.1 230.5,118.9 231.5,124.9 232.5,130.9 231.9,136.7 231.2,142.4 231.1,148.2 231.0,154.1 231.6,157.6 232.2,161.2 231.9,164.2 231.6,167.2 229.1,170.8 226.6,174.3 228.9,178.2 231.1,182.0 230.4,187.1 229.6,192.2 228.8,197.4 228.0,202.5 227.3,207.6 226.5,212.7 225.7,217.8 225.0,222.9M225.0,222.9L224.0,226.2 223.1,229.5 222.2,235.2 219.4,240.6 221.5,245.7M99.1,210.1L103.2,211.1 107.3,212.1 111.4,213.0 115.4,213.9 119.5,214.8 123.6,215.7 127.7,216.6 131.8,217.5 135.9,218.4 140.0,219.2 144.1,220.1 148.2,220.9 152.3,221.8 156.4,222.6 160.5,223.4 164.6,224.2 168.7,225.0 172.9,225.7 177.0,226.5 181.1,227.2 185.2,228.0 189.4,228.7 192.4,231.0 195.4,233.2 199.4,234.5 203.5,235.7 206.9,235.7 210.3,235.7 213.0,237.6 215.6,239.5 218.6,242.6 221.5,245.7M221.5,245.7L222.5,250.4 223.5,255.1 224.1,259.8 224.7,264.5 225.6,270.4 226.5,276.3 226.4,279.8 226.3,283.2 226.5,286.9 226.7,290.7M117.4,284.6L121.7,285.5 125.9,286.4 130.2,287.3 134.4,288.2 138.7,289.0 143.0,289.9 147.2,290.7 151.5,291.5 155.8,292.3 160.0,293.1 164.3,293.9 168.6,294.7 172.9,295.5 177.1,296.2 181.4,297.0 185.7,297.7 190.0,298.4 194.3,299.1 198.6,299.8 202.8,300.5 207.1,301.2 211.4,301.8 215.7,302.5 220.0,303.1 224.3,303.7 228.6,304.3 232.9,304.9M226.7,290.7L228.1,294.1 229.5,297.5 231.2,301.2 232.9,304.9M232.9,304.9L235.1,308.7 237.2,312.4 237.2,315.9 237.2,319.3 239.8,323.2 242.4,327.0 241.7,332.2 241.0,337.5 240.2,342.8 239.5,348.1 238.8,353.4 238.0,358.6 237.3,363.9 236.6,369.2 235.9,374.5M103.1,351.7L107.5,352.6 111.9,353.5 116.3,354.4 120.7,355.3 125.1,356.2 129.5,357.1 133.9,358.0 138.3,358.8 142.7,359.6 147.1,360.5 151.5,361.3 156.0,362.1 160.4,362.9 164.8,363.7 169.2,364.4 173.7,365.2 178.1,365.9 182.5,366.7 187.0,367.4 191.4,368.1 195.8,368.8 200.3,369.5 204.7,370.1 209.2,370.8 213.6,371.4 218.0,372.1 222.5,372.7 226.9,373.3 231.4,373.9 235.9,374.5M235.9,374.5L235.1,380.2 234.4,385.8 234.4,390.9 234.5,396.0 234.5,401.1 234.6,406.2 234.6,411.3 233.9,416.2 233.1,421.2 232.4,426.2 231.6,431.2 230.8,436.2 230.1,441.2 229.3,446.2 228.6,451.2M228.6,451.2L224.9,449.2 221.2,447.2 217.5,445.2 213.8,443.2 209.0,443.1 204.2,443.0 199.4,443.4 194.5,443.9 191.7,442.9 189.0,441.9 185.3,440.5 181.7,439.2 178.0,437.8 174.0,438.9 170.0,440.0 167.0,437.8 164.0,435.5 160.0,430.2 156.4,429.0 152.7,427.8 149.2,426.0 145.7,424.2 142.2,422.4 137.7,420.2 133.3,418.0 130.9,415.9 128.4,413.8M236.6,454.3L232.6,452.7 228.6,451.2M236.6,454.3L236.1,458.3 235.6,462.3 235.1,466.3 234.6,471.0 234.0,475.7 233.4,480.4 232.8,485.1 232.2,489.8 234.0,494.6 235.8,499.3 237.2,504.1 238.6,509.0 238.5,513.6 238.5,518.2 236.3,522.6 234.0,527.0 233.8,531.0 233.5,535.1 231.5,538.9 229.5,542.8M235.1,466.3L239.7,466.9 244.3,467.4 248.9,468.0 253.4,468.5 258.0,469.0 262.6,469.5 267.2,470.0 271.8,470.5 276.3,471.0 280.9,471.4 285.5,471.8 290.1,472.3M225.0,222.9L229.1,223.5 233.1,224.1 237.2,224.7 241.3,225.3 245.4,225.8 249.6,226.4 253.7,226.9 257.8,227.5 261.9,228.0 266.0,228.5 270.1,229.0 274.2,229.5 278.3,230.0 282.4,230.4 286.5,230.9 290.7,231.3 294.8,231.8 298.9,232.2 303.0,232.6 307.1,233.0 311.3,233.4M226.7,290.7L230.7,291.2 234.8,291.8 238.9,292.4 243.0,292.9 247.1,293.5 251.2,294.0 255.3,294.5 259.4,295.0 263.5,295.5 267.6,296.0 271.7,296.5 275.8,296.9 279.9,297.4 284.0,297.8 288.1,298.2 292.2,298.7 296.3,299.1 298.8,301.4 301.3,303.7M311.3,233.4L311.1,229.3 311.0,225.3 307.8,222.1 304.7,218.9 302.1,215.8 299.5,212.6 297.3,210.1 295.1,207.6 291.7,204.9 288.3,202.2 289.1,198.3 290.0,194.3 290.7,190.9 291.5,187.5 290.4,184.0 289.4,180.4 292.7,178.4 296.0,176.5 299.4,174.5 299.9,169.5 300.5,164.6 301.1,159.6 304.2,158.8M311.3,233.4L311.4,238.0 311.6,242.6 312.5,246.7 313.4,250.8 316.1,253.9 318.9,257.1M318.9,257.1L322.9,257.4 326.9,257.7 330.8,258.0 334.8,258.3 338.8,258.6 342.8,258.9 346.8,259.2 350.8,259.5 354.8,259.7 358.7,260.0 362.7,260.2 366.7,260.4M330.4,164.2L332.3,167.5 334.2,170.8 337.0,172.5 339.7,174.3 342.5,176.1 346.6,176.0 350.6,175.9 354.4,178.3 358.3,180.6 362.1,182.6 366.0,184.5 369.8,189.4 371.1,195.2 373.2,201.1M318.9,257.1L321.1,260.7 323.2,264.3 324.1,269.0 325.0,273.6 322.2,276.8 319.3,280.1 314.9,281.4 310.5,282.7 310.1,286.7 309.8,290.7 308.5,295.2 307.2,299.6 304.2,301.7 301.3,303.7 300.1,308.2 299.0,312.7 300.0,316.2 301.0,319.7 303.7,323.4 306.5,327.1 308.8,330.8 311.2,334.4 315.4,337.1 319.6,339.7 319.4,343.1 319.1,346.5 317.4,351.0 315.7,355.4 319.0,359.1 322.3,362.8 326.0,367.1 329.8,371.4 329.9,375.5 330.1,379.5 332.7,382.0 335.2,384.4 334.9,389.0 331.5,392.2 328.0,395.4 326.8,399.9 325.1,403.2 323.5,406.5 321.3,410.4 319.2,414.2 317.5,418.1 315.8,422.0 313.2,425.2 310.5,428.5 307.9,431.7 305.3,434.9 304.5,438.3 303.8,441.7 299.6,445.9 295.4,450.2 293.6,454.6 291.7,459.0 291.9,462.5 292.0,466.0 291.1,469.1 290.1,472.3 290.8,477.2 291.5,482.1 292.5,485.6 293.4,489.2 290.9,492.4 288.3,495.7 284.5,499.9 280.7,504.2 279.4,507.5 278.0,510.9 277.4,514.3 276.8,517.7M370.6,277.6L370.3,283.1 370.0,288.6 369.7,294.1 369.4,299.6 369.1,305.1 368.7,310.6 368.4,316.1 368.1,321.6 367.8,327.1 367.5,332.6 365.1,338.2 366.3,341.7 367.4,345.2 365.9,348.5 364.4,351.9 361.6,354.6 358.7,357.3 358.4,363.0 356.7,367.9M335.2,384.4L338.6,383.9 342.0,383.4 345.4,382.8 350.2,378.5 355.0,375.4 355.8,371.7 356.7,367.9 359.7,366.7 362.8,365.5 365.5,365.1 368.2,364.7 370.8,366.5 373.5,368.4 376.7,366.8 379.9,365.2 383.9,366.5 387.9,367.8 391.2,365.1 394.5,362.3 398.2,359.0 400.9,356.3 403.7,353.5 408.3,347.9 411.5,347.4 414.6,346.9 415.1,343.5 415.6,340.1 418.7,340.1 421.8,340.2 425.3,343.7 428.8,347.2 432.4,348.9 435.9,350.7 439.0,351.3 442.2,351.9 444.8,350.2 447.5,348.4 451.1,354.2 454.7,356.0 458.2,352.2 461.8,348.4 463.5,343.8 466.6,340.9 469.7,338.1 474.1,334.6 477.6,332.8 481.1,331.0 485.3,325.2 486.3,321.5 487.3,317.9 488.3,314.6 489.4,311.4 490.0,308.1 490.6,304.7M370.6,277.6L374.8,277.8 379.0,278.0 383.2,278.2 387.4,278.4 391.6,278.5 395.9,278.7 400.1,278.8 404.3,279.0 408.5,279.1 412.7,279.2 416.9,279.3 420.8,279.5 424.6,279.7 428.5,279.8 432.3,280.0 436.1,280.2 440.0,280.3M416.9,280.0L416.8,285.4 416.6,290.9 416.5,296.4 416.3,301.8 416.2,307.3 416.0,312.8 415.9,318.2 415.7,323.7 415.6,329.1 415.4,334.6 415.3,340.1M490.6,304.7L490.5,299.6 490.4,294.5 490.2,289.4 490.1,284.3 490.0,279.2 489.8,274.1M502.7,273.3L502.6,270.2 502.5,267.1M454.7,356.0L454.7,359.6 454.7,363.3 457.4,367.3 460.1,371.3 462.9,374.1 465.6,377.0 466.2,382.2M466.2,382.2L462.4,384.3 458.6,386.4 454.8,388.4 450.2,390.7 445.6,393.0 442.1,394.5 438.5,396.0 434.9,397.5M434.9,397.5L430.9,397.4 426.9,397.3 422.8,397.1 418.8,397.0 414.8,396.8 410.7,396.7 406.1,396.5 401.5,396.4 397.0,396.3 392.4,396.1 387.8,396.0 383.2,395.8 379.5,395.7 375.9,395.7 372.2,395.6 368.5,395.6 363.9,396.1 359.3,396.6 354.6,397.1 350.2,396.9 345.8,396.6 341.3,396.3 336.9,396.0 332.5,395.7 328.0,395.4M328.0,395.4L327.2,394.2M234.4,385.8L238.9,386.4 243.4,387.0 248.0,387.6 252.5,388.1 257.0,388.6 261.6,389.2 266.1,389.7 270.6,390.2 275.2,390.7 279.7,391.1 284.3,391.6 288.8,392.0 293.4,392.5 297.9,392.9 302.5,393.3 307.0,393.7 311.6,394.1 316.1,394.5 314.5,397.8 312.8,401.1 311.1,405.5 315.2,405.9 319.4,406.2 323.5,406.5M310.5,428.5L314.9,428.8 319.3,429.2 323.6,429.5 328.0,429.8 332.4,430.1 336.7,430.4 341.1,430.7 345.5,431.0 349.8,431.2 354.3,431.5 358.7,431.7 363.1,432.0 367.6,432.2 372.0,432.4 376.4,432.6 380.9,432.8 385.3,433.0 389.7,433.1 394.1,433.3 398.6,433.4 402.6,433.5 406.6,433.7 410.6,433.8 414.6,433.8 418.6,433.9 422.6,434.0M349.8,431.2L350.4,437.0 351.1,442.8 350.1,448.1 349.2,453.4 348.2,458.7 347.3,463.6 346.4,468.6 345.4,473.5 344.5,478.4 343.5,483.4 342.6,488.3 342.1,494.0 341.6,499.7 341.0,505.5 340.5,511.2 340.0,517.0 339.5,522.7 339.5,527.3 339.6,532.0 339.6,536.6M276.8,517.7L281.5,518.2 286.1,518.6 290.8,519.0 295.5,519.4 300.2,519.8 304.9,520.2 309.5,520.6 314.2,521.0 313.7,525.6 313.1,530.1 314.8,534.9 316.4,539.7M398.6,433.4L399.1,439.2 399.6,444.9 400.2,450.7 400.7,456.4 401.6,461.7 402.5,467.0 403.4,472.3 404.3,477.7 405.2,483.0 407.0,488.2 408.8,493.4 407.5,499.1 406.2,504.8 406.6,509.5 406.9,514.1 407.3,519.9 407.6,525.6M407.6,525.6L403.0,525.5 398.3,525.4 393.6,525.2 389.0,525.1 384.3,524.9 379.6,524.7 374.9,524.6 370.3,524.4 365.6,524.1 360.9,523.9 356.3,523.7 358.0,528.4 359.7,533.1 358.6,536.7 357.4,540.4M407.6,525.6L408.9,529.1 410.3,532.6 414.4,533.1 418.6,533.6 422.7,534.0 426.9,534.5 431.1,534.9 435.2,535.3 439.9,535.2 444.5,535.0 449.2,534.8 453.8,534.6 458.4,534.4 463.1,534.2 464.6,537.6 466.1,541.1 469.1,537.6 472.0,534.7 475.0,531.8 477.9,531.7M472.2,397.5L470.9,400.9 469.5,404.4 466.8,406.7 464.1,409.0 459.4,410.7 454.8,412.5 451.1,414.4 447.4,416.3 443.7,418.2 439.0,419.9 434.3,421.5 431.1,424.4 427.8,427.2 425.2,430.6 422.6,434.0M422.6,434.0L427.2,434.1 431.8,434.1 436.3,434.2 440.9,434.2 445.5,434.2 443.6,437.6 441.7,441.1 445.5,444.5 449.2,448.0 452.1,452.6 454.9,457.1 458.8,461.7 462.6,466.3 465.5,469.7 468.4,473.1 472.3,477.7 476.2,482.2 478.2,486.8 480.2,491.3 484.2,496.5 488.2,501.5M445.5,434.2L449.9,432.7 454.2,431.2 458.6,429.6 462.3,429.6 466.1,429.6 469.8,429.5 474.5,429.9 479.2,430.2 483.9,430.5 485.8,433.9 488.7,438.4 492.9,438.3 497.0,438.2 501.2,438.1 505.3,437.9 509.4,437.8 514.3,442.2 519.2,446.6 523.5,450.6 527.8,454.7 532.1,458.7M434.9,397.5L439.1,397.6 443.2,397.6 447.4,397.6 451.5,397.6 455.7,397.6 459.8,397.6 463.9,397.5 468.1,397.5 472.2,397.5M472.2,397.5L476.6,397.6 480.9,397.6 485.2,397.7 489.5,397.8 493.9,397.9 498.2,397.9 502.5,397.9 507.1,397.8 511.7,397.6 516.3,397.4 520.9,397.3 525.5,397.1 530.1,396.8 534.7,396.6 539.3,396.4 543.9,396.1 548.4,395.9 553.0,395.6 557.6,395.3 562.2,395.0 566.8,394.7 570.6,394.4 574.5,394.1 578.3,393.8M466.2,382.2L469.6,381.8 472.9,381.4 476.6,382.5 480.2,383.6 483.4,381.3 486.5,378.9 489.8,378.1 493.1,377.2 496.4,376.4 497.7,372.3 498.9,368.3 502.3,362.5 505.4,358.4 508.3,354.3 512.2,350.1 516.1,346.0 519.5,343.0 522.9,340.0 526.0,338.1 529.0,336.3 532.1,337.2 535.3,338.2 538.1,335.6 540.8,332.9M540.8,332.9L538.2,330.4 535.6,327.9 531.1,325.9 528.1,327.1 525.1,328.4 521.4,326.3 518.0,328.7 514.6,331.2 512.2,334.1 509.9,337.1 509.7,333.1 509.6,329.2 509.4,325.2M509.4,325.2L505.8,325.3 502.1,325.5 498.5,325.6 494.8,325.7 491.2,325.8 491.0,320.5 490.9,315.3 490.8,310.0 490.6,304.7M540.8,332.9L543.4,335.3 545.9,337.6 549.6,339.7 553.3,341.8 552.6,345.2 551.9,348.7 552.4,351.2M509.4,325.2L513.7,325.0 518.0,324.9 522.4,324.7 526.7,324.5 531.0,324.3 535.3,324.0 539.6,323.8 543.9,323.6 548.2,323.3 552.5,323.0 556.8,322.7 561.1,322.5 565.4,322.2 569.7,321.8 574.0,321.5M574.0,321.5L577.3,318.7 580.5,319.2M574.2,321.5L574.8,326.3 575.4,331.0 576.1,335.8 576.7,340.6 577.4,345.3 578.0,350.1 581.9,349.8 585.7,349.5 589.6,349.1M575.3,362.0L579.2,361.3 583.1,360.6 586.9,359.9M580.5,319.2L582.7,317.3 584.9,315.3 587.4,313.4 589.9,311.5 591.0,308.6 587.5,304.8 582.8,300.6 584.9,294.7 583.7,290.2 586.8,286.5 589.9,282.8M502.7,273.3L506.9,273.1 511.1,273.0 515.2,272.8 519.4,272.6 523.6,272.4 527.7,272.2 531.9,272.0 536.0,271.8 540.2,271.6 544.4,271.3 548.5,271.0 552.7,270.8 556.8,270.5 561.0,270.2 565.1,269.9 569.3,269.6 573.4,269.3 577.6,268.9 582.2,273.1 583.5,277.6 586.7,280.2 589.9,282.8M589.9,282.8L593.5,284.5 597.2,286.1 600.8,287.8 604.4,289.5 602.9,291.9M608.7,289.0L611.4,286.5 610.7,281.1 610.1,275.7 609.4,270.3 608.8,264.9 609.6,259.4 610.3,254.0 611.0,248.5 610.6,244.0 610.2,239.4 609.8,234.8 609.4,230.3M608.8,264.9L612.9,264.5 617.0,264.1 621.1,263.8 625.2,263.4 629.4,263.0 633.5,262.5 637.6,262.1 641.2,262.0 644.7,261.9 647.4,266.2 650.1,270.4 650.9,272.6M637.6,262.1L637.9,267.5 638.3,272.9 638.7,278.3M611.0,248.5L614.4,248.3 617.8,248.0 621.2,247.8 624.6,247.5 628.5,247.2 632.4,246.9 636.3,246.5 640.2,246.2 644.1,245.8 648.0,243.4 651.9,240.9M624.6,247.5L624.2,243.3 623.8,239.1 624.0,233.3 624.1,227.5 626.0,221.5 627.7,215.5 629.4,211.9 631.0,208.2 632.2,204.6 633.4,201.0 633.8,197.3 634.1,193.7M652.6,236.0L649.9,231.5 647.2,227.0 646.5,222.4 645.7,217.9 645.0,213.4 644.3,208.8 643.2,203.2 642.2,197.5 641.1,191.9 640.0,186.2M604.3,197.1L605.1,202.7 606.0,208.2 606.8,213.7 607.7,219.2 608.6,224.8 609.4,230.3" fill="none" stroke="#000" stroke-width="1.6" stroke-linejoin="round"/>
</g>
<rect x="192.3" y="116.5" width="510.2" height="452.5" fill="none" stroke="#000" stroke-width="1.1"/>
<line x1="181" y1="159.9" x2="192.3" y2="159.9" stroke="#000" stroke-width="1.1"/><text x="174.2" y="164.1" font-size="12.2" text-anchor="end">46°N</text><line x1="181" y1="206.2" x2="192.3" y2="206.2" stroke="#000" stroke-width="1.1"/><text x="174.2" y="210.39999999999998" font-size="12.2" text-anchor="end">44°N</text><line x1="181" y1="252.2" x2="192.3" y2="252.2" stroke="#000" stroke-width="1.1"/><text x="174.2" y="256.4" font-size="12.2" text-anchor="end">42°N</text><line x1="181" y1="298.7" x2="192.3" y2="298.7" stroke="#000" stroke-width="1.1"/><text x="174.2" y="302.9" font-size="12.2" text-anchor="end">40°N</text><line x1="181" y1="345.4" x2="192.3" y2="345.4" stroke="#000" stroke-width="1.1"/><text x="174.2" y="349.59999999999997" font-size="12.2" text-anchor="end">38°N</text><line x1="181" y1="391.4" x2="192.3" y2="391.4" stroke="#000" stroke-width="1.1"/><text x="174.2" y="395.59999999999997" font-size="12.2" text-anchor="end">36°N</text><line x1="181" y1="437.2" x2="192.3" y2="437.2" stroke="#000" stroke-width="1.1"/><text x="174.2" y="441.4" font-size="12.2" text-anchor="end">34°N</text><line x1="181" y1="483.8" x2="192.3" y2="483.8" stroke="#000" stroke-width="1.1"/><text x="174.2" y="488.0" font-size="12.2" text-anchor="end">32°N</text><line x1="181" y1="530.9" x2="192.3" y2="530.9" stroke="#000" stroke-width="1.1"/><text x="174.2" y="535.1" font-size="12.2" text-anchor="end">30°N</text><line x1="202.0" y1="569.0" x2="202.0" y2="580" stroke="#000" stroke-width="1.1"/><text x="202.0" y="598" font-size="12.2" text-anchor="middle">95°W</text><line x1="304.8" y1="569.0" x2="304.8" y2="580" stroke="#000" stroke-width="1.1"/><text x="304.8" y="598" font-size="12.2" text-anchor="middle">90°W</text><line x1="406.4" y1="569.0" x2="406.4" y2="580" stroke="#000" stroke-width="1.1"/><text x="406.4" y="598" font-size="12.2" text-anchor="middle">85°W</text><line x1="508.5" y1="569.0" x2="508.5" y2="580" stroke="#000" stroke-width="1.1"/><text x="508.5" y="598" font-size="12.2" text-anchor="middle">80°W</text><line x1="610.0" y1="569.0" x2="610.0" y2="580" stroke="#000" stroke-width="1.1"/><text x="610.0" y="598" font-size="12.2" text-anchor="middle">75°W</text>
<rect x="228.70" y="633.1" width="10.41" height="17.6" fill="#8A20E8" stroke="#000" stroke-width="0.8"/><rect x="239.11" y="633.1" width="10.41" height="17.6" fill="#6818F0" stroke="#000" stroke-width="0.8"/><rect x="249.52" y="633.1" width="10.41" height="17.6" fill="#4A10F0" stroke="#000" stroke-width="0.8"/><rect x="259.94" y="633.1" width="10.41" height="17.6" fill="#1400F8" stroke="#000" stroke-width="0.8"/><rect x="270.35" y="633.1" width="10.41" height="17.6" fill="#1018F8" stroke="#000" stroke-width="0.8"/><rect x="280.76" y="633.1" width="10.41" height="17.6" fill="#2838E8" stroke="#000" stroke-width="0.8"/><rect x="291.17" y="633.1" width="10.41" height="17.6" fill="#3450E0" stroke="#000" stroke-width="0.8"/><rect x="301.58" y="633.1" width="10.41" height="17.6" fill="#4060D8" stroke="#000" stroke-width="0.8"/><rect x="312.00" y="633.1" width="10.41" height="17.6" fill="#3A70E8" stroke="#000" stroke-width="0.8"/><rect x="322.41" y="633.1" width="10.41" height="17.6" fill="#3078F0" stroke="#000" stroke-width="0.8"/><rect x="332.82" y="633.1" width="10.41" height="17.6" fill="#2A80F0" stroke="#000" stroke-width="0.8"/><rect x="343.23" y="633.1" width="10.41" height="17.6" fill="#1890FF" stroke="#000" stroke-width="0.8"/><rect x="353.64" y="633.1" width="10.41" height="17.6" fill="#10A0F8" stroke="#000" stroke-width="0.8"/><rect x="364.05" y="633.1" width="10.41" height="17.6" fill="#10B0FF" stroke="#000" stroke-width="0.8"/><rect x="374.47" y="633.1" width="10.41" height="17.6" fill="#10C0F8" stroke="#000" stroke-width="0.8"/><rect x="384.88" y="633.1" width="10.41" height="17.6" fill="#40C0F0" stroke="#000" stroke-width="0.8"/><rect x="395.29" y="633.1" width="10.41" height="17.6" fill="#60C4F0" stroke="#000" stroke-width="0.8"/><rect x="405.70" y="633.1" width="10.41" height="17.6" fill="#88CCF0" stroke="#000" stroke-width="0.8"/><rect x="416.11" y="633.1" width="10.41" height="17.6" fill="#A0D4F0" stroke="#000" stroke-width="0.8"/><rect x="426.53" y="633.1" width="10.41" height="17.6" fill="#B0DCF4" stroke="#000" stroke-width="0.8"/><rect x="436.94" y="633.1" width="10.41" height="17.6" fill="#C8E6F6" stroke="#000" stroke-width="0.8"/><rect x="447.35" y="633.1" width="10.41" height="17.6" fill="#FFFAB0" stroke="#000" stroke-width="0.8"/><rect x="457.76" y="633.1" width="10.41" height="17.6" fill="#FFF080" stroke="#000" stroke-width="0.8"/><rect x="468.17" y="633.1" width="10.41" height="17.6" fill="#FFE860" stroke="#000" stroke-width="0.8"/><rect x="478.59" y="633.1" width="10.41" height="17.6" fill="#FFE030" stroke="#000" stroke-width="0.8"/><rect x="489.00" y="633.1" width="10.41" height="17.6" fill="#FFD020" stroke="#000" stroke-width="0.8"/><rect x="499.41" y="633.1" width="10.41" height="17.6" fill="#FFC010" stroke="#000" stroke-width="0.8"/><rect x="509.82" y="633.1" width="10.41" height="17.6" fill="#FFA800" stroke="#000" stroke-width="0.8"/><rect x="520.23" y="633.1" width="10.41" height="17.6" fill="#FFA000" stroke="#000" stroke-width="0.8"/><rect x="530.65" y="633.1" width="10.41" height="17.6" fill="#FF8C00" stroke="#000" stroke-width="0.8"/><rect x="541.06" y="633.1" width="10.41" height="17.6" fill="#FF7800" stroke="#000" stroke-width="0.8"/><rect x="551.47" y="633.1" width="10.41" height="17.6" fill="#FF6000" stroke="#000" stroke-width="0.8"/><rect x="561.88" y="633.1" width="10.41" height="17.6" fill="#FF5000" stroke="#000" stroke-width="0.8"/><rect x="572.29" y="633.1" width="10.41" height="17.6" fill="#FF3010" stroke="#000" stroke-width="0.8"/><rect x="582.70" y="633.1" width="10.41" height="17.6" fill="#FF0000" stroke="#000" stroke-width="0.8"/><rect x="593.12" y="633.1" width="10.41" height="17.6" fill="#F00010" stroke="#000" stroke-width="0.8"/><rect x="603.53" y="633.1" width="10.41" height="17.6" fill="#E00000" stroke="#000" stroke-width="0.8"/><rect x="613.94" y="633.1" width="10.41" height="17.6" fill="#D00000" stroke="#000" stroke-width="0.8"/><rect x="624.35" y="633.1" width="10.41" height="17.6" fill="#CC1010" stroke="#000" stroke-width="0.8"/><rect x="634.76" y="633.1" width="10.41" height="17.6" fill="#E04040" stroke="#000" stroke-width="0.8"/><rect x="645.18" y="633.1" width="10.41" height="17.6" fill="#F07070" stroke="#000" stroke-width="0.8"/><rect x="655.59" y="633.1" width="10.41" height="17.6" fill="#FFB0B0" stroke="#000" stroke-width="0.8"/><text x="259.9" y="673.5" font-size="12.0" text-anchor="middle">-90</text><text x="291.2" y="673.5" font-size="12.0" text-anchor="middle">-75</text><text x="322.4" y="673.5" font-size="12.0" text-anchor="middle">-60</text><text x="353.6" y="673.5" font-size="12.0" text-anchor="middle">-45</text><text x="384.9" y="673.5" font-size="12.0" text-anchor="middle">-30</text><text x="416.1" y="673.5" font-size="12.0" text-anchor="middle">-15</text><text x="447.3" y="673.5" font-size="12.0" text-anchor="middle">0</text><text x="478.6" y="673.5" font-size="12.0" text-anchor="middle">15</text><text x="509.8" y="673.5" font-size="12.0" text-anchor="middle">30</text><text x="541.1" y="673.5" font-size="12.0" text-anchor="middle">45</text><text x="572.3" y="673.5" font-size="12.0" text-anchor="middle">60</text><text x="603.5" y="673.5" font-size="12.0" text-anchor="middle">75</text><text x="634.8" y="673.5" font-size="12.0" text-anchor="middle">90</text><text x="447.3" y="626.5" font-size="12.4" text-anchor="middle" xml:space="preserve">Absolute Vorticity  (10-5 s-1)</text>
</svg>
</body></html>
